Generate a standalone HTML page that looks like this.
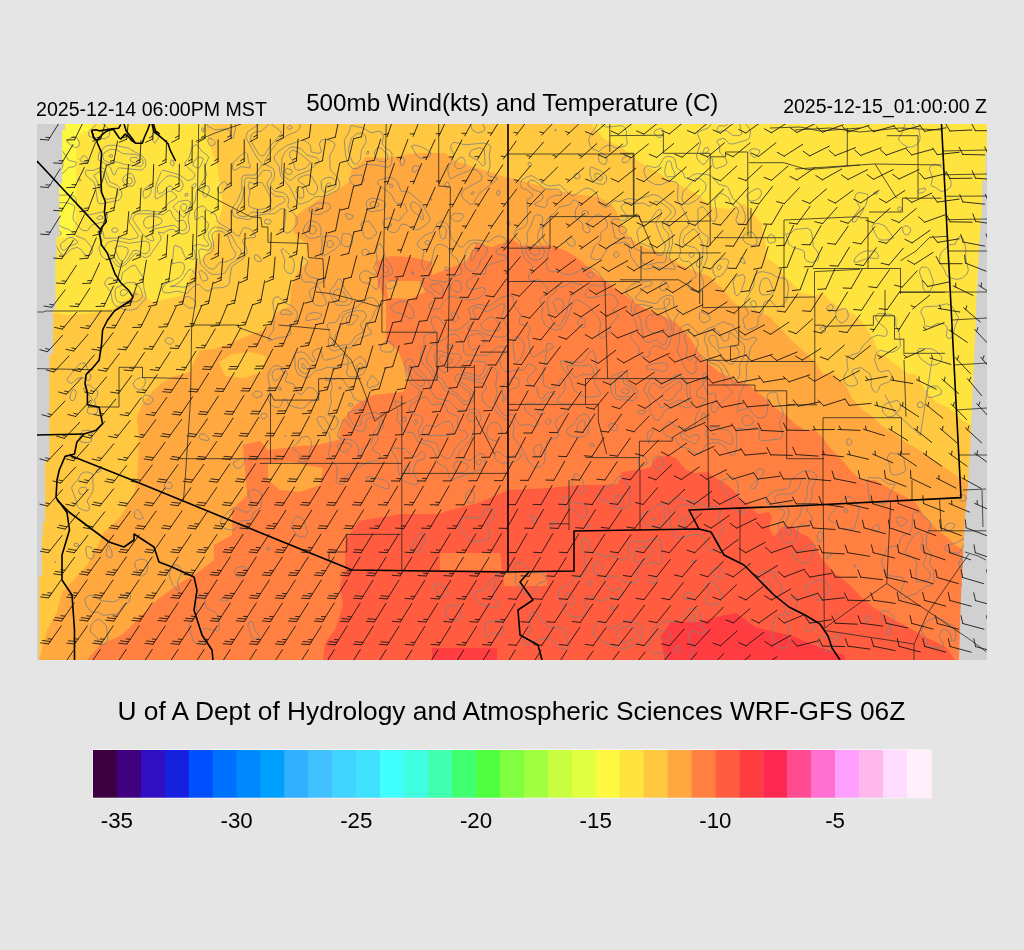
<!DOCTYPE html>
<html><head><meta charset="utf-8"><style>
html,body{margin:0;padding:0;background:#e5e5e5;width:1024px;height:950px;overflow:hidden}
svg{display:block}
text{font-family:"Liberation Sans",Arial,sans-serif;fill:#000}
</style></head><body>
<svg width="1024" height="950" viewBox="0 0 1024 950">
<defs><clipPath id="mc"><rect x="37" y="124" width="950" height="536"/></clipPath><clipPath id="dc"><polygon points="65.1,124.0 65.1,130.0 62.2,130.0 62.2,183.0 59.2,183.0 59.2,237.0 56.5,237.0 56.5,260.0 55.4,260.0 55.4,310.0 53.0,310.0 53.0,354.0 49.4,354.0 49.4,460.0 45.7,460.0 45.7,464.0 45.1,464.0 45.1,522.0 43.0,522.0 43.0,535.0 41.9,535.0 41.9,576.0 39.0,576.0 39.0,660.0 959.0,660.0 961.0,597.0 963.0,558.0 965.0,519.0 968.4,480.0 970.8,437.0 971.8,409.0 973.7,368.0 975.5,330.0 976.6,292.0 979.6,239.0 982.0,210.0 982.4,181.0 985.5,181.0 985.5,153.4 987.0,153.4 987.0,124.0"/></clipPath></defs>
<rect width="1024" height="950" fill="#e5e5e5"/>
<text x="36" y="116.3" font-size="19.6">2025-12-14 06:00PM MST</text>
<text x="512.3" y="111" font-size="24.2" text-anchor="middle">500mb Wind(kts) and Temperature (C)</text>
<text x="987" y="113.1" font-size="19.5" text-anchor="end">2025-12-15_01:00:00 Z</text>
<g clip-path="url(#mc)">
<rect x="37" y="124" width="950" height="536" fill="#ffc840"/>
<polygon points="30.0,118.0 202.0,118.0 209.0,141.0 211.0,149.0 217.0,163.0 223.0,206.0 219.0,219.0 215.0,237.0 206.0,254.0 197.0,263.0 189.0,276.0 187.0,293.0 176.0,297.0 152.0,302.0 137.0,291.0 130.0,297.0 115.0,308.0 93.0,313.0 67.0,315.0 58.0,313.0 30.0,313.0" fill="#ffe440"/>
<polygon points="591.0,118.0 591.0,124.0 604.0,139.0 624.0,149.0 639.0,162.0 657.0,172.0 669.0,179.0 684.0,187.0 697.0,194.0 712.0,207.0 729.0,209.0 744.0,204.0 754.0,214.0 762.0,224.0 765.0,240.0 767.0,258.0 777.0,265.0 783.0,275.0 793.0,284.0 802.0,293.0 814.0,296.0 823.0,293.0 830.0,301.0 841.0,308.0 854.0,314.0 865.0,325.0 873.0,339.0 879.0,353.0 889.0,359.0 898.0,366.0 908.0,374.0 916.0,374.0 920.0,382.0 928.0,394.0 936.0,402.0 947.0,407.0 955.0,413.0 963.0,421.0 971.0,425.0 995.0,425.0 995.0,118.0" fill="#ffe440"/>
<polygon points="30.0,118.0 93.0,118.0 92.0,128.0 80.0,134.0 76.0,150.0 76.0,200.0 75.0,225.0 72.0,237.0 30.0,240.0" fill="#fff840"/>
<polygon points="39.0,660.0 42.0,650.0 47.0,630.0 57.0,612.0 62.0,592.0 74.0,580.0 87.0,565.0 97.0,547.0 104.0,532.0 120.0,517.0 134.0,495.0 137.0,480.0 139.0,440.0 137.0,417.0 142.7,403.5 152.5,391.8 160.3,384.0 174.0,376.2 189.6,372.3 195.5,358.6 199.4,350.8 215.0,348.8 230.6,343.0 250.0,335.0 265.8,329.3 277.5,311.7 290.0,306.0 291.0,287.0 298.0,272.0 310.0,259.0 306.0,244.0 293.0,232.0 295.0,217.0 306.0,208.0 321.0,198.0 333.0,193.0 350.0,181.0 351.0,170.0 361.0,163.0 365.0,157.0 386.0,158.0 416.0,153.0 445.0,153.0 456.0,161.0 470.0,166.0 490.0,172.0 505.0,177.0 523.0,181.0 549.0,189.0 574.0,194.0 599.0,197.0 614.0,207.0 622.0,224.0 629.0,237.0 644.0,247.0 664.0,254.0 679.0,264.0 700.0,273.0 710.0,277.0 723.0,289.0 732.0,301.0 740.0,307.0 756.0,310.0 770.0,317.0 783.0,331.0 793.0,342.0 805.0,352.0 816.0,363.0 823.0,374.0 834.0,374.0 846.0,386.0 852.0,398.0 861.0,409.0 873.0,417.0 881.0,425.0 893.0,433.0 904.0,441.0 916.0,448.0 928.0,456.0 940.0,464.0 951.0,472.0 963.0,480.0 968.0,482.0 995.0,482.0 995.0,670.0 30.0,670.0 30.0,660.0" fill="#ffa840"/>
<polygon points="219.0,362.0 232.0,354.0 250.0,352.0 266.0,356.0 262.0,372.0 245.0,378.0 225.0,376.0" fill="#ffc840"/>
<polygon points="30.0,670.0 30.0,660.0 87.0,660.0 100.0,645.0 122.0,635.0 137.0,620.0 157.0,600.0 180.0,583.0 197.0,573.0 214.0,560.0 214.0,545.0 232.0,535.0 232.0,510.0 247.0,495.0 245.0,470.0 243.0,445.0 260.0,441.0 268.0,450.0 300.0,446.0 318.0,445.0 338.0,440.0 343.0,420.0 355.0,405.0 373.0,395.0 403.0,392.0 410.0,380.0 398.0,350.0 386.0,342.0 386.0,300.0 378.0,285.0 376.0,262.0 390.0,256.0 410.0,257.0 432.0,262.0 432.0,275.0 450.0,268.0 467.0,261.0 476.0,244.0 492.0,247.0 506.0,242.0 511.0,238.0 520.0,245.0 533.0,246.0 549.0,245.0 564.7,250.3 575.6,256.6 585.0,264.4 594.4,272.2 606.9,281.6 619.4,291.0 630.3,298.8 641.2,306.6 650.6,311.2 660.0,314.4 669.4,319.0 677.2,323.8 689.0,337.0 704.0,360.0 719.0,372.0 734.0,380.0 749.0,385.0 764.0,397.0 774.0,407.0 786.0,415.0 796.0,425.0 805.0,430.0 814.0,429.0 822.0,437.0 830.0,448.0 842.0,460.0 852.0,472.0 862.0,480.0 875.0,480.0 889.0,488.0 904.0,496.0 916.0,503.0 924.0,515.0 936.0,529.0 947.0,537.0 955.0,545.0 963.0,550.0 995.0,550.0 995.0,670.0" fill="#ff8040"/>
<polygon points="385.0,281.0 421.0,281.0 425.0,292.0 410.0,299.0 388.0,298.0" fill="#ffa840"/>
<polygon points="268.0,463.0 290.0,462.0 323.0,468.0 320.0,485.0 300.0,492.0 280.0,490.0 268.0,480.0" fill="#ffa840"/>
<polygon points="323.0,660.0 325.0,643.0 335.0,630.0 343.0,605.0 340.0,585.0 345.0,570.0 345.0,541.0 359.0,521.0 401.0,514.0 437.0,514.0 481.0,502.0 508.0,490.0 549.0,488.0 580.0,485.0 600.0,485.0 618.0,484.0 622.0,472.0 650.0,468.0 656.0,458.0 667.0,455.0 676.0,458.0 686.0,470.0 695.0,473.0 707.0,472.0 714.0,477.0 723.0,482.0 732.0,489.0 741.0,498.0 751.0,507.0 758.0,514.0 769.0,512.0 772.0,517.0 769.0,528.0 774.0,537.0 783.0,526.0 792.0,526.0 797.0,531.0 808.0,537.0 815.0,544.0 818.0,552.0 825.0,563.0 836.0,574.0 850.0,585.0 861.0,597.0 873.0,607.0 889.0,617.0 904.0,625.0 920.0,634.0 936.0,642.0 947.0,648.0 955.0,660.0 955.0,670.0 323.0,670.0" fill="#ff5c40"/>
<polygon points="440.0,553.0 500.0,553.0 502.0,570.0 440.0,570.0" fill="#ff8040"/>
<polygon points="504.0,571.0 547.0,571.0 547.0,586.0 504.0,586.0" fill="#ff8040"/>
<polygon points="330.0,500.0 354.0,500.0 352.0,515.0 330.0,520.0" fill="#ff8040"/>
<polygon points="661.0,636.0 671.0,622.0 699.0,622.0 717.0,617.0 736.0,613.0 755.0,627.0 792.0,636.0 816.0,646.0 844.0,655.0 848.0,670.0 666.0,670.0" fill="#ff3c40"/>
<polygon points="432.0,648.0 497.0,648.0 497.0,670.0 432.0,670.0" fill="#ff3c40"/>
<polygon points="30.0,118.0 65.1,118.0 65.1,130.0 62.2,130.0 62.2,183.0 59.2,183.0 59.2,237.0 56.5,237.0 56.5,260.0 55.4,260.0 55.4,310.0 53.0,310.0 53.0,354.0 49.4,354.0 49.4,460.0 45.7,460.0 45.7,464.0 45.1,464.0 45.1,522.0 43.0,522.0 43.0,535.0 41.9,535.0 41.9,576.0 39.0,576.0 39.0,660.0 30.0,670.0" fill="#d0d0d0"/>
<polygon points="995.0,153.4 985.5,153.4 985.5,181.0 982.4,181.0 982.0,210.0 979.6,239.0 976.6,292.0 975.5,330.0 973.7,368.0 971.8,409.0 970.8,437.0 968.4,480.0 965.0,519.0 963.0,558.0 961.0,597.0 959.0,660.0 995.0,670.0" fill="#d0d0d0"/>
<g fill="none" stroke="#808080" stroke-width="0.8" clip-path="url(#dc)">
<path d="M266.9 208.0L270.6 204.0L271.1 200.0L269.9 196.0L263.0 183.7L261.0 182.2L255.0 184.0L249.0 181.9L248.2 186.0L250.0 192.0L248.3 200.0L249.0 206.0L252.3 208.0L259.0 209.7L266.9 208.0M185.8 210.0L187.0 206.0L185.6 204.0L182.6 204.0L180.5 206.0L181.0 209.1L183.0 211.2L185.0 211.1L185.8 210.0M662.9 254.0L665.3 248.0L665.2 244.0L661.0 237.2L655.9 224.0L655.9 222.0L661.5 214.0L661.0 210.1L659.0 209.3L657.0 210.6L649.2 222.0L647.2 224.0L639.0 227.9L636.8 232.0L639.0 242.5L651.0 247.2L657.0 255.1L661.0 255.7L662.9 254.0M149.5 228.0L160.1 224.0L161.9 222.0L161.9 220.0L160.1 218.0L155.0 216.1L149.0 216.2L145.3 218.0L143.4 222.0L144.3 226.0L147.0 228.4L149.5 228.0M623.2 234.0L626.1 232.0L626.7 230.0L625.0 227.3L620.4 226.0L618.9 228.0L619.8 232.0L621.0 233.6L623.2 234.0M124.0 260.0L127.5 254.0L128.3 250.0L127.3 248.0L121.0 245.9L117.0 246.3L114.7 248.0L119.0 258.7L121.0 261.1L124.0 260.0M141.2 246.0L140.5 246.0L141.2 246.0M538.7 254.0L539.6 250.0L537.0 245.9L535.0 244.5L533.0 244.5L531.0 245.9L529.4 250.0L531.0 253.4L535.0 255.4L538.7 254.0M473.2 260.0L476.9 252.0L477.0 249.9L475.0 248.6L472.8 250.0L471.0 254.7L471.0 260.2L473.2 260.0M561.9 312.0L564.0 306.0L563.0 300.7L559.0 298.5L555.0 299.4L553.1 302.0L556.6 312.0L559.0 313.8L561.9 312.0M353.0 324.0L358.2 318.0L358.0 316.0L357.0 315.3L351.0 314.9L348.3 316.0L346.5 318.0L346.3 322.0L347.1 324.0L349.0 325.3L353.0 324.0M732.8 364.0L739.0 356.0L739.1 352.0L737.0 347.7L735.0 346.2L727.0 346.7L719.0 348.6L716.6 338.0L715.0 335.6L711.0 335.1L709.0 337.5L708.7 340.0L711.0 344.4L717.2 350.0L727.0 362.0L731.0 364.7L732.8 364.0M452.3 434.0L453.6 432.0L453.3 428.0L451.0 422.4L449.0 421.1L445.0 421.6L435.0 427.2L427.0 425.0L423.4 428.0L422.2 432.0L423.0 434.4L425.0 435.6L449.0 435.3L452.3 434.0M715.0 434.0L712.5 434.0L715.0 434.0M269.2 124.0L261.0 131.3L255.0 132.0L251.9 134.0L250.8 136.0L250.8 140.0L252.6 144.0L258.7 154.0L261.0 155.8L263.0 155.9L265.0 154.4L268.6 148.0L280.7 134.0L281.5 132.0L271.2 124.0M292.3 128.0L291.0 125.5L289.0 125.7L287.1 128.0L289.0 129.4L292.3 128.0M200.5 166.0L203.2 160.0L203.0 158.0L199.0 156.9L195.0 160.0L192.6 164.0L193.5 166.0L197.0 168.0L199.0 167.8L200.5 166.0M247.2 216.0L251.0 212.5L253.0 212.0L261.0 212.9L271.0 210.5L277.0 205.8L283.0 202.9L285.0 200.1L284.5 198.0L283.0 196.7L275.0 196.1L271.0 192.3L268.1 188.0L267.0 184.0L267.4 182.0L271.0 177.0L271.7 174.0L271.0 171.9L269.0 170.5L263.0 170.3L257.0 178.1L255.0 178.7L247.0 177.6L245.0 178.8L244.0 192.0L241.3 202.0L237.5 208.0L236.6 212.0L237.2 214.0L240.0 216.0L245.0 216.7L247.2 216.0M114.7 198.0L117.0 196.1L117.8 194.0L117.4 190.0L115.5 188.0L109.5 186.0L107.3 184.0L103.0 171.8L101.0 170.9L95.3 174.0L93.9 176.0L96.6 180.0L103.1 198.0L107.0 199.3L114.7 198.0M163.5 192.0L169.0 185.8L171.0 186.1L177.0 191.2L179.0 191.5L181.0 190.5L183.3 186.0L182.2 182.0L180.9 180.0L177.0 177.2L171.0 175.7L167.0 176.2L159.0 184.1L157.3 188.0L157.5 192.0L159.0 193.8L163.5 192.0M546.5 206.0L547.3 200.0L549.1 198.0L555.0 195.3L561.0 195.5L561.7 194.0L561.1 192.0L559.3 190.0L557.0 189.2L545.0 189.1L535.0 180.9L531.0 180.0L529.0 181.1L527.6 184.0L528.7 186.0L533.0 189.4L541.0 192.5L543.1 196.0L542.9 198.0L541.4 200.0L534.3 204.0L535.0 205.1L545.0 207.8L546.5 206.0M193.1 188.0L195.6 186.0L196.1 184.0L195.0 183.3L191.4 186.0L193.1 188.0M185.3 216.0L187.8 212.0L190.4 204.0L190.4 202.0L187.0 200.2L179.0 201.4L173.5 206.0L173.7 208.0L183.0 217.5L185.3 216.0M378.7 206.0L379.0 204.0L375.0 201.6L371.0 202.0L369.9 204.0L371.0 207.0L373.0 207.7L378.7 206.0M652.3 264.0L657.0 262.5L663.0 262.9L665.0 262.2L665.9 260.0L666.7 254.0L669.3 246.0L669.0 236.0L667.2 232.0L663.1 228.0L662.2 224.0L664.2 220.0L670.1 214.0L671.1 212.0L670.6 210.0L663.0 203.9L657.0 201.4L655.0 201.7L651.0 205.6L649.0 206.3L643.0 202.9L635.0 203.9L629.0 202.7L625.0 203.3L621.5 206.0L621.0 208.0L626.9 216.0L627.6 218.0L627.0 219.2L623.0 220.6L615.0 218.6L611.8 220.0L611.5 222.0L615.0 237.9L619.0 239.2L631.0 237.6L635.0 249.0L642.4 252.0L640.5 256.0L640.6 258.0L643.0 263.3L647.0 265.1L652.3 264.0M317.4 210.0L318.8 208.0L316.2 208.0L316.2 210.0L317.4 210.0M154.1 240.0L151.5 234.0L153.0 230.2L155.0 228.8L173.0 225.2L175.0 225.7L180.3 230.0L183.0 230.5L185.0 229.8L186.4 228.0L186.6 226.0L185.0 221.6L183.0 220.1L177.0 221.4L172.7 216.0L171.0 211.2L169.0 210.1L163.0 214.8L149.0 213.7L137.0 213.9L135.0 214.7L133.0 217.9L133.0 220.1L141.1 232.0L147.0 238.6L151.0 240.8L153.0 240.9L154.1 240.0M586.3 216.0L588.4 214.0L588.3 212.0L585.0 210.3L583.0 211.0L581.3 214.0L583.0 216.1L586.3 216.0M538.9 260.0L543.0 256.6L544.5 252.0L543.6 248.0L539.1 242.0L537.5 238.0L537.9 234.0L542.3 222.0L542.9 218.0L541.0 215.5L537.0 214.8L534.2 216.0L531.8 224.0L527.5 232.0L526.8 234.0L527.8 240.0L525.1 248.0L525.8 252.0L529.0 257.1L533.0 259.7L538.9 260.0M445.4 238.0L446.6 230.0L445.0 227.3L443.0 226.2L441.0 226.4L439.1 230.0L440.2 236.0L441.0 238.0L443.0 239.1L445.4 238.0M65.2 250.0L69.0 246.0L75.9 244.0L78.2 242.0L73.0 237.7L69.0 237.2L60.5 244.0L61.0 248.5L63.0 250.3L65.2 250.0M123.2 264.0L127.3 260.0L133.0 250.8L137.0 250.4L143.0 253.6L147.0 253.6L149.0 251.2L149.9 248.0L149.0 242.6L145.0 241.0L129.0 243.3L115.0 240.4L108.4 242.0L105.2 246.0L104.7 248.0L105.9 252.0L107.9 254.0L113.0 256.0L119.0 264.2L123.2 264.0M429.7 244.0L429.9 242.0L429.0 241.0L427.0 240.4L424.8 242.0L425.2 244.0L427.0 245.0L429.7 244.0M475.5 270.0L477.9 268.0L480.9 260.0L485.0 255.9L487.6 250.0L487.4 248.0L485.1 246.0L479.0 243.4L475.0 242.9L470.9 244.0L466.4 250.0L464.9 254.0L464.1 264.0L465.8 268.0L469.0 270.9L471.0 271.3L475.5 270.0M591.5 278.0L594.0 276.0L593.6 274.0L591.0 272.1L589.0 272.3L586.9 274.0L586.8 276.0L589.0 277.8L591.5 278.0M459.1 292.0L461.5 290.0L461.0 284.0L459.0 280.8L455.0 280.6L451.3 284.0L450.7 288.0L452.1 290.0L455.0 291.7L459.1 292.0M557.7 326.0L561.1 324.0L566.8 312.0L569.9 298.0L581.4 288.0L582.8 286.0L581.0 284.0L577.0 284.0L571.0 281.9L563.0 287.2L557.0 285.9L555.4 292.0L548.2 298.0L546.9 302.0L549.3 314.0L553.5 324.0L557.7 326.0M442.1 294.0L443.6 290.0L441.0 285.0L437.0 283.4L431.0 284.6L430.1 286.0L431.1 288.0L439.0 293.6L441.0 294.5L442.1 294.0M292.2 314.0L291.0 311.9L286.6 310.0L283.0 309.7L280.5 312.0L281.0 314.5L287.0 314.2L291.0 315.2L292.2 314.0M338.1 346.0L350.5 344.0L355.0 336.6L362.9 332.0L363.1 330.0L360.6 326.0L360.5 324.0L365.8 318.0L366.5 316.0L364.7 312.0L361.0 310.5L355.0 310.9L347.0 313.0L343.0 316.0L339.9 328.0L336.0 334.0L332.7 344.0L333.1 346.0L335.0 346.9L338.1 346.0M735.3 384.0L740.0 374.0L739.2 366.0L744.3 356.0L744.5 346.0L741.5 342.0L731.0 332.8L729.0 332.9L728.9 338.0L727.8 340.0L725.0 341.5L722.3 340.0L719.0 331.6L715.0 330.0L709.0 331.0L705.8 334.0L704.1 340.0L707.6 348.0L707.9 356.0L711.0 359.2L719.0 361.2L722.6 364.0L725.5 368.0L733.0 383.2L735.3 384.0M691.3 360.0L695.0 354.2L698.3 344.0L697.3 340.0L694.6 336.0L691.0 332.5L689.0 331.9L685.2 334.0L684.7 338.0L687.7 348.0L686.3 354.0L686.8 358.0L689.0 360.5L691.3 360.0M422.5 386.0L424.8 384.0L424.3 380.0L422.8 378.0L416.7 374.0L411.0 365.5L409.0 365.5L409.0 371.0L413.0 380.0L417.0 384.5L420.1 386.0L422.5 386.0M578.9 376.0L583.0 374.2L591.0 375.0L593.0 374.0L593.8 372.0L593.0 368.6L589.0 364.6L583.0 366.0L571.0 365.0L567.2 366.0L567.2 368.0L568.4 370.0L575.0 377.2L577.0 377.6L578.9 376.0M277.0 380.0L283.3 374.0L283.5 372.0L282.2 370.0L279.0 368.6L273.9 370.0L271.8 374.0L273.0 379.5L275.0 381.1L277.0 380.0M281.1 390.0L281.0 388.0L279.0 386.8L277.8 388.0L279.0 390.2L281.1 390.0M450.6 458.0L454.2 450.0L460.2 442.0L466.4 438.0L467.6 436.0L467.5 434.0L465.0 431.4L461.0 430.1L459.0 428.5L457.4 424.0L458.1 418.0L457.1 416.0L447.7 412.0L445.0 404.8L441.0 403.7L433.0 404.7L431.0 403.9L427.0 397.6L425.0 396.8L423.0 397.2L411.4 404.0L409.0 408.0L409.1 410.0L411.0 412.8L420.1 416.0L422.6 418.0L422.7 422.0L418.3 430.0L419.0 436.6L422.3 440.0L433.0 442.0L436.9 444.0L439.5 452.0L442.0 456.0L447.0 458.9L450.6 458.0M475.3 420.0L477.0 416.0L475.0 413.1L471.0 412.8L468.4 414.0L466.9 416.0L467.0 418.0L469.0 420.8L473.0 421.2L475.3 420.0M706.1 420.0L706.5 418.0L705.0 413.7L703.0 412.9L701.1 418.0L701.6 420.0L703.0 421.4L705.0 421.3L706.1 420.0M752.1 424.0L753.4 422.0L753.0 420.0L749.0 415.8L745.0 415.6L742.6 418.0L741.7 422.0L745.0 425.4L749.0 425.7L752.1 424.0M405.6 422.0L406.0 418.0L405.0 416.9L403.0 417.1L402.2 420.0L404.2 422.0L405.6 422.0M581.5 432.0L583.8 430.0L585.0 426.0L585.0 421.8L583.0 419.5L579.0 422.6L576.6 428.0L576.9 430.0L578.9 432.0L581.5 432.0M731.8 444.0L733.0 440.0L732.5 436.0L729.0 430.8L727.0 429.8L721.0 429.4L715.0 426.8L709.0 427.8L706.3 430.0L705.2 434.0L705.9 436.0L709.0 438.8L721.0 440.1L731.0 444.6L731.8 444.0M697.8 442.0L699.5 438.0L699.2 436.0L697.0 434.5L695.0 434.6L689.0 437.3L683.0 433.0L680.2 434.0L681.0 437.8L683.0 439.5L687.0 440.1L693.0 443.5L695.0 443.8L697.8 442.0M480.5 464.0L481.5 462.0L481.0 459.8L479.0 459.0L477.2 460.0L476.0 462.0L476.2 464.0L479.0 464.8L480.5 464.0M464.2 472.0L468.2 468.0L468.2 466.0L466.7 464.0L461.0 461.4L457.0 461.5L455.0 462.6L453.7 466.0L455.0 470.9L459.0 473.0L464.2 472.0M621.5 502.0L622.3 500.0L621.0 495.8L619.0 494.9L614.8 496.0L614.1 498.0L615.9 502.0L619.0 503.2L621.5 502.0M847.9 512.0L847.9 510.0L847.0 509.0L845.0 508.5L843.7 510.0L845.0 512.3L847.9 512.0M637.5 562.0L643.5 560.0L650.7 556.0L653.1 552.0L652.9 550.0L651.4 548.0L647.0 547.0L636.8 548.0L633.4 560.0L634.7 562.0L637.5 562.0M598.7 574.0L601.3 572.0L602.8 568.0L601.0 564.0L597.0 561.7L595.0 562.3L593.7 564.0L593.2 570.0L595.0 574.4L598.7 574.0M591.7 584.0L592.2 582.0L591.0 580.0L587.4 582.0L586.8 584.0L589.0 585.5L591.7 584.0M573.3 604.0L574.4 600.0L574.0 598.0L571.0 593.9L569.0 592.6L567.0 592.6L565.5 594.0L565.2 596.0L567.0 600.7L571.0 605.4L573.3 604.0M259.0 124.0L247.3 132.0L246.0 138.0L257.0 157.9L262.4 164.0L255.0 175.1L245.0 175.0L242.8 176.0L241.8 178.0L241.8 190.0L237.0 201.6L233.6 206.0L232.5 210.0L232.7 214.0L233.7 216.0L237.0 217.7L249.0 219.7L253.9 216.0L267.0 213.8L273.0 213.8L275.0 213.4L281.0 208.7L285.0 208.8L285.8 210.0L285.8 216.0L283.9 230.0L285.0 232.3L287.0 233.2L291.0 231.4L295.8 226.0L297.5 222.0L297.0 218.0L292.9 212.0L288.5 208.0L287.8 206.0L288.8 200.0L287.0 195.6L283.0 192.6L275.0 191.3L271.3 188.0L270.4 184.0L274.1 178.0L274.6 172.0L273.0 168.4L264.7 164.0L264.4 162.0L269.9 152.0L278.0 142.0L287.0 135.5L297.0 131.4L299.9 128.0L299.9 124.0M471.2 124.0L470.9 126.0L472.4 130.0L477.0 132.9L482.1 132.0L484.6 130.0L484.8 128.0L482.6 124.0M597.0 124.0L595.4 128.0L590.8 134.0L588.6 140.0L590.0 146.0L593.0 149.1L599.0 151.7L603.0 147.7L607.0 145.4L611.0 145.5L615.0 147.8L617.0 148.0L625.3 146.0L627.0 144.0L627.2 142.0L626.1 136.0L626.6 132.0L625.0 128.2L623.0 126.2L621.0 125.6L607.0 127.2L603.3 126.0L601.4 124.0M79.0 146.0L79.4 142.0L77.0 138.0L73.0 137.0L67.8 140.0L67.1 142.0L73.0 146.6L77.0 147.5L79.0 146.0M123.5 266.0L127.0 263.2L135.0 253.5L138.4 254.0L145.0 257.9L149.5 256.0L160.7 240.0L160.9 236.0L158.9 234.0L158.4 232.0L163.0 233.2L169.0 229.8L173.0 229.4L179.0 233.3L183.0 234.3L187.0 232.8L189.0 230.9L189.6 228.0L188.1 220.0L188.5 216.0L191.0 208.0L195.5 200.0L196.2 192.0L206.1 176.0L206.6 174.0L205.1 170.0L205.0 166.0L208.5 158.0L208.1 156.0L202.6 152.0L197.0 145.0L195.0 144.9L193.0 146.5L191.1 150.0L189.3 158.0L185.0 162.0L185.0 164.0L186.5 166.0L194.8 174.0L194.9 176.0L193.0 178.7L189.0 180.6L187.0 180.3L179.0 174.6L163.0 170.1L161.2 172.0L157.0 181.7L155.4 188.0L155.0 198.1L157.0 199.0L169.0 191.1L171.0 191.1L174.8 194.0L176.6 196.0L176.3 198.0L169.0 202.8L161.0 211.5L157.0 211.9L147.0 210.5L137.0 211.1L133.7 212.0L131.8 214.0L129.2 222.0L137.6 234.0L138.4 236.0L137.2 238.0L129.0 239.6L121.0 237.9L105.0 238.3L104.1 238.0L103.2 232.0L102.1 230.0L99.0 230.0L98.4 234.0L102.3 240.0L98.9 248.0L101.3 256.0L105.0 258.9L112.2 260.0L117.0 266.0L119.0 266.9L123.5 266.0M425.8 158.0L429.9 156.0L430.9 154.0L430.4 152.0L421.0 146.6L415.0 145.0L411.4 146.0L417.0 156.2L421.0 158.3L425.8 158.0M757.1 156.0L759.7 152.0L759.4 150.0L753.0 148.5L749.6 150.0L750.6 154.0L753.0 156.8L755.0 157.3L757.1 156.0M605.6 164.0L607.2 160.0L606.5 156.0L601.0 152.5L599.0 154.1L598.5 156.0L599.0 161.8L603.0 164.5L605.6 164.0M627.1 162.0L629.5 160.0L629.9 158.0L629.0 156.5L627.0 155.9L623.0 157.9L622.1 160.0L623.0 162.8L627.1 162.0M403.9 164.0L405.0 160.0L403.0 157.0L401.0 157.9L400.0 162.0L401.0 165.3L403.0 165.3L403.9 164.0M531.5 166.0L531.0 163.0L529.0 162.0L527.8 164.0L528.9 166.0L531.0 166.6L531.5 166.0M110.5 202.0L119.0 200.2L120.9 198.0L122.1 194.0L119.9 188.0L117.0 185.1L109.8 182.0L105.2 170.0L103.0 168.0L99.3 168.0L93.0 170.5L87.0 170.2L85.1 172.0L86.4 176.0L93.0 181.2L94.8 184.0L97.8 202.0L99.0 203.5L101.0 203.9L110.5 202.0M579.7 178.0L580.0 176.0L579.0 174.0L577.0 173.2L575.0 174.0L574.4 176.0L575.0 178.2L577.0 179.1L579.7 178.0M357.2 186.0L361.5 184.0L364.4 180.0L363.0 176.1L361.0 175.0L353.0 175.5L349.3 178.0L350.5 182.0L353.0 184.8L357.2 186.0M602.6 338.0L609.9 332.0L610.0 326.0L617.0 317.4L619.5 316.0L613.4 312.0L612.4 310.0L617.3 306.0L618.2 304.0L617.4 300.0L615.0 296.3L611.0 294.2L591.0 297.7L587.0 297.2L585.5 296.0L585.3 292.0L591.0 285.2L593.0 284.9L601.0 286.6L604.2 284.0L603.5 280.0L597.8 272.0L593.0 268.3L589.0 267.4L585.0 268.1L573.0 274.0L569.0 275.0L565.0 274.4L559.0 271.3L551.0 271.9L547.9 270.0L545.7 262.0L549.3 250.0L549.3 246.0L543.8 240.0L542.3 234.0L543.1 228.0L548.1 218.0L555.6 212.0L559.0 207.2L569.0 204.9L570.8 204.0L573.0 200.5L575.0 200.0L578.3 202.0L579.2 204.0L575.5 210.0L575.2 218.0L581.3 222.0L582.6 224.0L583.0 229.9L585.0 232.0L587.0 232.7L589.7 232.0L590.2 230.0L587.4 224.0L587.4 222.0L595.0 215.4L599.0 214.7L603.0 216.5L606.0 220.0L607.7 224.0L606.8 228.0L601.4 232.0L600.6 234.0L600.9 240.0L594.5 246.0L590.8 256.0L591.1 258.0L595.0 259.6L601.0 259.0L609.0 245.9L613.0 243.8L625.0 242.0L628.3 244.0L631.0 256.4L637.6 266.0L645.0 269.3L655.0 267.5L673.0 269.2L675.0 269.0L675.7 268.0L670.1 260.0L669.1 256.0L672.5 244.0L672.3 234.0L671.0 230.6L667.4 226.0L667.1 224.0L669.0 220.9L675.0 215.4L675.4 210.0L673.0 206.6L659.0 196.2L653.0 194.4L637.0 200.0L629.0 198.4L619.0 201.7L615.0 200.6L613.0 201.4L609.0 206.0L605.0 207.2L601.0 205.0L599.0 202.4L597.0 194.4L595.5 192.0L589.0 188.2L585.0 188.2L573.0 196.1L569.0 194.1L561.0 185.6L559.0 184.9L549.0 186.1L545.0 184.4L533.0 176.2L531.0 175.6L527.0 176.8L521.8 180.0L520.0 184.0L521.8 188.0L527.0 189.9L532.5 194.0L532.8 196.0L527.0 200.0L527.6 222.0L525.2 226.0L523.0 227.8L515.0 230.9L514.1 234.0L514.6 236.0L520.1 242.0L524.1 258.0L532.9 266.0L532.2 270.0L528.6 276.0L529.0 279.7L531.0 281.0L539.0 279.8L541.0 280.5L547.1 288.0L547.6 290.0L546.7 292.0L539.6 300.0L542.7 308.0L541.5 316.0L544.4 324.0L546.0 326.0L555.0 330.4L561.0 328.5L564.6 324.0L569.3 314.0L573.0 302.2L575.0 300.3L579.0 300.2L590.8 308.0L595.0 314.3L599.0 318.0L600.6 324.0L599.0 335.7L601.0 338.4L602.6 338.0M222.9 192.0L225.4 190.0L227.0 186.4L226.8 184.0L225.0 181.6L221.0 183.4L217.7 188.0L217.6 190.0L219.0 192.8L221.0 193.0L222.9 192.0M499.8 194.0L500.1 192.0L499.0 190.0L497.0 191.3L496.6 194.0L499.0 195.6L499.8 194.0M756.2 200.0L759.4 198.0L761.5 194.0L761.0 190.8L759.0 188.5L755.0 189.3L747.6 194.0L746.6 196.0L748.4 200.0L751.0 201.4L756.2 200.0M877.2 194.0L877.0 191.8L874.5 192.0L873.3 194.0L877.2 194.0M185.0 196.1L185.0 193.8L187.0 193.2L188.4 194.0L187.0 196.0L185.0 196.1M855.2 222.0L861.1 214.0L866.2 204.0L868.1 196.0L867.2 194.0L859.0 192.5L857.0 193.1L855.1 196.0L855.1 198.0L860.0 208.0L852.6 218.0L852.5 222.0L855.2 222.0M382.0 210.0L384.8 208.0L385.6 206.0L385.0 202.5L383.0 200.6L373.0 198.0L369.0 199.0L367.0 201.3L366.3 204.0L367.0 207.6L369.0 210.7L371.0 211.9L382.0 210.0M320.6 214.0L329.2 210.0L330.7 208.0L329.6 204.0L325.0 202.7L317.0 203.4L309.8 208.0L309.0 210.0L309.9 212.0L313.0 213.9L317.0 214.7L320.6 214.0M352.8 218.0L353.0 215.7L347.0 213.6L345.1 214.0L347.0 218.6L349.0 219.4L352.8 218.0M461.1 220.0L464.1 216.0L463.0 214.0L455.0 213.3L450.9 216.0L451.0 218.3L455.0 221.2L459.0 221.2L461.1 220.0M371.6 238.0L376.4 234.0L376.7 232.0L369.0 221.0L362.4 222.0L361.1 224.0L361.1 226.0L363.9 236.0L367.0 238.6L369.0 239.0L371.6 238.0M440.5 308.0L443.4 302.0L449.0 296.8L451.0 296.2L457.0 298.1L463.0 298.2L469.0 300.3L477.0 298.7L482.1 296.0L484.9 292.0L484.4 288.0L483.0 287.3L475.0 289.1L469.0 289.0L466.6 286.0L466.7 282.0L468.3 280.0L477.0 274.7L485.0 274.1L486.1 268.0L487.0 266.0L489.0 264.8L504.4 260.0L506.6 258.0L505.0 255.4L499.0 254.7L495.5 252.0L497.0 249.3L503.0 246.9L506.0 244.0L506.2 240.0L504.5 238.0L499.0 235.6L495.0 236.9L489.0 241.5L477.0 240.0L471.0 240.2L467.5 242.0L463.0 246.7L461.0 247.3L459.0 246.2L451.6 238.0L448.5 226.0L445.0 222.4L441.0 221.2L437.0 223.6L433.0 231.9L425.0 235.2L419.4 240.0L417.0 244.0L417.7 246.0L423.0 250.0L424.0 252.0L421.4 264.0L423.0 268.2L425.0 269.9L427.0 268.8L431.4 262.0L434.5 248.0L437.0 244.8L441.0 244.0L447.0 246.7L453.0 256.0L457.0 258.8L461.6 270.0L461.6 274.0L453.0 276.5L447.0 281.5L445.0 281.9L431.0 280.1L425.0 275.0L421.5 280.0L420.6 284.0L427.0 290.7L433.0 294.0L435.6 298.0L434.9 300.0L429.8 304.0L428.6 306.0L429.2 308.0L435.0 309.7L440.5 308.0M510.5 224.0L509.0 220.4L507.0 221.9L507.3 224.0L509.0 225.7L510.5 224.0M91.4 254.0L92.4 252.0L92.2 248.0L85.0 239.4L77.0 236.1L69.0 229.5L63.0 227.6L57.0 224.0L55.0 224.3L51.0 228.0L50.4 234.0L46.6 240.0L47.0 241.2L49.0 242.6L53.0 243.0L55.0 244.3L61.0 254.1L63.0 255.3L65.0 255.2L71.0 249.1L77.0 247.4L81.0 249.4L84.3 254.0L87.0 255.6L89.0 255.6L91.4 254.0M814.2 262.0L817.9 260.0L819.1 256.0L817.6 252.0L813.3 246.0L811.9 234.0L810.4 230.0L807.0 228.2L795.0 229.4L791.0 233.0L785.8 234.0L788.7 244.0L793.0 247.3L803.0 250.3L804.3 252.0L804.6 258.0L807.0 261.1L811.0 262.5L814.2 262.0M59.0 236.2L56.0 234.0L56.0 232.0L59.0 230.8L60.6 232.0L61.3 234.0L59.0 236.2M757.0 244.0L756.9 238.0L753.0 232.6L751.0 231.9L747.0 232.8L743.0 236.0L743.0 240.1L747.0 243.9L753.0 245.7L757.0 244.0M37.0 236.5L39.1 236.0L39.4 234.0L37.0 232.1M774.9 242.0L775.5 240.0L774.1 236.0L771.0 234.5L769.0 235.3L767.3 238.0L768.1 242.0L771.0 243.3L774.9 242.0M962.5 278.0L967.0 274.0L968.4 270.0L965.7 258.0L965.7 248.0L963.0 238.0L961.0 236.4L959.0 236.6L957.7 238.0L955.4 244.0L949.0 245.1L941.8 252.0L940.5 254.0L939.3 260.0L939.4 262.0L943.4 268.0L947.0 276.0L951.0 278.1L957.0 279.4L962.5 278.0M261.5 260.0L259.0 256.1L257.0 254.9L255.0 255.0L254.2 256.0L255.0 259.7L257.0 261.2L261.0 261.6L261.5 260.0M317.4 284.0L325.0 280.6L325.4 278.0L321.0 279.0L317.0 278.7L311.0 277.2L307.0 274.4L304.8 270.0L307.8 262.0L307.0 259.8L303.0 257.7L301.0 262.0L300.8 274.0L302.2 280.0L305.0 282.3L311.0 281.7L316.7 284.0L317.0 285.1L317.4 284.0M745.4 264.0L743.4 258.0L741.0 257.4L740.1 260.0L741.0 261.9L745.4 264.0M448.0 270.0L448.4 268.0L447.0 266.5L445.0 267.5L445.1 270.0L447.0 270.9L448.0 270.0M927.4 292.0L929.0 291.5L932.1 288.0L933.2 284.0L933.1 280.0L929.0 269.5L927.0 267.4L923.0 266.9L920.6 268.0L919.4 272.0L922.2 280.0L923.1 288.0L925.0 291.3L927.4 292.0M737.1 296.0L740.8 292.0L745.0 280.0L744.6 276.0L743.0 274.6L736.9 276.0L734.7 278.0L733.2 282.0L735.0 294.2L737.1 296.0M392.2 288.0L395.6 286.0L397.0 284.0L396.5 282.0L393.0 280.4L387.3 282.0L385.8 284.0L386.2 288.0L389.0 289.2L392.2 288.0M666.5 290.0L668.4 288.0L668.4 286.0L666.0 282.0L663.0 281.0L661.0 283.2L659.8 288.0L661.0 290.3L663.0 290.8L666.5 290.0M322.3 306.0L326.3 304.0L325.9 300.0L319.0 288.1L317.0 286.1L315.0 286.5L310.1 290.0L309.3 292.0L310.0 296.0L314.2 304.0L317.0 305.5L322.3 306.0M272.0 340.0L277.0 338.0L287.0 336.5L290.9 334.0L289.8 326.0L295.0 322.4L297.6 316.0L296.9 312.0L293.0 306.6L285.0 302.8L279.0 297.2L277.0 296.7L274.0 298.0L272.6 302.0L274.2 312.0L273.7 330.0L267.7 338.0L269.0 340.6L272.0 340.0M338.2 350.0L343.0 348.0L351.0 347.9L359.0 338.4L371.4 334.0L371.4 332.0L367.4 326.0L367.7 324.0L372.4 318.0L375.0 310.7L379.2 306.0L377.4 302.0L373.5 298.0L369.0 297.4L355.4 308.0L343.0 311.7L340.5 314.0L337.0 321.2L335.0 322.5L329.0 323.0L327.6 324.0L327.1 326.0L330.1 334.0L328.1 342.0L329.0 347.1L331.0 350.0L333.0 351.1L338.2 350.0M412.6 318.0L414.3 314.0L413.2 310.0L409.0 303.9L405.0 301.0L399.0 301.9L390.9 306.0L390.2 308.0L395.0 312.2L403.0 313.9L409.0 318.6L412.6 318.0M457.6 320.0L459.0 318.0L458.3 316.0L455.0 312.4L453.0 311.6L451.6 314.0L452.1 320.0L453.0 321.4L455.0 321.7L457.6 320.0M876.4 392.0L878.6 390.0L879.8 386.0L881.0 384.8L889.0 381.8L891.0 379.4L891.7 376.0L891.0 373.4L889.0 370.9L887.0 370.4L881.0 372.0L877.9 370.0L874.6 360.0L875.8 354.0L879.0 350.5L881.0 350.2L887.0 352.2L893.0 352.1L897.1 350.0L900.5 346.0L899.2 332.0L895.9 326.0L895.8 318.0L893.0 315.3L889.0 314.2L879.0 313.4L877.0 314.2L875.8 316.0L875.7 318.0L877.9 322.0L885.6 328.0L887.0 330.9L887.0 334.7L885.0 336.4L877.0 335.2L871.0 337.8L862.8 346.0L859.0 352.6L848.6 356.0L847.0 358.0L846.8 360.0L848.1 370.0L845.0 374.1L843.6 378.0L844.4 382.0L847.0 385.1L851.0 386.2L855.0 385.5L857.2 384.0L857.8 382.0L851.9 372.0L852.7 370.0L855.0 368.7L861.0 367.6L870.0 374.0L871.3 378.0L871.0 385.6L873.0 390.6L874.5 392.0L876.4 392.0M585.1 326.0L585.0 320.4L583.3 318.0L581.0 317.9L579.0 319.3L577.4 322.0L578.6 326.0L583.0 327.8L585.1 326.0M735.1 454.0L736.8 446.0L736.2 432.0L737.0 429.0L739.0 428.2L747.0 429.8L755.0 427.8L758.5 428.0L760.0 430.0L758.6 438.0L760.3 440.0L763.0 440.7L779.0 439.2L782.5 436.0L782.4 432.0L779.3 424.0L780.2 420.0L783.0 415.0L783.3 412.0L778.5 402.0L777.1 394.0L775.3 392.0L771.0 392.3L767.9 394.0L766.7 396.0L768.1 400.0L767.3 412.0L765.5 416.0L763.0 417.7L759.0 418.2L757.0 417.4L753.2 414.0L749.0 407.6L739.0 411.1L737.5 410.0L739.4 396.0L746.8 378.0L746.1 366.0L749.1 356.0L749.9 350.0L751.7 346.0L756.7 340.0L756.1 338.0L753.0 337.3L747.0 339.9L743.0 339.0L737.9 334.0L733.0 325.4L723.0 321.6L714.9 326.0L707.0 328.7L701.0 333.8L699.0 334.0L689.0 324.3L685.0 324.7L681.0 327.6L680.1 330.0L679.1 336.0L679.5 342.0L677.0 350.0L685.0 368.6L687.9 372.0L691.0 374.0L695.0 372.8L696.2 370.0L695.9 362.0L699.0 356.0L701.0 354.7L709.0 362.2L717.0 365.1L720.5 368.0L724.3 378.0L724.0 384.0L732.3 392.0L731.7 394.0L720.3 404.0L717.0 410.2L715.0 412.1L713.0 412.5L711.3 410.0L711.4 406.0L712.1 404.0L715.0 402.0L716.1 400.0L715.3 394.0L715.0 393.1L713.0 393.3L709.0 394.4L707.0 393.0L703.1 384.0L705.0 382.2L707.4 376.0L706.5 374.0L705.0 373.2L703.0 373.7L702.4 376.0L703.0 384.0L697.0 390.9L696.2 394.0L697.0 396.1L699.0 397.6L705.0 398.6L705.8 400.0L701.0 405.3L695.5 418.0L695.0 426.5L691.0 429.1L679.0 427.6L674.8 426.0L671.0 421.4L669.0 421.3L662.9 428.0L662.8 432.0L667.0 436.5L673.0 437.8L675.0 439.2L681.0 446.9L689.0 448.7L697.0 453.7L699.0 454.2L701.0 453.4L706.2 444.0L715.0 442.7L719.0 443.1L724.5 446.0L728.0 452.0L731.0 454.7L733.0 455.2L735.1 454.0M599.1 396.0L600.3 394.0L600.2 392.0L593.7 382.0L598.0 372.0L595.6 364.0L595.7 356.0L593.0 351.3L591.0 351.2L589.0 352.7L585.1 360.0L581.0 362.5L561.0 360.7L560.4 362.0L561.3 366.0L570.2 378.0L573.8 390.0L585.0 397.4L599.1 396.0M456.3 478.0L481.0 469.4L485.0 465.1L485.2 458.0L483.0 453.8L479.0 453.7L471.0 460.1L469.0 460.5L461.0 457.9L458.6 456.0L458.3 454.0L459.1 452.0L465.0 446.2L471.5 438.0L474.3 428.0L479.0 423.1L480.6 420.0L480.2 414.0L477.6 410.0L475.0 408.7L463.0 411.1L459.0 410.3L455.2 408.0L449.0 401.1L435.8 398.0L430.5 390.0L429.6 384.0L425.5 376.0L417.0 367.8L411.7 360.0L409.0 358.8L407.0 359.5L404.2 364.0L407.1 378.0L411.0 383.7L419.5 390.0L420.4 392.0L417.0 396.7L405.0 403.8L401.0 403.5L397.0 400.9L395.0 400.8L395.1 404.0L397.9 410.0L396.7 420.0L405.0 431.4L407.0 432.3L413.0 432.4L418.0 442.0L427.0 444.5L432.2 448.0L435.4 454.0L437.5 462.0L438.7 464.0L445.0 466.8L447.0 468.8L449.0 477.1L451.0 479.8L453.0 479.9L456.3 478.0M666.9 370.0L668.0 366.0L666.9 364.0L663.0 362.5L651.0 364.4L647.0 366.0L646.4 368.0L649.0 369.3L655.0 369.5L663.0 371.6L666.9 370.0M303.3 408.0L305.0 407.2L309.9 402.0L317.0 399.1L317.8 396.0L316.9 392.0L313.0 388.3L309.0 387.3L306.8 388.0L303.0 393.4L301.0 394.3L299.0 393.9L297.1 392.0L295.0 386.2L293.1 384.0L286.1 382.0L285.3 380.0L287.4 374.0L285.0 368.8L279.0 365.8L275.0 365.6L273.0 366.5L269.8 370.0L267.8 376.0L270.2 390.0L267.7 398.0L270.2 404.0L275.0 407.6L279.0 407.3L281.8 404.0L283.0 399.4L285.0 398.8L287.0 400.3L288.4 404.0L291.0 406.0L299.0 408.2L303.3 408.0M375.3 386.0L378.9 384.0L378.4 382.0L373.0 375.8L371.0 376.2L367.4 382.0L367.3 386.0L369.0 387.9L375.3 386.0M587.0 382.1L587.0 382.1M257.1 398.0L261.8 396.0L262.2 394.0L260.9 392.0L259.0 391.1L255.0 391.5L252.6 394.0L253.2 396.0L257.1 398.0M893.2 416.0L897.9 412.0L900.2 408.0L900.4 404.0L899.0 401.5L897.0 400.4L887.0 403.1L883.3 406.0L882.3 408.0L882.9 412.0L887.0 416.3L889.0 417.1L893.2 416.0M737.0 412.2L737.0 411.5L737.0 412.2M584.5 436.0L587.0 434.3L588.1 432.0L589.6 418.0L587.0 414.7L583.0 413.7L579.0 416.2L573.0 424.8L568.1 428.0L567.0 429.4L566.9 432.0L569.0 435.6L579.0 437.4L584.5 436.0M415.0 424.7L413.7 422.0L415.0 419.9L417.0 420.7L417.6 422.0L417.0 423.8L415.0 424.7M498.1 440.0L501.2 436.0L502.0 432.0L501.5 428.0L497.0 422.6L493.0 421.9L489.0 425.2L487.2 428.0L487.0 434.9L488.6 438.0L491.0 439.7L495.0 440.6L498.1 440.0M649.2 442.0L650.0 438.0L653.1 432.0L652.1 430.0L651.0 429.7L648.1 432.0L647.0 435.7L649.0 443.3L649.2 442.0M302.5 462.0L307.0 460.4L309.0 458.3L309.5 452.0L311.6 446.0L311.0 440.6L309.0 437.5L307.0 436.3L301.0 437.3L298.5 442.0L292.6 448.0L299.9 454.0L299.0 462.0L302.5 462.0M851.3 444.0L852.0 442.0L851.0 439.8L849.0 438.5L847.0 439.6L847.0 444.3L849.0 445.2L851.3 444.0M594.5 446.0L593.0 443.6L591.0 443.1L589.9 444.0L591.0 446.4L594.5 446.0M646.5 464.0L647.0 460.0L645.0 456.8L641.0 456.0L639.0 457.8L638.1 462.0L639.0 464.3L643.0 465.9L646.5 464.0M660.5 468.0L663.0 465.0L663.0 460.0L661.0 457.1L659.0 456.1L655.0 456.5L652.6 460.0L653.5 466.0L657.0 468.8L660.5 468.0M240.0 468.0L245.2 462.0L245.0 458.0L241.0 458.4L233.9 462.0L233.1 464.0L235.0 467.2L237.0 468.4L240.0 468.0M755.2 488.0L757.7 484.0L757.4 480.0L761.0 477.4L763.6 474.0L763.8 470.0L763.0 469.3L759.0 468.8L756.8 470.0L756.0 472.0L756.9 480.0L750.9 486.0L751.0 488.2L753.0 488.8L755.2 488.0M623.9 508.0L628.9 506.0L630.2 504.0L629.0 496.0L630.0 490.0L629.7 488.0L623.0 478.1L621.0 476.0L619.0 475.7L613.1 484.0L601.4 490.0L599.6 494.0L599.5 498.0L601.0 499.8L608.7 502.0L615.0 507.7L619.0 508.5L623.9 508.0M389.6 488.0L388.8 484.0L384.9 480.0L369.0 476.5L367.0 476.8L365.9 478.0L374.4 484.0L385.0 488.7L387.0 489.2L389.6 488.0M745.3 512.0L744.5 508.0L739.1 500.0L737.8 494.0L738.1 484.0L736.1 480.0L733.0 477.1L731.0 476.8L723.0 480.0L720.7 482.0L719.9 486.0L729.2 496.0L732.7 508.0L734.7 510.0L741.0 512.4L743.0 512.9L745.3 512.0M233.8 530.0L236.3 528.0L239.0 522.8L241.0 521.0L251.0 520.1L254.0 512.0L261.0 507.5L261.6 494.0L260.5 492.0L253.0 489.3L248.3 492.0L247.8 494.0L251.0 499.4L252.0 504.0L251.7 508.0L249.0 511.5L245.0 512.4L237.0 507.9L233.3 508.0L230.0 510.0L221.9 518.0L220.4 522.0L221.0 524.8L223.0 527.7L227.0 529.4L233.8 530.0M473.5 502.0L474.7 494.0L473.0 491.0L469.0 489.7L466.4 492.0L465.4 498.0L467.0 501.2L469.0 502.6L471.0 503.1L473.5 502.0M966.1 500.0L966.4 498.0L965.3 496.0L963.0 494.7L961.0 494.4L958.4 496.0L958.5 498.0L961.0 500.7L963.0 501.5L966.1 500.0M854.5 528.0L859.4 510.0L854.7 500.0L851.0 497.1L847.0 496.8L841.0 501.3L835.0 509.9L828.8 516.0L828.2 518.0L829.3 520.0L836.0 524.0L841.0 528.8L851.0 529.4L854.5 528.0M485.9 540.0L489.0 538.2L489.3 536.0L487.1 524.0L493.0 519.4L494.3 516.0L493.4 510.0L491.0 507.7L484.0 510.0L481.0 517.0L473.0 518.1L463.0 517.4L460.3 520.0L459.2 524.0L460.5 530.0L471.0 540.9L475.0 541.9L485.9 540.0M143.6 518.0L139.0 510.4L137.0 509.5L134.8 512.0L134.3 516.0L135.0 517.8L139.0 519.5L143.6 518.0M536.6 522.0L536.8 520.0L535.0 516.9L533.0 515.6L531.0 515.2L530.1 516.0L533.0 521.9L535.0 522.8L536.6 522.0M552.0 526.0L555.0 522.4L555.0 521.0L553.0 521.4L549.8 526.0L551.0 527.6L552.0 526.0M951.2 530.0L954.7 526.0L954.6 524.0L951.0 522.9L947.0 523.9L945.0 526.6L945.0 530.3L947.0 531.6L951.2 530.0M819.7 542.0L821.0 541.1L823.1 536.0L822.9 534.0L821.0 531.3L819.0 531.8L817.1 536.0L818.0 542.0L819.7 542.0M419.4 552.0L425.6 538.0L425.0 534.6L423.0 533.1L418.7 534.0L417.0 536.2L414.8 542.0L410.0 548.0L410.3 550.0L412.8 552.0L419.4 552.0M582.1 616.0L586.8 610.0L584.7 602.0L585.0 600.0L588.7 596.0L593.0 596.2L598.1 600.0L601.0 600.9L605.0 599.9L609.0 596.4L611.0 596.2L615.0 598.7L619.0 596.8L622.0 594.0L622.8 592.0L621.0 588.7L619.0 588.3L611.0 590.8L604.1 582.0L603.8 580.0L605.0 577.8L609.0 576.1L616.2 576.0L623.0 581.0L631.0 582.9L635.0 582.7L637.0 582.0L638.3 580.0L636.6 572.0L638.3 568.0L643.0 565.0L651.0 562.2L659.0 563.6L661.0 562.2L662.1 554.0L660.9 542.0L659.0 538.7L643.0 541.9L633.0 541.1L629.4 542.0L628.3 544.0L629.0 554.0L626.8 558.0L623.0 560.5L611.0 555.6L605.0 556.4L591.4 552.0L589.2 550.0L589.6 542.0L588.4 540.0L585.0 538.5L583.0 538.5L581.3 540.0L582.1 548.0L585.1 556.0L585.0 564.0L586.2 570.0L585.5 574.0L581.0 577.3L575.0 577.9L569.0 584.8L561.1 588.0L559.4 590.0L558.3 594.0L559.7 600.0L567.7 614.0L571.0 616.3L575.0 617.5L579.0 617.5L582.1 616.0M959.8 552.0L965.3 542.0L965.0 539.2L963.0 538.8L955.0 543.5L947.0 544.8L945.0 546.5L945.0 549.8L947.0 551.2L959.0 553.7L959.8 552.0M808.2 562.0L813.0 555.2L815.0 550.0L815.3 546.0L813.0 544.1L809.0 544.4L803.2 550.0L795.0 551.6L792.2 554.0L792.3 556.0L794.5 558.0L803.0 562.8L805.0 563.7L807.0 563.4L808.2 562.0M142.1 576.0L145.0 574.4L146.8 572.0L147.7 566.0L147.1 562.0L145.6 560.0L141.0 558.9L137.0 560.3L135.1 562.0L134.6 564.0L138.1 574.0L140.5 576.0L142.1 576.0M693.9 562.0L693.6 560.0L692.3 560.0L691.7 562.0L693.9 562.0M961.7 568.0L963.0 566.2L963.1 564.0L961.0 558.2L959.0 561.8L958.9 564.0L960.7 568.0L961.7 568.0M55.8 562.0L55.0 561.3L54.7 562.0L55.0 562.7L55.8 562.0M531.9 594.0L537.0 585.0L539.0 583.2L545.0 581.2L546.5 580.0L546.4 578.0L541.0 572.2L537.9 572.0L535.0 573.5L533.0 572.8L523.0 563.0L521.0 562.0L517.0 562.4L514.5 566.0L516.0 576.0L515.0 582.7L521.0 587.6L525.0 593.7L527.0 595.2L529.0 595.4L531.9 594.0M722.6 578.0L724.1 576.0L724.2 574.0L723.6 572.0L721.0 569.3L718.6 568.0L715.0 567.7L711.8 570.0L711.9 572.0L715.0 576.7L719.0 578.4L722.6 578.0M779.5 596.0L781.6 594.0L782.2 590.0L779.0 581.2L775.1 578.0L774.3 572.0L763.0 571.5L759.0 573.3L757.4 576.0L759.0 579.9L769.0 582.6L770.3 584.0L771.4 592.0L773.0 595.5L777.0 596.9L779.5 596.0M497.9 606.0L498.8 604.0L498.2 602.0L492.2 598.0L494.6 584.0L496.4 580.0L500.1 576.0L499.0 573.5L497.0 573.3L494.0 578.0L488.2 582.0L485.9 588.0L484.0 590.0L475.0 592.0L473.4 594.0L475.1 598.0L481.0 604.1L493.0 607.8L495.0 607.7L497.9 606.0M656.5 582.0L656.8 580.0L655.0 578.0L653.0 577.7L649.5 580.0L648.6 582.0L653.0 583.6L656.5 582.0M718.0 604.0L721.1 600.0L721.3 594.0L713.0 581.4L709.0 581.8L707.0 583.8L706.7 586.0L709.2 592.0L709.0 594.0L704.7 600.0L704.6 602.0L706.6 604.0L709.0 604.7L718.0 604.0M972.7 594.0L971.7 590.0L969.0 587.2L963.0 583.5L961.0 583.9L964.6 592.0L967.0 594.8L971.0 595.7L972.7 594.0M117.2 614.0L123.0 606.0L129.1 602.0L130.8 596.0L129.0 593.0L127.0 593.3L117.0 600.7L113.2 602.0L101.0 600.6L93.0 595.1L89.0 595.4L85.6 598.0L84.8 600.0L85.6 604.0L91.0 611.8L93.0 612.6L97.8 612.0L103.0 615.3L117.2 614.0M613.4 610.0L613.0 606.0L611.0 606.7L610.8 610.0L613.4 610.0M567.8 648.0L568.4 646.0L564.7 630.0L561.0 627.9L549.0 627.1L541.0 619.9L535.0 611.5L533.0 611.5L531.0 613.2L529.0 616.1L528.0 620.0L530.6 626.0L531.2 630.0L529.4 634.0L523.5 640.0L523.5 642.0L525.0 644.3L529.0 644.3L535.0 641.0L549.0 637.5L561.0 648.1L565.0 649.4L567.8 648.0M890.8 634.0L891.6 630.0L891.1 626.0L894.5 618.0L889.0 612.0L883.0 610.2L880.3 612.0L881.0 617.7L890.0 626.0L887.0 630.0L885.9 634.0L887.0 635.6L889.0 635.8L890.8 634.0M105.4 644.0L107.7 640.0L106.6 626.0L101.0 620.1L97.0 619.5L93.0 622.7L91.0 626.0L90.3 630.0L90.8 632.0L97.0 637.8L99.3 644.0L103.0 644.9L105.4 644.0M259.2 638.0L259.6 636.0L254.8 630.0L253.0 622.2L251.0 621.5L249.0 622.2L247.8 626.0L252.4 638.0L255.0 639.6L259.2 638.0M809.4 632.0L813.0 629.8L815.3 626.0L815.0 624.0L813.0 622.6L809.0 623.2L805.1 628.0L805.2 630.0L807.0 631.9L809.4 632.0M831.4 650.0L835.0 642.9L839.7 638.0L840.1 636.0L839.0 634.0L833.0 638.6L823.0 636.7L821.0 636.7L818.7 638.0L818.1 640.0L818.6 644.0L822.5 650.0L827.0 651.9L831.4 650.0M103.1 124.0L107.6 128.0L109.8 132.0L109.0 136.2L105.0 138.9L91.0 137.2L88.9 136.0L88.5 132.0L96.6 124.0M235.6 124.0L235.6 128.0L233.3 138.0L231.0 138.6L230.1 136.0L230.4 132.0L228.4 130.0L225.0 129.0L215.0 129.8L207.6 126.0L207.2 124.0M357.0 168.5L353.0 168.6L349.6 166.0L346.8 160.0L345.5 154.0L344.2 140.0L349.1 132.0L351.0 125.3L363.0 127.9L371.0 132.9L379.0 131.2L381.8 132.0L383.4 136.0L382.2 144.0L385.0 147.3L391.0 151.6L392.1 154.0L391.7 162.0L390.2 166.0L387.0 167.3L377.0 165.2L365.0 164.3L357.0 168.5M745.7 124.0L749.2 128.0L750.6 132.0L749.4 138.0L747.0 139.9L733.0 144.0L729.0 143.7L725.0 139.0L723.0 138.3L718.0 140.0L717.0 141.3L717.0 142.6L719.8 146.0L719.5 152.0L725.0 157.8L727.1 162.0L726.5 164.0L724.0 166.0L717.0 168.4L714.7 168.0L713.1 166.0L712.3 158.0L709.0 158.1L705.0 163.6L703.0 164.6L697.9 160.0L696.4 156.0L700.8 142.0L697.5 134.0L697.7 132.0L708.2 128.0L711.5 124.0M911.9 124.0L919.0 129.8L920.2 138.0L919.1 142.0L917.2 144.0L913.0 146.6L909.0 147.4L903.0 144.4L898.7 140.0L898.7 138.0L901.5 134.0L905.2 124.0M203.0 132.2L201.5 130.0L202.0 128.0L203.0 127.6L203.9 130.0L203.0 132.2M555.0 131.1L555.0 129.5L556.6 130.0L555.0 131.1M661.0 137.2L659.0 137.5L657.0 136.5L654.6 134.0L654.2 132.0L656.0 130.0L661.0 128.3L663.2 130.0L662.8 134.0L661.0 137.2M155.0 143.2L153.0 141.4L151.8 136.0L153.0 132.9L155.0 131.5L157.0 131.4L159.7 134.0L159.5 136.0L155.0 143.2M211.0 146.0L209.0 144.6L208.0 142.0L207.7 140.0L209.0 137.9L213.0 139.6L215.2 142.0L215.0 144.3L211.0 146.0M301.0 204.1L299.0 204.0L297.0 202.5L290.4 188.0L280.6 176.0L279.0 166.0L274.5 160.0L274.3 156.0L279.0 150.9L287.0 145.4L301.0 140.5L305.0 140.8L309.4 144.0L310.5 146.0L311.1 152.0L319.0 153.4L321.5 152.0L319.4 144.0L321.0 140.3L325.0 139.2L333.0 141.7L334.9 144.0L334.8 146.0L329.7 156.0L330.2 168.0L331.0 170.7L336.6 176.0L338.7 180.0L339.9 184.0L339.1 188.0L337.0 190.4L329.0 194.7L323.0 196.4L315.0 196.8L309.0 201.2L301.0 204.1M37.0 144.6L43.0 140.6L45.0 140.2L49.0 141.4L63.3 152.0L69.0 160.5L75.7 162.0L76.3 164.0L75.0 166.1L73.0 167.0L69.0 167.1L63.0 173.1L59.0 173.8L45.1 166.0L37.0 160.0M473.0 204.2L471.0 204.5L469.0 203.4L463.0 198.4L461.7 196.0L461.8 192.0L463.5 190.0L481.1 180.0L482.1 176.0L477.0 170.2L473.0 169.0L457.0 175.5L451.0 178.9L449.5 178.0L447.6 170.0L453.6 156.0L453.7 154.0L450.5 148.0L451.0 145.1L453.0 142.7L455.0 142.4L465.0 144.8L483.0 143.1L488.0 144.0L490.7 146.0L489.2 156.0L490.2 166.0L487.6 174.0L489.0 176.2L497.3 178.0L496.5 180.0L479.0 193.5L473.0 204.2M53.4 154.0L54.0 152.0L53.0 148.8L49.0 145.2L46.5 148.0L47.0 153.1L49.0 155.1L51.0 155.4L53.4 154.0M115.0 174.7L113.0 174.4L110.7 168.0L108.8 166.0L98.4 160.0L98.3 156.0L99.4 152.0L105.0 146.6L109.0 145.3L115.0 145.2L129.0 148.3L134.7 152.0L141.0 154.6L145.6 160.0L145.8 166.0L143.0 169.5L141.0 170.1L119.0 167.8L116.5 170.0L115.0 174.7M235.0 170.2L233.0 169.7L232.3 168.0L233.0 162.7L245.0 151.6L247.5 154.0L248.5 162.0L250.3 166.0L249.8 168.0L241.0 166.6L235.0 170.2M368.3 154.0L369.0 151.6L367.0 151.5L366.7 154.0L368.3 154.0M87.0 162.2L82.3 162.0L79.7 160.0L82.8 156.0L85.0 155.7L87.0 157.8L88.9 162.0L87.0 162.2M699.0 292.4L691.2 290.0L688.2 286.0L689.0 281.6L696.5 276.0L691.0 263.5L689.0 261.3L685.0 261.5L681.1 260.0L679.0 256.0L680.7 252.0L679.2 242.0L680.6 234.0L683.0 229.7L688.1 226.0L689.2 222.0L685.7 214.0L677.5 200.0L678.1 184.0L676.0 182.0L671.0 181.3L667.0 181.9L661.0 184.8L655.0 184.5L647.3 180.0L643.8 172.0L644.4 168.0L647.0 165.6L655.0 167.7L659.0 166.1L663.8 158.0L667.0 156.4L671.0 156.6L673.9 158.0L675.2 160.0L676.8 168.0L682.7 172.0L685.1 178.0L689.0 177.9L693.0 174.8L697.0 173.6L709.0 174.9L713.0 177.2L719.0 184.5L727.0 186.4L728.4 188.0L732.5 198.0L741.5 206.0L745.1 214.0L745.4 220.0L743.0 224.0L739.0 224.4L737.0 223.2L735.8 220.0L738.7 212.0L738.4 210.0L737.0 207.9L731.1 204.0L728.6 198.0L727.0 196.3L721.0 193.2L719.0 193.5L714.7 200.0L717.0 216.0L715.0 221.1L713.0 221.4L711.0 219.6L707.0 211.3L703.0 206.7L699.3 208.0L697.7 210.0L698.2 218.0L697.5 224.0L698.5 228.0L701.0 232.1L707.0 236.0L708.3 238.0L706.7 248.0L707.4 258.0L700.5 274.0L703.1 280.0L703.4 288.0L701.0 291.9L699.0 292.4M173.0 166.2L170.4 164.0L171.0 160.2L173.0 160.2L173.8 162.0L174.2 164.0L173.0 166.2M413.0 172.3L412.1 170.0L413.0 167.0L415.0 165.7L419.0 166.1L420.2 168.0L415.0 171.8L413.0 172.3M945.0 190.8L941.0 191.4L935.0 187.1L931.7 186.0L931.0 184.8L932.6 178.0L929.6 170.0L929.5 168.0L931.0 165.5L935.0 164.3L939.8 166.0L942.3 168.0L949.4 178.0L951.2 182.0L951.0 186.0L949.0 188.6L945.0 190.8M603.0 184.4L597.0 183.7L592.0 180.0L589.9 174.0L590.0 168.0L591.0 166.8L601.0 171.0L606.3 176.0L606.7 180.0L605.0 183.1L603.0 184.4M133.0 186.0L127.0 186.3L123.0 182.0L122.8 178.0L127.0 174.1L131.0 173.5L133.7 176.0L135.3 182.0L133.0 186.0M315.2 194.0L317.6 190.0L317.3 186.0L311.5 176.0L309.0 175.0L305.0 175.2L299.0 178.0L298.0 180.0L299.0 181.6L305.0 185.5L309.0 193.3L313.0 194.8L315.2 194.0M81.0 180.4L79.0 180.8L78.2 180.0L78.7 178.0L81.0 180.4M395.0 232.6L391.0 232.2L387.0 229.7L383.8 226.0L382.8 224.0L383.0 221.4L385.0 219.1L389.0 217.8L399.0 221.0L402.4 216.0L406.8 212.0L407.0 210.0L405.0 204.9L403.0 203.3L397.0 203.4L395.2 202.0L391.1 194.0L377.5 184.0L377.4 182.0L379.4 180.0L387.0 177.8L391.0 177.6L395.0 179.2L397.4 182.0L401.0 191.0L409.0 192.2L421.0 202.5L430.2 218.0L429.0 221.7L427.0 224.0L419.0 229.6L413.0 229.7L407.0 225.0L403.0 224.1L401.0 224.6L398.3 230.0L395.0 232.6M447.0 188.2L444.5 186.0L444.6 184.0L447.0 182.0L449.0 182.9L449.4 186.0L449.0 187.4L447.0 188.2M87.0 230.8L83.0 230.5L81.0 229.3L73.4 220.0L73.0 216.0L74.7 208.0L74.4 206.0L73.0 205.0L69.0 203.2L63.0 202.4L59.0 202.8L51.0 207.4L49.0 207.5L47.4 206.0L41.6 192.0L43.0 186.9L45.0 185.5L47.0 186.4L53.0 193.1L57.0 195.5L67.0 194.9L74.0 196.0L75.6 198.0L77.0 204.7L82.3 208.0L87.0 214.0L89.0 214.9L103.0 211.8L107.0 212.7L107.5 218.0L105.0 221.7L93.0 224.3L90.6 226.0L88.4 230.0L87.0 230.8M145.0 198.4L143.0 196.6L143.2 192.0L145.2 188.0L149.0 185.7L151.0 187.9L151.0 192.3L149.0 195.9L145.0 198.4M207.0 196.2L205.0 197.2L203.6 196.0L202.5 192.0L204.1 188.0L207.0 185.6L209.0 186.5L209.5 190.0L207.0 196.2M923.0 192.5L919.0 193.3L917.6 192.0L919.0 189.5L925.0 188.0L925.6 190.0L923.0 192.5M431.0 200.2L431.0 198.2L431.9 200.0L431.0 200.2M187.0 293.5L177.0 291.0L169.0 292.9L165.0 292.9L163.3 292.0L162.2 290.0L162.5 288.0L165.4 284.0L179.0 277.7L182.4 274.0L184.1 270.0L184.5 266.0L183.0 262.9L179.0 262.1L172.3 264.0L173.7 248.0L175.0 245.1L181.4 248.0L185.0 257.1L193.0 259.4L195.0 258.3L195.6 256.0L192.6 246.0L199.0 244.2L205.0 246.2L208.1 246.0L208.7 244.0L204.1 238.0L203.7 236.0L208.0 228.0L208.5 224.0L203.0 216.6L201.0 216.4L197.0 219.9L195.0 219.1L194.5 212.0L197.0 208.1L203.0 205.6L207.0 209.9L214.9 214.0L216.3 216.0L217.5 222.0L229.0 228.8L237.0 235.8L239.3 236.0L243.0 228.3L245.0 227.6L249.0 228.6L253.5 232.0L255.7 236.0L255.0 237.4L245.0 238.5L242.6 240.0L243.6 244.0L246.7 248.0L247.0 252.0L245.0 256.2L241.7 260.0L233.0 265.6L231.3 268.0L229.5 282.0L229.0 284.0L227.0 285.9L223.0 287.6L213.7 288.0L209.0 290.9L207.0 290.9L204.7 290.0L199.0 284.5L197.0 284.7L193.0 287.0L187.0 293.5M901.0 210.6L899.0 211.0L897.9 210.0L897.7 208.0L899.0 206.7L901.5 208.0L901.0 210.6M269.0 224.3L265.0 223.4L264.3 222.0L265.1 220.0L267.0 219.2L270.3 220.0L271.4 222.0L269.0 224.3M315.0 238.0L309.0 238.2L306.3 236.0L303.6 232.0L303.4 230.0L304.7 226.0L309.0 221.0L313.0 221.0L317.0 222.5L319.0 224.3L320.9 228.0L320.9 236.0L315.0 238.0M887.0 240.0L881.0 240.0L877.6 238.0L872.3 228.0L871.9 226.0L873.0 224.7L875.0 223.7L879.0 223.6L885.0 226.0L893.6 238.0L887.0 240.0M909.0 234.0L907.0 235.0L905.0 234.5L903.1 232.0L902.5 228.0L904.3 226.0L907.0 225.8L910.2 228.0L910.8 230.0L909.0 234.0M115.0 232.3L112.7 232.0L111.6 230.0L113.0 228.0L116.4 228.0L118.3 230.0L117.0 231.9L115.0 232.3M349.0 246.6L345.0 246.6L341.4 244.0L342.0 236.0L343.0 233.6L349.7 234.0L351.7 236.0L352.9 242.0L351.0 245.6L349.0 246.6M323.0 256.3L320.5 254.0L322.2 246.0L321.6 238.0L323.0 236.7L329.0 235.8L337.0 237.0L340.0 242.0L340.2 244.0L335.0 249.3L323.0 256.3M573.0 246.6L569.0 245.2L566.7 242.0L566.6 240.0L568.4 238.0L571.0 237.5L574.5 240.0L575.5 244.0L573.0 246.6M377.0 289.5L373.9 288.0L369.0 283.0L365.0 283.1L362.0 282.0L360.2 280.0L359.4 276.0L361.0 272.7L365.0 270.6L369.0 271.6L373.0 274.4L376.7 274.0L376.6 272.0L373.6 268.0L377.3 260.0L376.1 252.0L377.4 246.0L379.0 243.8L381.0 244.3L383.0 247.8L385.4 258.0L391.2 266.0L393.0 272.0L392.1 274.0L389.0 275.6L381.0 277.0L380.0 278.0L378.0 288.0L377.0 289.5M291.0 273.8L287.0 272.5L284.1 268.0L284.8 260.0L280.9 250.0L283.0 248.6L291.0 256.0L293.5 260.0L294.4 264.0L294.0 268.0L293.0 272.0L291.0 273.8M365.0 256.1L363.0 255.4L361.7 252.0L363.0 249.6L365.0 249.0L367.7 250.0L369.0 252.0L368.7 254.0L365.0 256.1M617.0 257.3L615.0 257.2L613.7 256.0L613.7 254.0L615.0 252.0L617.0 251.7L619.0 254.0L618.7 256.0L617.0 257.3M857.0 262.2L853.8 262.0L855.2 258.0L859.1 254.0L865.0 251.0L875.0 251.0L877.0 252.7L878.5 256.0L878.1 258.0L877.0 258.6L869.0 257.9L857.0 262.2M693.7 256.0L694.0 254.0L693.0 252.7L691.0 252.4L689.0 254.0L689.3 256.0L691.0 257.8L693.7 256.0M719.0 276.9L715.3 276.0L713.7 274.0L712.8 270.0L713.6 264.0L717.0 260.5L723.0 258.8L727.0 259.0L728.9 262.0L726.9 268.0L723.2 274.0L719.0 276.9M131.0 310.2L125.0 309.8L115.0 305.4L112.5 302.0L110.8 292.0L104.4 284.0L106.1 280.0L109.0 277.7L111.8 278.0L117.0 281.8L119.0 281.7L121.4 280.0L122.2 274.0L123.4 272.0L131.0 266.2L135.0 265.1L143.0 277.4L143.9 288.0L146.2 298.0L137.0 308.4L131.0 310.2M207.5 280.0L208.0 278.0L206.0 274.0L201.0 270.2L199.0 272.0L201.0 279.0L203.0 281.2L207.5 280.0M413.0 274.6L411.7 274.0L411.6 272.0L413.0 271.5L413.9 274.0L413.0 274.6M753.0 328.2L747.0 329.9L745.0 328.0L742.9 320.0L743.6 318.0L748.9 314.0L744.9 306.0L744.6 302.0L753.7 286.0L755.0 275.1L759.0 272.0L763.0 271.7L771.0 273.5L777.0 277.3L785.0 278.6L787.4 282.0L788.5 288.0L787.2 298.0L785.6 302.0L781.0 306.3L777.0 307.1L775.0 306.0L771.0 300.7L769.0 300.2L765.0 301.6L763.7 304.0L762.6 312.0L758.3 318.0L757.6 326.0L753.0 328.2M349.0 304.9L345.0 305.6L337.0 305.1L335.0 303.6L329.7 294.0L330.5 290.0L335.5 284.0L337.0 280.0L339.0 278.7L341.4 280.0L344.1 288.0L351.9 298.0L352.0 302.0L349.0 304.9M649.0 356.0L645.0 357.5L640.7 356.0L638.6 354.0L639.3 348.0L630.8 338.0L630.3 336.0L631.0 334.2L636.5 330.0L637.1 326.0L631.1 310.0L631.6 304.0L633.6 300.0L627.0 294.2L626.1 290.0L629.6 286.0L635.0 283.0L649.0 280.8L651.9 282.0L652.3 284.0L650.0 286.0L645.0 286.9L643.0 288.4L635.1 298.0L637.1 300.0L655.0 303.5L657.0 303.1L661.0 298.0L663.0 296.9L667.0 295.4L671.0 295.5L673.4 298.0L673.9 306.0L679.1 312.0L674.4 320.0L673.3 332.0L668.6 346.0L667.0 348.2L665.0 349.1L663.0 348.9L657.0 345.5L653.0 346.3L649.8 350.0L649.0 356.0M541.0 466.6L535.0 467.5L531.0 464.4L527.8 460.0L520.9 446.0L515.0 439.8L513.0 436.0L514.1 426.0L512.4 422.0L503.0 418.6L493.0 408.4L487.0 405.8L483.5 402.0L481.4 396.0L486.1 388.0L486.0 386.0L484.5 384.0L463.8 378.0L461.0 378.3L460.2 380.0L461.1 382.0L471.4 390.0L474.3 394.0L474.5 396.0L473.2 400.0L471.0 402.7L467.0 404.6L463.0 404.2L455.0 395.5L445.0 390.8L439.5 382.0L433.0 376.9L428.6 370.0L423.1 364.0L420.9 360.0L420.4 354.0L424.2 346.0L423.7 340.0L424.4 336.0L427.0 333.8L435.0 333.4L434.6 330.0L430.9 322.0L431.7 318.0L433.0 316.9L435.0 316.5L439.0 318.0L447.0 328.7L451.0 330.3L457.0 330.2L461.0 328.1L470.3 320.0L470.8 316.0L468.0 310.0L468.9 308.0L471.0 306.6L479.0 304.3L487.0 306.1L489.0 305.7L501.0 297.6L509.0 295.4L513.0 296.7L513.9 306.0L520.8 314.0L519.0 322.0L519.6 324.0L528.8 326.0L530.2 328.0L529.7 332.0L527.8 336.0L531.0 355.5L533.0 356.8L535.0 356.5L538.0 354.0L545.0 350.5L546.5 352.0L543.3 372.0L543.3 382.0L544.6 386.0L549.0 388.4L553.8 388.0L557.0 386.0L561.0 378.1L563.0 379.0L565.0 382.1L565.0 388.3L563.0 392.7L557.0 400.0L557.7 402.0L570.4 406.0L569.0 410.1L559.0 417.1L556.1 420.0L555.0 424.0L558.7 432.0L558.7 436.0L557.0 437.9L549.0 439.6L547.1 442.0L544.8 454.0L544.6 462.0L541.0 466.6M193.0 308.2L189.0 308.0L183.3 304.0L183.0 300.4L185.0 297.4L187.0 296.4L189.0 296.8L194.3 300.0L195.8 304.0L195.0 306.9L193.0 308.2M951.0 338.1L949.0 338.6L947.0 337.4L946.3 336.0L947.4 328.0L946.3 326.0L943.0 323.7L937.0 323.6L931.0 326.8L924.9 326.0L924.2 320.0L920.7 312.0L922.3 308.0L925.0 306.7L937.0 306.1L947.0 303.8L951.8 306.0L958.6 318.0L955.1 326.0L953.0 335.2L951.0 338.1M831.0 311.1L829.0 311.3L827.0 310.2L826.6 308.0L829.0 305.3L831.0 304.5L833.0 305.8L833.2 308.0L831.0 311.1M843.0 322.5L841.0 322.9L839.0 321.7L836.4 318.0L835.6 314.0L836.3 312.0L838.7 310.0L845.0 308.4L847.0 310.0L848.5 316.0L846.6 320.0L843.0 322.5M707.0 322.1L703.0 322.6L699.9 320.0L699.3 314.0L701.0 311.4L709.5 316.0L710.3 318.0L709.8 320.0L707.0 322.1M311.0 320.0L307.0 320.7L305.9 320.0L306.5 316.0L309.0 313.6L315.0 312.2L321.7 314.0L321.8 316.0L319.0 318.6L311.0 320.0M825.0 332.0L822.7 332.0L819.8 328.0L823.0 326.5L825.0 327.5L825.7 330.0L825.0 332.0M477.9 348.0L483.0 344.5L484.9 342.0L484.5 338.0L481.0 334.7L477.0 333.3L469.1 336.0L467.5 338.0L469.9 348.0L471.0 349.4L473.0 349.9L477.9 348.0M171.0 344.3L168.6 344.0L165.4 342.0L165.0 339.3L166.4 338.0L169.0 337.6L173.0 339.3L173.6 342.0L171.0 344.3M391.0 352.0L383.9 352.0L380.2 350.0L381.2 346.0L385.0 341.6L389.0 341.3L393.1 344.0L393.9 346.0L393.4 350.0L391.0 352.0M549.0 350.0L547.0 351.2L545.8 350.0L547.0 343.5L551.0 343.6L553.8 346.0L552.7 348.0L549.0 350.0M309.0 377.1L307.0 377.6L303.0 377.0L299.0 374.8L296.8 372.0L295.3 368.0L294.7 356.0L295.2 354.0L297.0 352.6L301.0 351.9L305.0 352.8L313.0 362.0L315.2 360.0L312.2 354.0L312.5 352.0L317.0 348.7L319.0 348.5L321.0 349.9L322.5 358.0L325.0 360.3L335.0 358.0L343.0 354.1L345.0 354.9L347.2 358.0L348.3 362.0L347.0 363.9L341.0 365.1L335.0 367.7L327.0 367.2L321.0 369.8L317.0 370.1L315.0 371.0L309.0 377.1M937.0 364.3L933.0 365.3L929.0 364.7L921.0 359.0L917.7 354.0L917.9 350.0L919.0 348.5L931.0 348.6L935.0 350.3L941.1 356.0L941.9 358.0L940.7 362.0L937.0 364.3M448.9 364.0L452.2 362.0L453.0 359.4L443.0 355.4L440.0 356.0L439.3 360.0L441.4 364.0L445.0 365.3L448.9 364.0M359.0 376.1L353.0 377.1L349.0 376.5L347.0 374.7L346.7 372.0L348.1 364.0L353.0 362.0L359.0 356.8L361.0 356.8L365.0 360.4L366.6 366.0L364.5 372.0L362.9 374.0L359.0 376.1M73.0 382.5L71.0 383.4L68.4 382.0L67.0 380.0L67.8 378.0L79.0 364.2L83.0 362.8L85.0 363.6L90.9 376.0L90.8 378.0L89.0 380.9L84.2 378.0L81.0 377.4L77.0 378.8L73.0 382.5M633.0 400.9L627.0 399.8L619.0 400.0L615.0 398.3L613.0 396.1L611.3 392.0L609.9 382.0L611.8 376.0L621.0 372.1L625.0 371.4L627.8 372.0L626.7 380.0L627.3 382.0L637.8 390.0L636.6 396.0L635.0 399.3L633.0 400.9M659.0 420.0L657.0 420.5L655.0 419.7L649.1 410.0L650.4 404.0L648.4 398.0L643.5 390.0L644.1 388.0L651.0 377.7L655.0 377.4L661.0 382.3L663.0 382.9L669.0 380.1L675.0 374.8L679.0 374.5L684.3 378.0L690.3 386.0L689.9 394.0L692.6 402.0L692.0 406.0L689.0 408.0L685.0 407.5L679.0 405.2L671.0 407.0L665.0 410.8L659.0 420.0M141.0 389.5L139.0 389.8L135.1 388.0L133.0 384.0L135.4 380.0L139.0 378.1L143.0 377.6L145.0 378.9L145.5 382.0L144.1 386.0L141.0 389.5M329.0 380.8L325.6 380.0L325.0 377.6L327.0 377.7L330.6 380.0L329.0 380.8M343.0 484.2L339.0 484.4L335.9 482.0L337.2 472.0L336.6 466.0L330.1 458.0L328.3 454.0L330.6 446.0L329.6 434.0L323.0 429.8L316.8 420.0L317.2 418.0L319.0 416.4L323.0 416.9L325.0 418.3L331.0 429.4L333.0 430.0L337.0 426.2L338.1 422.0L337.0 418.0L335.0 416.6L329.0 415.6L327.9 414.0L331.5 402.0L330.5 394.0L332.3 386.0L331.1 382.0L331.7 380.0L339.0 377.9L343.0 379.5L351.4 392.0L353.5 398.0L357.0 400.5L362.4 402.0L363.7 404.0L361.1 408.0L359.0 409.4L348.9 412.0L348.0 414.0L348.4 416.0L352.9 424.0L357.0 426.3L359.0 426.3L360.9 424.0L361.7 418.0L363.0 415.6L366.3 414.0L375.0 412.3L379.0 413.7L381.0 415.6L384.1 424.0L382.8 428.0L378.2 434.0L377.7 440.0L372.5 448.0L372.2 450.0L379.5 454.0L380.9 456.0L380.4 458.0L377.1 460.0L367.0 462.6L357.0 467.9L351.0 473.4L345.8 476.0L344.6 478.0L344.9 482.0L343.0 484.2M95.0 414.2L89.0 413.8L86.9 412.0L88.7 406.0L92.6 400.0L88.5 394.0L83.6 390.0L83.8 388.0L87.0 384.9L89.0 384.8L96.4 390.0L97.8 392.0L97.4 396.0L94.3 400.0L97.6 410.0L97.0 413.0L95.0 414.2M935.0 396.4L931.0 397.6L929.0 397.4L927.0 395.7L926.9 390.0L931.0 386.1L937.0 386.0L941.3 390.0L941.4 394.0L935.0 396.4M73.0 400.8L71.0 400.4L69.7 398.0L71.0 392.6L73.0 389.5L75.4 390.0L76.3 392.0L75.0 398.4L73.0 400.8M149.0 404.5L145.0 403.7L143.0 401.1L143.0 396.8L145.0 395.0L149.0 395.4L152.5 398.0L153.1 400.0L152.4 402.0L149.0 404.5M543.8 414.0L544.6 412.0L543.0 410.9L539.0 410.3L536.7 412.0L541.0 415.1L543.8 414.0M643.0 414.2L639.0 414.3L637.4 412.0L639.0 410.3L645.0 410.7L645.9 412.0L643.0 414.2M265.0 418.4L263.0 418.9L261.5 418.0L260.6 416.0L261.4 414.0L265.0 413.2L266.4 414.0L267.1 416.0L265.0 418.4M617.0 430.0L615.0 430.9L611.0 429.5L608.5 426.0L609.4 424.0L613.0 423.3L617.0 425.0L618.0 428.0L617.0 430.0M89.0 442.7L83.0 442.4L81.0 441.8L79.9 440.0L80.3 434.0L83.0 430.4L89.0 430.1L92.1 432.0L91.7 440.0L91.0 441.7L89.0 442.7M207.0 440.6L201.0 439.3L199.3 438.0L199.0 435.3L201.0 433.7L205.0 434.3L208.8 438.0L208.8 440.0L207.0 440.6M285.0 436.7L285.0 435.7L286.2 436.0L285.0 436.7M345.5 452.0L350.6 448.0L351.3 446.0L350.2 444.0L345.0 442.4L338.9 444.0L337.3 446.0L337.9 448.0L343.0 451.9L345.5 452.0M417.0 484.1L413.0 484.3L409.0 483.2L405.0 481.3L401.0 477.9L398.4 472.0L397.8 462.0L395.2 456.0L391.1 450.0L392.3 448.0L405.0 448.5L411.0 455.2L415.0 457.1L417.0 456.7L421.0 451.8L423.0 451.8L425.0 454.0L425.0 458.0L423.0 459.4L417.0 460.7L413.8 468.0L413.9 474.0L418.1 480.0L418.5 482.0L417.0 484.1M513.0 462.4L503.0 463.3L499.0 462.3L494.9 458.0L495.0 452.6L497.0 451.5L499.0 451.9L505.0 456.7L509.0 457.5L511.0 457.3L517.0 453.0L519.0 452.8L520.8 454.0L521.3 456.0L520.1 458.0L513.0 462.4M899.0 474.3L893.0 475.2L890.3 472.0L889.6 464.0L887.1 458.0L888.9 454.0L891.0 452.8L899.0 454.6L903.8 458.0L905.6 470.0L904.7 472.0L899.0 474.3M99.0 472.3L95.9 472.0L96.8 470.0L99.0 468.6L101.3 470.0L99.0 472.3M89.0 510.0L87.0 511.1L85.0 510.7L78.8 508.0L77.1 506.0L76.0 500.0L71.5 488.0L73.0 484.6L77.8 480.0L80.9 474.0L85.0 471.9L89.0 472.3L92.7 474.0L93.1 490.0L91.7 494.0L87.5 500.0L87.3 502.0L89.4 506.0L89.0 510.0M793.0 542.5L787.0 542.9L783.0 540.5L781.2 538.0L778.4 524.0L780.3 520.0L783.7 516.0L784.7 512.0L783.0 509.8L767.9 504.0L766.7 502.0L766.5 498.0L769.8 494.0L775.0 490.6L787.0 489.0L789.9 486.0L791.0 479.9L803.0 471.0L809.0 470.4L815.0 473.2L816.5 476.0L816.1 480.0L812.2 488.0L811.8 498.0L806.9 508.0L807.6 512.0L811.0 515.4L812.2 518.0L812.1 522.0L811.0 524.5L809.0 526.2L807.0 526.3L801.0 523.9L799.0 525.6L795.4 540.0L793.0 542.5M583.0 493.1L581.0 493.4L579.0 492.4L572.4 486.0L572.0 482.0L575.0 473.5L577.0 473.7L579.0 475.2L583.0 480.6L584.5 490.0L583.0 493.1M885.0 504.3L871.0 501.2L869.2 500.0L867.2 480.0L869.0 477.5L880.1 478.0L889.0 484.3L894.8 484.0L894.6 486.0L891.0 491.4L887.5 502.0L885.0 504.3M171.0 488.2L167.0 488.9L165.1 488.0L164.2 486.0L165.0 483.1L167.0 481.9L171.0 482.8L172.3 486.0L171.0 488.2M583.0 518.2L578.6 516.0L573.0 509.3L564.2 506.0L562.2 502.0L563.2 498.0L565.0 496.9L567.0 497.2L573.0 502.8L581.0 503.3L585.0 506.1L587.1 510.0L587.1 514.0L585.0 517.9L583.0 518.2M715.0 551.5L713.0 551.9L709.0 549.7L706.6 546.0L704.5 538.0L699.0 534.6L695.0 534.2L679.0 538.3L676.8 538.0L675.0 536.2L671.2 528.0L670.0 522.0L670.5 514.0L669.0 509.2L667.0 507.1L665.0 506.8L663.4 510.0L665.5 520.0L664.8 522.0L662.6 524.0L659.0 525.4L651.0 526.4L647.0 525.3L642.6 520.0L641.8 516.0L642.7 514.0L651.0 510.9L657.0 505.3L665.0 503.7L677.0 496.8L684.3 500.0L701.0 503.1L709.0 507.8L717.0 506.0L719.0 506.9L720.3 512.0L719.3 520.0L723.0 526.0L723.1 528.0L718.0 538.0L718.9 546.0L718.2 548.0L715.0 551.5M437.0 506.4L437.0 505.3L437.0 506.4M905.0 598.1L903.0 598.3L901.1 596.0L900.6 592.0L901.6 588.0L904.0 584.0L904.4 580.0L903.0 578.0L901.0 577.2L891.0 575.8L886.3 574.0L881.1 562.0L887.0 548.8L889.0 547.3L897.2 546.0L899.1 544.0L901.0 537.8L903.0 535.7L907.0 534.4L910.1 532.0L912.0 528.0L912.7 514.0L915.0 512.0L918.8 512.0L922.6 516.0L929.0 520.4L931.0 524.0L930.2 528.0L926.8 534.0L926.3 546.0L926.6 548.0L931.6 554.0L929.6 564.0L933.7 570.0L934.4 582.0L933.0 584.6L925.0 586.9L917.0 593.2L909.0 595.8L905.0 598.1M305.0 536.4L301.0 537.1L297.8 536.0L291.6 528.0L291.4 526.0L295.0 517.1L297.0 516.6L301.0 517.4L303.9 520.0L307.7 532.0L307.0 534.7L305.0 536.4M901.0 526.1L899.0 525.4L897.0 521.1L897.0 517.6L899.0 516.4L906.8 520.0L907.7 522.0L905.7 524.0L901.0 526.1M117.0 526.2L116.4 526.0L117.0 526.2M589.0 527.0L587.0 526.9L587.0 524.5L589.0 525.0L589.8 526.0L589.0 527.0M877.0 531.0L875.0 531.4L872.0 530.0L872.2 528.0L877.0 524.4L879.0 525.7L879.4 528.0L878.8 530.0L877.0 531.0M77.0 546.4L74.4 546.0L74.2 544.0L75.0 543.1L78.7 544.0L78.4 546.0L77.0 546.4M111.0 557.7L109.0 557.7L107.0 556.2L106.2 554.0L107.0 548.0L109.0 545.2L111.9 552.0L112.1 556.0L111.0 557.7M91.0 558.9L89.0 558.6L86.8 556.0L85.5 548.0L87.0 546.6L91.0 547.0L93.0 549.8L94.0 556.0L93.0 558.0L91.0 558.9M269.0 550.6L267.0 550.1L266.8 548.0L269.0 547.1L270.1 548.0L269.0 550.6M829.0 558.4L826.6 558.0L827.8 556.0L831.0 554.0L831.3 556.0L829.0 558.4M179.0 590.7L177.0 590.1L173.0 585.5L169.3 576.0L169.7 572.0L173.0 566.3L175.0 564.7L179.1 566.0L181.8 570.0L181.2 574.0L177.4 582.0L179.0 590.7M855.0 567.2L853.2 566.0L855.0 564.2L856.3 566.0L855.0 567.2M243.0 576.7L239.0 577.5L236.6 576.0L234.9 572.0L234.8 570.0L236.2 568.0L243.0 566.1L246.9 568.0L247.0 572.0L243.0 576.7M821.0 600.7L817.8 600.0L807.0 591.3L805.2 588.0L806.0 586.0L818.3 580.0L823.0 580.3L825.8 582.0L828.9 586.0L830.5 590.0L829.5 592.0L824.2 596.0L821.0 600.7M445.0 596.1L441.0 597.7L439.0 596.9L433.6 586.0L434.5 584.0L439.0 583.8L447.7 590.0L448.5 592.0L447.8 594.0L445.0 596.1M879.0 592.2L879.0 592.2M691.0 598.1L687.0 599.6L685.0 599.3L683.1 598.0L683.1 596.0L685.0 593.9L691.0 592.3L693.4 594.0L693.0 596.0L691.0 598.1M201.0 642.7L197.0 643.9L193.8 642.0L188.8 628.0L190.3 622.0L195.0 616.0L196.8 612.0L195.6 600.0L197.0 597.0L199.0 595.8L201.6 596.0L203.8 598.0L206.7 608.0L214.6 612.0L217.0 614.2L218.7 618.0L219.5 626.0L219.0 629.9L217.0 631.2L207.0 628.7L203.0 628.9L201.4 630.0L203.5 638.0L203.4 640.0L201.0 642.7M793.0 612.4L789.0 613.3L785.0 612.9L783.7 606.0L787.0 600.7L795.0 595.8L796.1 596.0L797.2 598.0L796.1 608.0L795.0 610.7L793.0 612.4M227.0 600.9L223.0 601.0L220.6 600.0L221.4 598.0L225.0 597.2L227.5 598.0L228.1 600.0L227.0 600.9M457.0 620.5L451.0 619.6L446.7 616.0L445.2 610.0L447.0 606.3L455.0 604.8L459.0 606.8L461.4 612.0L461.3 616.0L459.0 619.5L457.0 620.5M668.9 660.0L663.0 652.6L661.0 652.1L655.0 653.6L653.0 653.2L647.7 648.0L647.5 646.0L652.7 636.0L653.0 628.4L665.0 621.3L669.0 620.8L675.0 622.4L677.0 621.7L689.0 609.8L693.0 607.9L697.0 609.1L699.7 612.0L701.4 618.0L700.3 626.0L705.7 630.0L704.5 632.0L701.0 634.1L693.0 630.9L691.0 631.2L689.0 632.9L688.2 638.0L689.0 642.0L695.1 646.0L695.6 648.0L691.9 652.0L690.9 660.0M837.0 614.8L835.1 614.0L837.0 613.3L837.0 614.8M785.0 648.3L780.1 648.0L775.0 641.7L773.4 638.0L771.9 628.0L774.7 618.0L776.7 616.0L781.0 614.3L783.0 614.2L788.8 626.0L788.1 634.0L790.3 642.0L788.6 646.0L785.0 648.3M869.0 620.6L865.0 621.6L864.1 620.0L864.6 618.0L867.0 615.8L869.9 616.0L871.0 618.0L869.0 620.6M941.0 648.3L931.0 647.2L928.3 646.0L925.0 636.2L921.6 632.0L922.4 628.0L925.0 623.3L929.0 620.0L933.0 618.5L937.0 617.8L941.0 618.8L953.0 626.0L955.4 630.0L955.6 640.0L953.0 641.4L950.8 640.0L951.3 636.0L949.0 631.8L945.0 629.3L943.0 629.6L941.0 631.2L939.0 636.0L943.5 644.0L943.0 646.7L941.0 648.3M627.0 648.1L623.0 648.6L619.0 647.8L605.0 642.6L595.0 636.7L593.3 634.0L593.4 632.0L597.0 622.5L599.0 621.6L603.0 622.5L609.0 628.9L619.0 625.1L627.0 620.3L629.0 620.0L639.0 623.9L641.0 626.0L642.7 630.0L641.0 640.6L639.0 642.9L627.0 648.1M489.0 637.0L485.4 636.0L484.4 634.0L485.0 623.9L488.3 622.0L497.0 620.4L501.0 620.6L503.0 621.8L503.5 630.0L502.2 634.0L501.0 635.1L499.0 635.2L493.0 631.9L489.0 637.0M747.0 624.2L747.0 622.6L747.0 624.2M669.1 640.0L670.6 636.0L670.2 634.0L665.0 630.7L661.0 630.4L659.0 634.0L659.8 636.0L665.0 640.4L667.0 641.1L669.1 640.0M963.0 648.0L961.4 646.0L961.8 644.0L963.0 643.6L965.2 646.0L965.0 647.2L963.0 648.0M739.7 124.0L742.0 134.0L739.0 135.6L733.0 135.6L727.0 130.8L725.0 130.3L719.0 131.6L717.0 130.5L717.3 128.0L719.0 125.8L725.0 126.0L727.9 124.0M355.0 164.3L353.0 163.0L349.8 156.0L348.6 152.0L348.8 148.0L351.5 138.0L357.0 133.5L361.0 132.8L363.9 134.0L365.6 136.0L366.1 142.0L361.5 150.0L360.3 160.0L357.0 163.8L355.0 164.3M291.0 180.2L289.0 180.1L283.7 176.0L282.2 174.0L281.4 170.0L281.9 158.0L285.2 152.0L289.0 148.1L293.0 146.8L301.0 148.6L307.0 155.0L317.0 158.0L318.8 160.0L318.9 162.0L310.2 170.0L297.0 175.3L291.0 180.2M385.0 161.6L379.0 161.3L375.1 158.0L374.5 152.0L377.0 147.8L379.0 147.4L381.0 148.4L387.0 154.0L387.6 158.0L387.0 160.0L385.0 161.6M483.0 166.2L477.0 160.1L469.4 156.0L470.1 152.0L472.1 150.0L479.0 147.8L483.0 148.6L484.4 150.0L485.1 164.0L483.0 166.2M707.0 152.3L705.0 153.4L703.0 153.3L702.7 152.0L705.0 147.8L707.0 147.3L708.3 148.0L709.0 150.0L707.0 152.3M141.0 166.4L125.0 164.5L117.0 161.8L109.0 162.8L103.7 160.0L102.5 156.0L105.0 152.0L111.0 149.1L116.9 150.0L123.0 153.7L135.0 154.3L139.5 156.0L142.8 160.0L143.1 164.0L141.0 166.4M461.0 168.6L457.0 168.7L454.4 166.0L455.0 163.1L457.0 160.0L461.0 157.1L463.0 157.6L464.7 160.0L465.5 164.0L464.7 166.0L461.0 168.6M59.0 170.5L54.3 168.0L52.1 164.0L52.7 162.0L59.0 158.6L61.7 160.0L63.1 164.0L62.4 168.0L61.0 170.0L59.0 170.5M673.0 176.7L667.0 176.9L665.0 174.0L664.8 170.0L666.8 162.0L669.0 160.5L671.1 162.0L672.2 168.0L675.2 174.0L674.4 176.0L673.0 176.7M601.0 180.3L598.1 180.0L595.4 178.0L594.6 176.0L595.0 173.8L597.0 173.1L601.0 175.1L602.6 178.0L601.0 180.3M129.0 184.1L126.4 182.0L126.1 180.0L127.0 178.3L129.0 177.3L131.3 178.0L132.4 182.0L131.0 183.8L129.0 184.1M327.0 192.0L323.6 192.0L321.9 190.0L321.0 182.0L322.1 180.0L325.0 178.1L331.0 177.1L335.3 180.0L336.5 184.0L336.0 186.0L333.0 189.1L327.0 192.0M689.0 204.1L685.0 203.8L683.0 201.9L681.8 198.0L683.0 191.9L695.0 178.9L697.0 178.3L701.0 179.2L706.2 184.0L705.6 190.0L696.7 200.0L689.0 204.1M393.0 186.7L391.0 187.6L389.1 186.0L389.9 184.0L391.5 184.0L393.0 186.7M301.0 198.4L299.0 197.5L296.1 192.0L296.9 188.0L299.0 186.5L301.0 186.5L302.9 188.0L303.6 190.0L303.9 196.0L303.0 198.0L301.0 198.4M475.0 190.4L475.0 190.4M473.0 194.3L470.9 194.0L473.0 191.3L474.1 192.0L473.0 194.3M423.0 219.7L421.0 218.8L419.9 216.0L415.0 213.1L411.9 210.0L410.4 206.0L411.0 203.1L413.0 202.0L415.0 202.4L420.1 206.0L423.9 218.0L423.0 219.7M103.0 218.4L99.0 219.8L96.5 218.0L98.9 216.0L101.0 215.7L103.0 216.7L103.0 218.4M391.0 226.5L389.0 225.3L389.0 223.4L391.4 224.0L391.0 226.5M313.0 234.0L309.0 232.9L307.5 230.0L309.0 226.4L311.0 225.4L314.4 226.0L316.2 228.0L315.8 232.0L313.0 234.0M215.0 274.4L213.0 274.6L209.0 272.5L200.3 264.0L198.9 252.0L199.0 250.0L201.0 248.9L207.0 250.2L209.0 249.8L210.8 248.0L211.5 244.0L208.1 236.0L208.4 234.0L211.0 229.5L215.0 226.8L223.0 228.6L228.3 232.0L231.7 236.0L237.0 245.8L241.1 250.0L241.3 252.0L238.6 258.0L236.9 260.0L230.3 264.0L225.0 272.8L223.0 273.8L215.0 274.4M699.0 267.1L697.0 266.6L696.2 264.0L699.8 256.0L699.2 252.0L695.0 247.7L685.0 245.0L683.2 242.0L683.1 240.0L685.0 235.7L693.0 229.2L695.0 229.6L697.0 231.7L703.0 244.3L702.7 258.0L701.0 264.9L699.0 267.1M331.0 247.2L329.0 247.6L326.8 246.0L327.0 242.4L329.0 240.6L331.0 240.4L333.2 242.0L333.0 245.6L331.0 247.2M387.0 272.5L385.0 272.4L383.0 270.5L382.3 268.0L383.0 265.7L385.0 265.0L388.3 268.0L388.9 270.0L387.0 272.5M719.0 270.1L716.9 268.0L719.0 265.0L721.3 266.0L721.2 268.0L719.0 270.1M187.0 286.8L183.0 287.2L175.0 286.2L171.0 287.0L170.4 286.0L175.0 285.3L179.0 282.4L183.0 278.6L189.0 269.6L191.0 269.4L195.0 273.8L196.2 278.0L194.0 282.0L187.0 286.8M771.0 294.3L763.0 295.0L760.5 294.0L759.4 290.0L759.7 286.0L761.0 281.2L763.0 278.6L767.0 278.0L769.4 280.0L774.2 292.0L771.0 294.3M135.0 302.0L129.0 301.2L121.0 303.0L118.3 302.0L116.4 300.0L115.3 296.0L115.1 290.0L115.8 288.0L127.0 282.7L135.0 282.6L139.0 286.4L141.0 289.7L142.8 296.0L139.9 300.0L135.0 302.0M345.0 302.2L339.0 301.3L335.0 298.1L333.1 294.0L335.0 290.2L339.0 288.9L345.0 293.8L347.3 300.0L345.0 302.2M665.0 344.7L661.7 344.0L657.0 339.5L649.0 342.5L646.0 342.0L643.4 340.0L640.7 320.0L639.0 316.0L635.0 311.8L634.3 308.0L635.3 306.0L639.0 304.6L643.0 304.7L649.0 305.9L655.0 309.2L661.0 309.0L664.5 308.0L663.9 302.0L664.5 300.0L667.0 298.4L669.0 298.7L669.9 300.0L669.1 304.0L665.2 308.0L666.1 312.0L670.3 320.0L671.5 328.0L670.7 332.0L667.3 338.0L665.0 344.7M755.0 307.9L753.0 307.1L750.6 304.0L750.8 302.0L753.0 300.5L755.0 301.0L756.3 304.0L756.4 306.0L755.0 307.9M505.0 336.3L499.0 337.6L487.0 334.9L477.0 330.3L471.0 330.8L468.1 330.0L467.5 328.0L468.8 326.0L474.4 322.0L476.3 318.0L473.1 312.0L473.0 309.7L475.0 307.9L479.0 307.4L485.0 311.1L487.0 311.4L491.1 310.0L501.0 303.9L504.3 304.0L504.3 308.0L501.9 316.0L503.0 319.6L508.3 328.0L509.1 332.0L508.4 334.0L505.0 336.3M537.0 426.4L535.0 427.0L529.0 424.4L521.0 425.3L519.0 424.4L513.0 414.9L511.0 414.2L507.0 415.8L505.0 415.4L501.0 412.1L494.3 402.0L497.0 394.0L495.7 384.0L497.6 374.0L496.6 370.0L493.0 367.2L489.0 368.4L483.8 378.0L481.0 379.6L475.0 378.8L461.0 374.2L457.0 374.6L455.3 376.0L455.1 380.0L457.0 383.0L468.9 392.0L470.2 394.0L470.4 398.0L469.0 400.4L467.0 401.5L463.0 400.4L457.0 393.6L447.3 388.0L443.0 379.8L435.0 374.6L431.9 368.0L426.7 362.0L426.9 356.0L431.8 346.0L445.0 338.7L449.0 334.7L455.0 334.2L458.2 336.0L463.2 344.0L463.9 352.0L465.0 354.0L467.0 354.9L485.0 355.7L489.6 354.0L493.2 350.0L499.0 346.2L501.0 345.7L503.0 346.4L505.2 350.0L504.8 352.0L500.4 358.0L499.9 362.0L501.8 368.0L505.0 371.5L511.0 371.4L515.0 370.1L523.0 370.0L525.3 368.0L527.0 364.6L529.0 363.6L534.2 366.0L535.8 368.0L536.0 370.0L529.0 375.6L527.1 380.0L528.4 384.0L536.7 388.0L538.3 396.0L541.0 398.5L543.0 398.8L545.9 394.0L549.0 392.4L553.0 392.0L555.1 394.0L545.1 400.0L541.0 403.8L537.0 404.3L529.0 403.1L526.0 404.0L524.6 406.0L524.4 408.0L526.7 412.0L534.6 418.0L537.9 422.0L538.4 424.0L537.0 426.4M519.0 360.8L517.0 361.5L515.0 359.8L512.9 346.0L514.1 338.0L515.0 336.8L517.0 336.4L522.1 340.0L524.7 346.0L522.5 356.0L519.0 360.8M446.9 372.0L457.0 364.6L460.1 360.0L461.2 356.0L459.1 354.0L457.0 353.6L449.0 353.8L441.0 351.1L437.0 351.4L435.0 352.9L434.0 356.0L435.9 366.0L443.0 372.1L445.0 372.8L446.9 372.0M307.0 373.3L305.0 373.6L301.1 372.0L298.4 368.0L298.2 362.0L299.0 359.8L301.0 358.1L305.0 359.3L310.1 366.0L310.2 370.0L307.0 373.3M361.0 370.5L359.0 370.9L356.7 370.0L356.9 366.0L359.0 363.4L361.0 363.2L363.2 366.0L363.0 368.1L361.0 370.5M631.0 396.8L619.0 396.8L615.6 394.0L615.1 380.0L617.0 376.8L619.0 375.8L622.1 376.0L623.2 378.0L623.3 382.0L624.7 384.0L631.8 388.0L633.7 390.0L633.8 394.0L631.0 396.8M661.0 408.1L657.6 402.0L653.0 398.2L648.9 392.0L648.5 390.0L650.3 386.0L653.0 383.3L655.0 383.6L659.0 387.3L663.0 387.7L677.0 378.1L681.0 378.6L684.6 382.0L686.6 386.0L686.8 394.0L688.5 400.0L688.0 402.0L687.0 402.5L681.0 400.0L679.0 400.1L661.0 408.1M341.0 388.9L339.0 389.1L339.0 387.2L341.0 387.4L341.0 388.9M351.0 406.2L349.0 405.7L348.3 404.0L351.0 403.2L352.9 404.0L352.4 406.0L351.0 406.2M359.0 458.2L358.1 456.0L358.8 448.0L356.7 444.0L351.0 439.8L339.0 438.3L337.2 436.0L342.9 420.0L345.0 419.9L349.6 426.0L353.0 428.9L361.0 431.9L364.7 430.0L365.7 428.0L366.2 420.0L367.0 418.7L373.0 416.8L377.0 417.7L379.8 422.0L379.4 426.0L373.9 432.0L371.9 442.0L361.5 450.0L361.0 456.7L359.0 458.2M549.0 424.5L546.4 424.0L545.3 422.0L546.6 420.0L549.0 418.5L551.1 420.0L550.9 422.0L549.0 424.5M539.0 456.1L537.0 457.3L535.0 456.0L533.4 450.0L533.7 448.0L537.0 445.2L541.0 444.0L542.3 448.0L539.0 456.1M407.0 474.1L405.0 473.2L403.8 470.0L407.0 465.2L409.0 465.4L409.3 472.0L407.0 474.1M789.0 536.1L787.0 533.7L784.1 524.0L788.8 516.0L788.9 510.0L787.0 506.9L779.0 504.3L775.7 502.0L774.5 498.0L775.5 496.0L779.0 494.1L789.0 494.0L795.0 491.8L798.8 488.0L801.0 481.6L803.0 478.7L807.0 477.5L809.3 480.0L807.1 488.0L807.0 497.1L801.4 508.0L799.8 516.0L792.2 524.0L791.0 534.0L789.0 536.1M83.0 494.6L80.0 494.0L78.4 490.0L81.0 487.5L85.0 487.2L86.3 488.0L86.8 490.0L85.9 492.0L83.0 494.6M685.0 528.8L683.0 529.5L679.5 528.0L679.0 524.4L680.7 520.0L680.2 518.0L675.8 512.0L675.7 508.0L678.0 506.0L685.0 504.6L697.0 507.2L698.2 508.0L698.8 510.0L697.7 512.0L695.0 513.9L687.9 516.0L685.0 518.0L684.1 520.0L686.1 526.0L685.0 528.8M653.0 520.4L651.5 520.0L652.8 518.0L654.5 518.0L654.7 520.0L653.0 520.4M917.0 582.5L916.3 582.0L916.0 572.0L917.2 564.0L913.0 557.3L906.4 554.0L905.3 552.0L907.0 546.7L910.8 540.0L915.0 534.6L919.0 532.1L921.0 534.2L922.8 540.0L920.2 548.0L925.7 554.0L926.4 556.0L923.1 564.0L923.4 566.0L929.0 571.2L930.7 576.0L929.0 580.0L921.0 581.0L917.0 582.5M819.0 588.2L819.0 587.1L820.2 588.0L819.0 588.2M693.0 622.2L690.0 622.0L689.5 620.0L693.0 615.0L695.0 615.1L695.8 618.0L695.0 620.4L693.0 622.2M627.0 642.4L623.0 642.7L621.0 641.7L617.0 636.0L616.6 632.0L618.1 630.0L623.0 627.6L627.0 626.3L631.0 626.5L637.0 629.9L637.7 634.0L635.0 637.5L627.0 642.4M679.0 652.6L676.3 652.0L674.6 650.0L674.9 648.0L677.0 645.6L679.0 645.9L680.2 648.0L680.6 650.0L679.0 652.6M299.0 170.2L296.4 170.0L295.0 168.6L293.3 162.0L289.5 156.0L290.0 152.0L293.0 150.3L298.2 152.0L310.4 162.0L309.6 164.0L305.8 168.0L299.0 170.2M113.0 156.1L111.0 157.4L108.7 156.0L111.0 154.2L113.0 156.1M139.0 162.2L137.0 163.0L133.0 162.4L129.8 160.0L130.8 158.0L133.0 157.2L137.0 157.7L139.3 160.0L139.0 162.2M289.0 174.6L287.0 174.1L285.0 172.0L285.0 169.8L287.0 168.2L291.8 170.0L292.2 172.0L290.8 174.0L289.0 174.6M329.0 186.2L326.6 186.0L326.5 184.0L329.0 182.8L330.7 184.0L329.0 186.2M215.0 268.4L213.0 269.4L209.0 268.3L204.5 264.0L203.5 260.0L205.0 255.3L211.0 252.6L213.0 250.0L213.6 244.0L212.0 236.0L212.4 234.0L215.0 231.5L219.0 230.9L223.2 232.0L227.9 236.0L231.4 246.0L236.0 254.0L234.1 258.0L231.0 259.8L225.0 262.1L221.0 262.0L219.0 262.9L215.0 268.4M125.0 295.0L123.0 295.9L121.0 295.4L120.2 292.0L121.6 290.0L125.0 289.5L128.1 292.0L125.0 295.0M137.0 294.4L135.0 295.0L133.4 294.0L135.0 292.4L137.0 294.4M663.0 332.3L653.0 332.8L649.0 330.8L646.2 326.0L645.8 322.0L647.0 317.5L649.0 315.1L659.0 314.6L663.0 317.3L667.0 322.6L668.3 328.0L667.0 330.7L663.0 332.3M499.0 330.4L489.0 331.1L485.0 330.2L482.0 328.0L481.0 326.0L481.3 324.0L485.0 319.8L489.0 317.6L493.0 317.0L495.0 318.4L499.6 326.0L500.5 328.0L499.0 330.4M451.0 348.7L446.7 348.0L446.0 346.0L453.0 343.8L453.8 346.0L452.8 348.0L451.0 348.7M479.0 376.3L464.0 372.0L461.1 370.0L460.4 368.0L460.9 366.0L465.0 361.8L469.0 360.6L485.8 362.0L486.2 364.0L483.0 372.4L481.0 375.5L479.0 376.3M305.0 368.5L303.0 368.3L301.7 366.0L303.0 363.4L305.7 366.0L305.0 368.5M503.0 402.2L503.1 396.0L502.1 390.0L503.0 385.8L508.9 380.0L513.0 377.4L517.0 377.5L518.9 380.0L518.7 386.0L516.1 388.0L511.0 389.0L505.6 396.0L504.9 400.0L503.0 402.2M669.0 400.6L665.0 400.2L663.0 398.5L661.9 396.0L662.2 394.0L677.0 382.5L679.0 381.9L681.0 383.0L682.4 386.0L681.0 389.8L677.0 392.3L673.7 398.0L669.0 400.6M627.0 394.0L621.2 392.0L621.5 390.0L625.0 388.6L629.0 389.9L629.9 392.0L627.0 394.0"/>
<polyline points="932,360.3 920.3,435.3 894.5,411.9 885,395"/>
<circle cx="920.3" cy="404.8" r="3"/>
</g>
<g fill="none" stroke="#222" stroke-width="0.75">
<polyline points="195.6,141.4 215.0,133.0 241.0,124.0" />
<polyline points="198.7,124.0 197.6,189.6 195.2,304.0 191.7,325.0 190.5,400.0 185.8,470.0 183.5,500.0" />
<polyline points="197.6,189.6 238.6,210.7 250.3,216.6 260.9,217.7 262.0,227.0 267.9,227.0 267.9,242.3 307.7,243.5 308.4,257.6 323.0,258.8 324.0,288.0" />
<polyline points="386.2,124.0 382.7,304.0" />
<polyline points="316.0,292.0 330.3,293.5 353.7,299.4 377.2,306.4 381.9,304.0" />
<polyline points="381.9,304.0 381.9,332.2 437.0,332.2 437.0,380.2 405.3,380.2" />
<polyline points="438.7,124.0 438.7,186.0 450.4,186.8 449.0,304.0 447.5,372.0" />
<polyline points="37.0,312.0 44.0,312.0 45.0,311.0 112.0,311.0" />
<polyline points="37.0,368.6 93.2,369.7" />
<polyline points="191.7,325.0 238.5,325.0 238.5,327.5 271.4,339.2" />
<polyline points="119.0,367.3 142.5,367.3 142.5,377.5 188.0,378.6" />
<polyline points="119.0,367.3 119.0,407.0 88.0,407.0" />
<polyline points="177.6,458.7 277.0,458.7" />
<polyline points="278.7,325.0 330.3,329.8" />
<polyline points="330.3,336.9 351.4,360.3 363.1,388.4 374.8,421.2 381.0,416.0 405.3,402.5" />
<polyline points="318.6,378.6 360.8,378.6" />
<polyline points="318.6,378.6 318.6,400.1 274.0,400.1 270.5,393.1" />
<polyline points="270.5,393.1 270.5,463.4" />
<polyline points="260.0,463.4 401.8,463.4" />
<polyline points="401.8,395.5 401.8,570.7" />
<polyline points="474.4,365.0 474.4,470.0" />
<polyline points="445.0,367.3 474.4,367.3" />
<polyline points="475.6,416.6 494.4,454.0" />
<polyline points="401.8,473.4 507.7,473.4" />
<polyline points="346.7,534.4 400.6,534.4" />
<polyline points="346.7,534.4 346.7,552.0 329.0,552.0 329.0,560.0" />
<polyline points="507.8,154.0 633.2,154.0 633.5,215.4" />
<polyline points="550.0,216.6 640.0,216.6" />
<polyline points="550.0,216.6 550.0,248.2 507.8,248.2" />
<polyline points="507.8,281.5 640.0,281.5" />
<polyline points="605.0,281.5 605.4,304.0 607.7,379.0" />
<polyline points="609.8,124.0 609.8,152.0" />
<polyline points="609.8,135.7 663.4,135.2" />
<polyline points="663.4,133.0 663.4,153.3 710.2,153.3 710.2,245.9" />
<polyline points="620.0,153.3 634.0,153.3 634.0,215.4" />
<polyline points="710.2,156.8 725.5,156.8 725.5,152.0 747.7,152.0 748.0,236.5" />
<polyline points="748.9,162.7 784.0,162.7 807.5,169.7 860.0,165.0" />
<polyline points="770.0,128.0 800.0,127.0 820.0,131.0 860.0,128.0" />
<polyline points="847.3,128.0 847.3,166.0" />
<polyline points="620.0,215.4 638.7,215.4 641.0,222.0 710.2,221.0" />
<polyline points="638.7,215.4 655.2,254.0" />
<polyline points="641.0,252.9 720.8,252.9" />
<polyline points="641.0,246.0 641.0,281.0" />
<polyline points="620.0,279.8 678.6,279.8 699.7,292.7" />
<polyline points="699.7,253.0 699.7,304.0" />
<polyline points="713.7,237.7 784.0,237.7" />
<polyline points="751.0,208.0 751.0,237.7" />
<polyline points="784.0,220.0 784.0,307.6" />
<polyline points="784.0,220.0 860.0,216.6" />
<polyline points="814.5,271.6 860.0,269.3" />
<polyline points="814.5,271.6 814.5,297.0" />
<polyline points="784.0,297.4 814.8,297.0" />
<polyline points="814.8,297.0 814.8,404.8" />
<polyline points="507.7,352.1 480.0,352.1" />
<polyline points="585.5,378.6 708.5,378.6" />
<polyline points="585.5,378.6 585.5,404.8" />
<polyline points="507.7,404.4 598.3,404.4 598.3,421.2 602.0,435.0 606.6,454.0" />
<polyline points="707.3,360.0 708.6,507.0" />
<polyline points="702.6,290.0 702.6,307.6 784.4,306.4" />
<polyline points="585.5,457.6 639.4,457.6" />
<polyline points="639.4,441.2 639.4,470.0" />
<polyline points="639.4,441.2 672.2,441.2 672.2,437.6 709.7,414.2" />
<polyline points="709.7,426.0 720.0,426.0" />
<polyline points="707.0,360.3 730.5,360.3 730.5,346.2 738.7,345.0 738.7,306.4" />
<polyline points="730.5,361.5 814.8,361.5" />
<polyline points="708.2,385.0 755.0,385.0 755.0,390.8 786.7,390.8 786.7,458.7" />
<polyline points="786.7,404.8 817.2,404.8" />
<polyline points="823.0,417.7 901.5,417.7" />
<polyline points="823.0,417.7 823.0,506.0" />
<polyline points="901.5,417.7 901.5,454.0 910.0,454.0" />
<polyline points="786.7,458.7 824.2,458.7" />
<polyline points="814.8,325.2 824.2,325.2 824.2,326.3 873.4,325.2 873.4,315.8 894.5,315.8 894.5,339.2 903.9,339.2 903.9,353.3 945.0,353.3" />
<polyline points="885.0,290.0 885.0,315.8" />
<polyline points="899.0,292.3 945.0,292.3" />
<polyline points="904.0,360.0 906.0,416.6" />
<polyline points="569.0,480.0 569.0,530.0" />
<polyline points="549.0,523.8 569.0,523.8" />
<polyline points="640.0,470.0 640.0,530.0" />
<polyline points="709.0,480.0 709.0,507.5" />
<polyline points="795.0,130.0 830.0,128.0 860.0,132.0 900.0,128.0 941.0,130.0" />
<polyline points="886.8,135.7 918.0,135.7 918.0,198.0" />
<polyline points="795.0,169.0 875.0,164.0 941.5,165.0" />
<polyline points="875.0,164.0 896.6,198.2" />
<polyline points="902.0,198.2 941.5,198.2" />
<polyline points="902.4,198.2 902.4,212.0 869.0,212.0" />
<polyline points="860.0,217.8 868.0,217.8 868.0,268.5" />
<polyline points="900.5,260.7 916.0,251.0 924.0,243.0 929.8,237.3 947.3,236.3" />
<polyline points="813.0,268.5 900.5,268.5 900.5,293.9" />
<polyline points="900.5,292.0 949.0,292.0" />
<polyline points="943.0,151.0 987.0,150.0" />
<polyline points="944.0,174.8 987.0,174.0" />
<polyline points="945.0,196.3 987.0,196.0" />
<polyline points="946.5,219.7 987.0,219.0" />
<polyline points="948.0,251.0 987.0,251.0" />
<polyline points="950.0,292.0 987.0,292.0" />
<polyline points="952.0,320.0 987.0,318.0" />
<polyline points="954.0,365.0 987.0,363.0" />
<polyline points="956.0,410.0 987.0,408.0" />
<polyline points="958.0,455.0 987.0,455.0" />
<polyline points="740.0,507.5 740.0,562.5" />
<polyline points="823.3,505.0 824.3,628.4" />
<polyline points="890.7,501.5 886.8,583.5" />
<polyline points="912.0,480.0 912.0,499.5" />
<polyline points="939.5,499.5 941.5,530.8" />
<polyline points="927.8,530.8 986.4,530.8" />
<polyline points="886.8,583.5 824.3,628.4" />
<polyline points="886.8,583.5 970.8,640.2 986.4,651.9" />
<polyline points="968.8,554.2 927.8,612.8 914.1,644.0 914.0,660.0" />
<polyline points="824.3,630.4 914.1,644.0" />
<polyline points="963.0,490.0 986.0,489.0" />
<polyline points="982.0,490.0 983.0,527.0" />
<polyline points="965.0,552.0 978.0,556.0 986.0,560.0" />
</g>
<g fill="none" stroke="#000" stroke-width="1.6" stroke-linejoin="round">
<polyline points="37.0,161.0 101.0,230.0" />
<polyline points="91.8,130.9 94.0,138.4 96.1,139.5 97.7,143.8 101.5,152.4 101.5,155.0 100.5,169.0 101.5,192.0 105.4,202.0 104.4,212.0 106.3,221.7 101.5,227.5 99.5,233.4 101.5,245.0 107.3,253.0 115.0,274.0 121.0,283.0 128.4,290.0 133.0,297.0 130.7,300.5 114.3,311.0 107.3,320.5 102.6,330.0 101.4,346.0 99.1,360.3 93.2,367.3 86.2,374.4 85.0,383.7 87.4,393.0 87.4,404.8 99.1,407.2 102.6,423.6 95.6,430.6 83.9,434.0 76.8,442.3 74.5,454.0 65.1,456.4 59.3,470.0 57.0,480.0 56.0,497.5 67.0,512.5 69.5,530.0 62.0,555.0 62.0,580.0 72.0,595.0 74.5,630.0 74.5,660.0" />
<polyline points="37.0,435.0 84.0,434.0" />
<polyline points="69.0,455.0 132.0,480.0 293.0,546.0 352.0,570.0 508.0,572.0 574.0,571.0 574.0,531.0 699.0,529.0 711.0,532.0 724.0,555.0 744.0,565.0 761.0,582.0 774.0,595.0 789.0,607.0 805.0,615.0 820.0,624.0 828.0,636.0 832.0,648.0 840.0,660.0" />
<polyline points="699.0,529.0 689.0,510.0 795.0,506.0 961.0,497.6 941.5,124.0" />
<polyline points="508.0,124.0 508.0,572.0" />
<polyline points="57.0,500.0 69.0,512.0 89.0,527.0 109.0,542.0 124.0,547.0 134.0,540.0 134.0,534.0 154.0,547.0 159.0,562.0 172.0,567.0 194.0,577.0 197.0,590.0 194.0,610.0 202.0,635.0 212.0,650.0 213.0,660.0" />
<polyline points="529.0,572.0 520.0,582.0 533.0,600.0 518.0,610.0 520.0,635.0 538.0,645.0 542.0,660.0" />
<polyline points="91.3,130.4 96.1,129.8 99.9,130.9 105.8,129.8 112.2,128.7 118.7,128.2 120.8,124.4" />
<polyline points="91.8,130.9 94.0,138.4 97.2,140.6 101.5,135.2 106.9,130.9 113.3,129.3 118.7,137.3 120.8,139.0 125.1,134.1 128.3,136.3 131.6,140.6 135.9,143.2 142.3,143.2 144.4,137.3 147.7,129.8 149.8,124.0" />
<polyline points="124.0,124.0 126.2,130.9 130.5,136.3 134.8,142.2" />
<polyline points="152.0,124.0 154.1,132.0 158.4,135.2 164.9,140.6 168.1,143.8 170.2,150.2 175.6,161.0" />
<polyline points="153.5,124.0 155.5,131.0 159.5,134.0" />
</g>
<g fill="none" stroke="#111" stroke-width="0.85" stroke-linecap="round">
<path d="M218.0 90.3L218.0 112.3M218.0 112.3l-7.1 3.8M218.0 109.4l-3.5 1.9M192.1 90.6L191.9 112.6M191.9 112.6l-7.1 3.7M191.9 109.7l-3.5 1.8M166.6 90.9L165.8 112.8M165.8 112.8l-7.2 3.5M165.9 109.9l-3.6 1.8M141.0 91.1L139.7 113.1M139.7 113.1l-7.3 3.3M139.9 110.2l-3.6 1.7M117.6 91.7L113.6 113.4M113.6 113.4l-7.6 2.4M114.1 110.5l-3.8 1.2M95.4 93.1L87.5 113.6M87.5 113.6l-7.9 1.0M88.5 110.9l-4.0 0.5M72.9 95.1L61.4 113.9M61.4 113.9l-8.0 -0.5M62.9 111.4l-4.0 -0.2M244.1 90.1L244.1 112.1M244.1 112.1l-7.1 3.8M244.1 109.2l-3.5 1.9M270.2 89.8L270.2 111.8M270.2 111.8l-7.1 3.8M270.2 108.9l-3.5 1.9M298.0 89.6L296.3 111.5M296.3 111.5l-7.3 3.2M296.5 108.6l-3.7 1.6M325.7 89.5L322.3 111.3M322.3 111.3l-7.6 2.6M353.3 89.6L348.3 111.0M348.3 111.0l-7.7 2.0M380.6 89.7L374.2 110.8M374.2 110.8l-7.8 1.5M407.8 89.9L400.1 110.5M401.1 107.8l-4.0 0.5M434.8 90.1L425.9 110.2M427.1 107.6l-4.0 0.3M461.6 90.3L451.7 110.0M453.0 107.4l-4.0 0.1M488.4 90.6L477.5 109.7M478.9 107.2l-4.0 -0.1M515.8 91.4L503.2 109.5M504.8 107.1l-4.0 -0.5M543.1 92.5L528.9 109.2M530.7 107.0l-3.9 -0.9M570.2 93.5L554.5 109.0M556.5 106.9l-3.8 -1.2M596.4 94.0L580.1 108.7M582.2 106.8l-3.8 -1.4M622.6 94.5L605.6 108.4M605.6 108.4l-7.4 -3.1M648.3 94.5L631.1 108.2M631.1 108.2l-7.3 -3.2M673.7 94.1L656.6 107.9M656.6 107.9l-7.4 -3.1M699.0 93.6L682.1 107.7M682.1 107.7l-7.4 -3.0M724.7 93.7L707.6 107.4M707.6 107.4l-7.4 -3.2M750.7 94.0L733.1 107.2M733.1 107.2l-7.2 -3.4M776.6 94.3L758.6 106.9M758.6 106.9l-7.1 -3.6M803.3 95.9L784.1 106.7M784.1 106.7l-6.7 -4.3M829.8 97.8L809.6 106.4M809.6 106.4l-6.2 -5.0M856.0 99.4L835.1 106.1M835.1 106.1l-5.7 -5.6M881.7 99.6L860.6 105.9M860.6 105.9l-5.6 -5.7M907.3 99.7L886.1 105.6M886.1 105.6l-5.5 -5.8M933.1 100.8L911.6 105.4M911.6 105.4l-5.2 -6.1M959.0 102.9L937.1 105.1M937.1 105.1l-4.4 -6.7M984.6 104.9L962.6 104.9M962.6 104.9l-3.8 -7.1M1010.1 104.6L988.1 104.6M988.1 104.6l-3.8 -7.1M231.1 116.2L231.1 138.2M231.1 138.2l-7.1 3.8M231.1 135.3l-3.5 1.9M205.0 116.4L205.0 138.4M205.0 138.4l-7.1 3.8M205.0 135.5l-3.5 1.9M179.4 116.7L178.9 138.7M178.9 138.7l-7.1 3.6M179.0 135.8l-3.6 1.8M153.8 117.0L152.8 139.0M152.8 139.0l-7.2 3.4M152.9 136.1l-3.6 1.7M128.7 117.3L126.7 139.2M126.7 139.2l-7.4 3.1M127.0 136.3l-3.7 1.5M106.6 118.3L100.6 139.5M100.6 139.5l-7.8 1.7M101.4 136.7l-3.9 0.9M84.3 120.0L74.5 139.8M74.5 139.8l-8.0 0.2M75.8 137.2l-4.0 0.1M60.1 121.4L48.4 140.0M48.4 140.0l-8.0 -0.6M49.9 137.6l-4.0 -0.3M257.2 115.9L257.2 137.9M257.2 137.9l-7.1 3.8M257.2 135.0l-3.5 1.9M284.2 115.7L283.3 137.7M283.3 137.7l-7.2 3.5M283.4 134.8l-3.6 1.7M311.9 115.6L309.3 137.4M309.3 137.4l-7.5 2.9M339.6 115.6L335.3 137.1M335.3 137.1l-7.7 2.3M367.0 115.6L361.3 136.9M361.3 136.9l-7.8 1.8M394.3 115.8L387.2 136.6M388.1 133.9l-3.9 0.6M421.4 116.0L413.1 136.4M414.2 133.7l-4.0 0.4M448.3 116.2L438.9 136.1M440.1 133.5l-4.0 0.2M475.1 116.5L464.7 135.9M466.0 133.3l-4.0 -0.0M502.1 117.0L490.4 135.6M491.9 133.1l-4.0 -0.3M529.5 117.9L516.1 135.3M517.8 133.0l-3.9 -0.7M556.8 119.1L541.7 135.1M543.7 133.0l-3.9 -1.1M583.3 119.7L567.3 134.8M569.4 132.8l-3.8 -1.3M609.5 120.2L592.9 134.6M592.9 134.6l-7.5 -2.9M635.7 120.7L618.4 134.3M618.4 134.3l-7.3 -3.2M661.1 120.3L643.9 134.1M643.9 134.1l-7.3 -3.2M686.4 119.8L669.4 133.8M669.4 133.8l-7.4 -3.1M711.8 119.5L694.9 133.6M694.9 133.6l-7.4 -3.0M737.8 119.8L720.4 133.3M720.4 133.3l-7.3 -3.3M763.7 120.1L745.9 133.0M745.9 133.0l-7.2 -3.5M790.0 121.0L771.4 132.8M771.4 132.8l-6.9 -4.0M816.7 122.9L796.9 132.5M796.9 132.5l-6.5 -4.7M843.1 124.8L822.4 132.3M822.4 132.3l-5.9 -5.4M868.9 125.5L847.9 132.0M847.9 132.0l-5.7 -5.6M894.5 125.7L873.4 131.8M873.4 131.8l-5.6 -5.7M920.1 125.8L898.9 131.5M898.9 131.5l-5.5 -5.8M946.1 127.8L924.4 131.3M924.4 131.3l-4.8 -6.4M971.9 130.0L949.9 131.0M949.9 131.0l-4.1 -6.9M997.4 130.7L975.4 130.7M975.4 130.7l-3.8 -7.1M244.2 139.6L244.2 161.6M244.2 161.6l-7.1 3.8M244.2 158.7l-3.5 1.9M218.1 139.8L218.1 161.8M218.1 161.8l-7.1 3.8M218.1 158.9l-3.5 1.9M192.2 140.1L192.0 162.1M192.0 162.1l-7.1 3.7M192.0 159.2l-3.5 1.9M166.6 140.4L165.9 162.3M165.9 162.3l-7.2 3.5M166.0 159.4l-3.6 1.8M141.0 140.6L139.8 162.6M139.8 162.6l-7.3 3.4M140.0 159.7l-3.6 1.7M117.5 141.2L113.7 162.9M113.7 162.9l-7.6 2.5M114.2 160.0l-3.8 1.2M95.4 142.6L87.6 163.1M87.6 163.1l-7.9 1.0M88.6 160.4l-4.0 0.5M73.0 144.6L61.5 163.4M61.5 163.4l-8.0 -0.5M63.0 160.9l-4.0 -0.2M270.3 139.3L270.3 161.3M270.3 161.3l-7.1 3.7M270.3 158.4l-3.5 1.9M298.1 139.1L296.4 161.0M296.4 161.0l-7.3 3.2M296.6 158.1l-3.7 1.6M325.8 139.0L322.4 160.8M322.4 160.8l-7.6 2.6M353.4 139.1L348.4 160.5M348.4 160.5l-7.7 2.0M380.7 139.2L374.3 160.3M374.3 160.3l-7.9 1.5M407.9 139.4L400.2 160.0M401.2 157.3l-4.0 0.5M435.0 139.6L426.0 159.7M427.2 157.1l-4.0 0.3M461.9 139.9L451.8 159.5M453.1 156.9l-4.0 0.1M488.7 140.3L477.6 159.2M479.0 156.7l-4.0 -0.2M516.2 141.1L503.3 159.0M505.0 156.6l-4.0 -0.5M543.5 142.2L529.0 158.7M530.9 156.5l-3.9 -0.9M570.5 143.3L554.6 158.5M556.7 156.5l-3.8 -1.3M596.7 143.7L580.2 158.2M582.3 156.3l-3.7 -1.4M622.7 144.0L605.7 157.9M605.7 157.9l-7.4 -3.1M648.4 144.0L631.2 157.7M631.2 157.7l-7.3 -3.2M673.7 143.5L656.7 157.4M656.7 157.4l-7.4 -3.1M698.9 142.9L682.2 157.2M682.2 157.2l-7.4 -2.9M724.5 142.8L707.7 156.9M707.7 156.9l-7.4 -3.0M750.2 142.8L733.2 156.7M733.2 156.7l-7.4 -3.1M775.9 142.8L758.7 156.4M758.7 156.4l-7.3 -3.2M802.7 144.3L784.2 156.2M784.2 156.2l-7.0 -3.9M829.4 146.1L809.7 155.9M809.7 155.9l-6.5 -4.6M855.6 147.6L835.2 155.6M835.2 155.6l-6.1 -5.2M881.3 147.7L860.7 155.4M860.7 155.4l-6.0 -5.3M906.9 147.8L886.2 155.1M886.2 155.1l-5.9 -5.4M932.9 149.2L911.7 154.9M911.7 154.9l-5.4 -5.9M959.1 152.3L937.2 154.6M937.2 154.6l-4.5 -6.6M984.7 154.9L962.7 154.4M962.7 154.4l-3.6 -7.2M1010.2 154.7L988.2 154.1M988.2 154.1l-3.6 -7.2M257.3 163.4L257.3 185.4M257.3 185.4l-7.1 3.8M257.3 182.5l-3.5 1.9M231.2 163.7L231.2 185.7M231.2 185.7l-7.1 3.8M231.2 182.8l-3.5 1.9M205.1 163.9L205.1 185.9M205.1 185.9l-7.1 3.8M205.1 183.0l-3.5 1.9M179.4 164.2L179.0 186.2M179.0 186.2l-7.1 3.6M179.0 183.3l-3.6 1.8M153.7 164.5L152.9 186.5M152.9 186.5l-7.2 3.5M153.0 183.6l-3.6 1.7M128.5 164.8L126.8 186.7M126.8 186.7l-7.3 3.2M127.0 183.8l-3.7 1.6M106.4 165.8L100.7 187.0M100.7 187.0l-7.8 1.8M101.5 184.2l-3.9 0.9M84.3 167.5L74.6 187.3M74.6 187.3l-8.0 0.3M75.9 184.6l-4.0 0.1M60.2 168.9L48.5 187.5M48.5 187.5l-8.0 -0.6M50.0 185.1l-4.0 -0.3M284.3 163.2L283.4 185.2M283.4 185.2l-7.2 3.5M283.5 182.3l-3.6 1.7M312.0 163.1L309.4 184.9M309.4 184.9l-7.5 2.9M339.7 163.1L335.4 184.6M335.4 184.6l-7.7 2.3M367.1 163.1L361.4 184.4M361.4 184.4l-7.8 1.8M394.4 163.3L387.3 184.1M388.2 181.4l-3.9 0.6M421.6 163.5L413.2 183.9M414.3 181.2l-4.0 0.4M448.6 163.8L439.0 183.6M440.3 181.0l-4.0 0.1M475.6 164.2L464.8 183.4M466.2 180.8l-4.0 -0.1M502.8 164.9L490.5 183.1M492.1 180.7l-4.0 -0.4M530.3 166.0L516.2 182.8M518.0 180.6l-3.9 -0.8M557.6 167.2L541.8 182.6M543.9 180.6l-3.8 -1.2M583.9 167.8L567.4 182.3M569.6 180.4l-3.7 -1.4M609.9 168.0L593.0 182.1M593.0 182.1l-7.4 -3.0M635.8 168.2L618.5 181.8M618.5 181.8l-7.3 -3.2M661.0 167.6L644.0 181.6M644.0 181.6l-7.4 -3.1M686.2 167.0L669.5 181.3M669.5 181.3l-7.4 -2.9M711.4 166.4L695.0 181.1M695.0 181.1l-7.5 -2.8M736.8 166.0L720.5 180.8M720.5 180.8l-7.5 -2.7M762.1 165.6L746.0 180.5M746.0 180.5l-7.6 -2.6M788.2 166.0L771.5 180.3M771.5 180.3l-7.4 -2.9M815.0 167.5L797.0 180.0M797.0 180.0l-7.1 -3.6M841.7 169.0L822.5 179.8M822.5 179.8l-6.7 -4.3M867.6 169.6L848.0 179.5M848.0 179.5l-6.5 -4.6M893.3 169.6L873.5 179.3M873.5 179.3l-6.5 -4.7M918.9 169.6L899.0 179.0M899.0 179.0l-6.4 -4.8M945.9 173.7L924.5 178.8M924.5 178.8l-5.3 -6.0M972.0 178.2L950.0 178.5M950.0 178.5l-3.9 -7.0M997.4 179.7L975.5 178.2M975.5 178.2l-3.3 -7.3M270.4 186.8L270.4 208.8M270.4 208.8l-7.1 3.7M270.4 205.9l-3.5 1.9M244.3 187.1L244.3 209.1M244.3 209.1l-7.1 3.8M244.3 206.2l-3.5 1.9M218.2 187.3L218.2 209.3M218.2 209.3l-7.1 3.8M218.2 206.4l-3.5 1.9M192.2 187.6L192.1 209.6M192.1 209.6l-7.1 3.7M192.1 206.7l-3.5 1.9M166.6 187.8L166.0 209.8M166.0 209.8l-7.2 3.6M166.1 206.9l-3.6 1.8M141.0 188.1L139.9 210.1M139.9 210.1l-7.2 3.4M140.0 207.2l-3.6 1.7M117.6 188.7L113.8 210.4M113.8 210.4l-7.6 2.5M114.3 207.5l-3.8 1.2M95.5 190.0L87.7 210.6M87.7 210.6l-7.9 1.0M88.7 207.9l-4.0 0.5M73.1 192.1L61.6 210.9M61.6 210.9l-8.0 -0.5M63.1 208.4l-4.0 -0.2M298.2 186.6L296.5 208.5M296.5 208.5l-7.3 3.2M296.7 205.6l-3.7 1.6M326.0 186.5L322.5 208.3M322.5 208.3l-7.6 2.6M353.5 186.6L348.5 208.0M348.5 208.0l-7.7 2.0M380.8 186.7L374.4 207.8M374.4 207.8l-7.9 1.5M408.1 186.9L400.3 207.5M401.3 204.8l-4.0 0.5M435.2 187.2L426.2 207.2M427.3 204.6l-4.0 0.3M462.3 187.6L452.0 207.0M453.3 204.4l-4.0 0.0M489.3 188.0L477.7 206.7M479.2 204.3l-4.0 -0.3M516.8 189.0L503.4 206.5M505.2 204.2l-3.9 -0.7M544.3 190.3L529.1 206.2M531.1 204.1l-3.9 -1.1M571.3 191.5L554.7 206.0M556.9 204.1l-3.7 -1.4M597.4 191.8L580.3 205.7M582.5 203.9l-3.7 -1.6M623.3 192.1L605.8 205.4M605.8 205.4l-7.3 -3.4M648.9 191.9L631.3 205.2M631.3 205.2l-7.3 -3.4M673.9 191.1L656.8 204.9M656.8 204.9l-7.4 -3.1M699.0 190.3L682.3 204.7M682.3 204.7l-7.5 -2.9M723.6 189.1L707.8 204.4M707.8 204.4l-7.6 -2.5M748.1 187.8L733.3 204.2M733.3 204.2l-7.8 -1.9M772.4 186.6L758.8 203.9M758.8 203.9l-7.9 -1.4M799.4 187.7L784.3 203.7M784.3 203.7l-7.7 -2.1M826.4 189.0L809.8 203.4M809.8 203.4l-7.5 -2.9M853.1 190.2L835.3 203.1M835.3 203.1l-7.2 -3.5M878.9 190.4L860.8 202.9M860.8 202.9l-7.1 -3.7M904.8 190.6L886.3 202.6M886.3 202.6l-7.0 -3.9M931.8 193.1L911.8 202.4M911.8 202.4l-6.4 -4.8M959.1 199.1L937.3 202.1M937.3 202.1l-4.7 -6.5M984.7 204.2L962.8 201.9M962.8 201.9l-3.0 -7.4M1010.2 204.0L988.3 201.6M988.3 201.6l-3.0 -7.4M284.4 209.3L283.5 231.3M283.5 231.3l-7.2 3.5M283.6 228.4l-3.6 1.7M257.4 209.7L257.4 231.7M257.4 231.7l-7.1 3.8M257.4 228.8l-3.5 1.9M231.3 210.1L231.3 232.1M231.3 232.1l-7.1 3.8M231.3 229.2l-3.5 1.9M205.2 210.4L205.2 232.4M205.2 232.4l-7.1 3.8M205.2 229.5l-3.5 1.9M179.5 210.8L179.1 232.8M179.1 232.8l-7.1 3.6M179.2 229.9l-3.6 1.8M154.0 211.2L153.0 233.2M153.0 233.2l-7.2 3.4M153.1 230.3l-3.6 1.7M128.8 211.6L126.9 233.6M126.9 233.6l-7.4 3.1M127.2 230.7l-3.7 1.6M106.7 212.7L100.8 233.9M100.8 233.9l-7.8 1.7M101.6 231.1l-3.9 0.9M84.4 214.6L74.7 234.3M74.7 234.3l-8.0 0.3M76.0 231.7l-4.0 0.1M60.3 216.0L48.6 234.7M48.6 234.7l-8.0 -0.6M50.1 232.2l-4.0 -0.3M312.2 209.1L309.6 230.9M309.6 230.9l-7.5 2.9M339.9 209.0L335.6 230.6M335.6 230.6l-7.7 2.3M367.3 209.0L361.6 230.2M361.6 230.2l-7.8 1.8M394.5 209.0L387.5 229.8M388.4 227.1l-3.9 0.6M421.7 209.1L413.3 229.5M414.4 226.8l-4.0 0.4M448.8 209.4L439.1 229.1M440.4 226.5l-4.0 0.1M475.9 209.6L464.9 228.7M466.4 226.2l-4.0 -0.1M503.2 210.3L490.7 228.4M492.3 226.0l-4.0 -0.5M530.8 211.4L516.3 228.0M518.2 225.8l-3.9 -0.9M558.2 212.8L542.0 227.6M544.1 225.7l-3.8 -1.3M584.7 213.5L567.6 227.3M569.8 225.4l-3.7 -1.6M610.9 213.9L593.1 226.9M593.1 226.9l-7.2 -3.5M636.9 214.3L618.6 226.5M618.6 226.5l-7.0 -3.8M661.9 213.2L644.1 226.2M644.1 226.2l-7.2 -3.5M686.8 212.1L669.6 225.8M669.6 225.8l-7.3 -3.2M711.5 210.7L695.1 225.4M695.1 225.4l-7.5 -2.7M734.8 208.2L720.6 225.1M720.6 225.1l-7.8 -1.6M757.8 206.0L746.1 224.7M746.1 224.7l-8.0 -0.5M782.7 205.3L771.6 224.3M771.6 224.3l-8.0 -0.3M810.1 206.2L797.1 224.0M797.1 224.0l-7.9 -1.1M837.2 207.2L822.6 223.6M822.6 223.6l-7.8 -1.9M863.8 207.8L848.1 223.3M848.1 223.3l-7.6 -2.4M890.0 208.2L873.6 222.9M873.6 222.9l-7.5 -2.7M916.2 208.6L899.1 222.5M899.1 222.5l-7.4 -3.1M945.4 214.7L924.6 222.2M924.6 222.2l-5.9 -5.4M972.1 222.2L950.1 221.8M950.1 221.8l-3.6 -7.1M997.4 224.6L975.6 221.4M975.6 221.4l-2.7 -7.5M298.8 232.4L296.6 254.3M296.6 254.3l-7.4 3.0M296.9 251.4l-3.7 1.5M271.2 232.8L270.5 254.8M270.5 254.8l-7.2 3.5M270.6 251.9l-3.6 1.8M245.1 233.3L244.4 255.3M244.4 255.3l-7.2 3.5M244.5 252.4l-3.6 1.8M219.0 233.8L218.3 255.8M218.3 255.8l-7.2 3.5M218.4 252.9l-3.6 1.8M193.1 234.3L192.2 256.3M192.2 256.3l-7.2 3.4M192.3 253.4l-3.6 1.7M167.7 234.8L166.1 256.8M166.1 256.8l-7.3 3.2M166.3 253.9l-3.7 1.6M142.3 235.4L140.0 257.2M140.0 257.2l-7.4 3.0M140.3 254.4l-3.7 1.5M118.8 236.3L113.9 257.7M113.9 257.7l-7.7 2.1M114.5 254.9l-3.9 1.0M96.3 237.9L87.8 258.2M87.8 258.2l-8.0 0.7M88.9 255.5l-4.0 0.4M73.5 240.1L61.7 258.7M61.7 258.7l-8.0 -0.6M63.3 256.3l-4.0 -0.3M326.5 232.2L322.7 253.8M322.7 253.8l-7.6 2.5M353.9 232.0L348.7 253.4M348.7 253.4l-7.8 2.0M381.0 231.8L374.6 252.9M374.6 252.9l-7.9 1.5M408.1 231.8L400.5 252.4M401.5 249.7l-4.0 0.5M435.3 231.8L426.3 251.9M427.5 249.3l-4.0 0.3M462.4 232.0L452.1 251.4M453.5 248.9l-4.0 0.0M489.4 232.2L477.9 251.0M479.4 248.5l-4.0 -0.3M517.3 233.2L503.6 250.5M505.4 248.2l-3.9 -0.7M544.9 234.6L529.3 250.0M531.3 248.0l-3.8 -1.2M572.1 235.9L554.9 249.5M557.2 247.7l-3.7 -1.6M598.4 236.3L580.5 249.1M582.8 247.4l-3.6 -1.8M624.6 236.8L606.0 248.6M606.0 248.6l-7.0 -3.9M650.1 236.4L631.5 248.1M631.5 248.1l-6.9 -4.0M674.9 234.9L657.0 247.6M657.0 247.6l-7.1 -3.6M699.7 233.5L682.5 247.2M682.5 247.2l-7.3 -3.2M722.9 230.5L708.0 246.7M708.0 246.7l-7.7 -2.0M744.9 227.4L733.5 246.2M733.5 246.2l-8.0 -0.4M766.5 225.1L759.0 245.7M759.0 245.7l-7.9 1.1M793.6 225.3L784.5 245.3M784.5 245.3l-8.0 0.5M821.0 225.7L810.0 244.8M810.0 244.8l-8.0 -0.3M848.1 226.3L835.5 244.3M835.5 244.3l-7.9 -1.0M874.8 226.7L861.0 243.9M861.0 243.9l-7.9 -1.5M901.4 227.2L886.5 243.4M886.5 243.4l-7.7 -2.0M930.0 230.3L912.0 242.9M912.0 242.9l-7.1 -3.6M959.2 238.8L937.5 242.4M937.5 242.4l-4.9 -6.4M984.6 246.1L963.0 242.0M963.0 242.0l-2.3 -7.6M1010.1 245.6L988.5 241.5M988.5 241.5l-2.4 -7.6M222.8 258.2L221.0 280.2M221.0 280.2l-7.4 3.1M221.2 277.3l-3.7 1.6M196.9 258.9L194.9 280.8M194.9 280.8l-7.4 3.1M195.2 277.9l-3.7 1.5M171.7 259.5L168.8 281.4M168.8 281.4l-7.5 2.8M169.2 278.5l-3.7 1.4M146.4 260.3L142.7 282.0M142.7 282.0l-7.6 2.5M143.2 279.1l-3.8 1.3M122.4 261.3L116.6 282.5M116.6 282.5l-7.8 1.8M117.4 279.8l-3.9 0.9M99.6 263.1L90.5 283.1M90.5 283.1l-8.0 0.5M91.7 280.5l-4.0 0.3M76.4 265.3L64.4 283.7M64.4 283.7l-8.0 -0.7M66.0 281.3l-4.0 -0.4M248.9 257.6L247.1 279.6M247.1 279.6l-7.4 3.2M247.3 276.7l-3.7 1.6M275.1 257.1L273.2 279.0M273.2 279.0l-7.4 3.1M273.5 276.1l-3.7 1.6M302.5 256.6L299.3 278.4M299.3 278.4l-7.5 2.7M299.7 275.5l-3.8 1.3M329.7 256.2L325.3 277.8M325.3 277.8l-7.7 2.3M356.8 255.9L351.2 277.2M351.2 277.2l-7.8 1.9M383.7 255.6L377.2 276.6M377.2 276.6l-7.9 1.5M410.5 255.3L403.1 276.0M403.1 276.0l-7.9 1.1M437.7 255.3L428.9 275.4M428.9 275.4l-8.0 0.6M465.0 255.4L454.7 274.8M454.7 274.8l-8.0 0.0M492.1 255.6L480.4 274.2M480.4 274.2l-8.0 -0.6M520.3 256.8L506.1 273.6M508.0 271.4l-3.9 -0.8M548.1 258.3L531.8 273.1M533.9 271.1l-3.8 -1.4M575.3 259.6L557.4 272.5M559.8 270.8l-3.6 -1.8M601.6 260.1L583.0 271.9M585.4 270.3l-3.5 -2.0M627.7 260.6L608.5 271.3M608.5 271.3l-6.7 -4.3M653.2 259.9L634.0 270.7M634.0 270.7l-6.8 -4.3M678.0 258.2L659.5 270.1M659.5 270.1l-7.0 -3.9M702.7 256.5L685.0 269.6M685.0 269.6l-7.2 -3.5M725.4 252.8L710.5 269.0M710.5 269.0l-7.7 -2.0M746.8 249.2L736.0 268.4M736.0 268.4l-8.0 -0.2M768.1 246.8L761.5 267.8M761.5 267.8l-7.9 1.5M795.3 246.8L787.0 267.2M787.0 267.2l-8.0 0.8M822.4 247.0L812.5 266.6M812.5 266.6l-8.0 0.2M849.4 247.2L838.0 266.1M838.0 266.1l-8.0 -0.5M876.4 247.7L863.5 265.5M863.5 265.5l-7.9 -1.1M903.3 248.2L889.0 264.9M889.0 264.9l-7.8 -1.7M933.0 252.4L914.5 264.3M914.5 264.3l-7.0 -3.9M962.0 263.7L940.0 263.7M940.0 263.7l-3.8 -7.1M986.0 271.2L965.5 263.1M965.5 263.1l-0.9 -7.9M1011.5 270.5L991.0 262.6M991.0 262.6l-0.9 -7.9M213.1 282.1L208.4 303.6M208.4 303.6l-7.7 2.2M209.0 300.8l-3.9 1.1M187.6 282.9L182.3 304.2M182.3 304.2l-7.8 1.9M183.0 301.4l-3.9 1.0M162.3 283.7L156.2 304.8M156.2 304.8l-7.8 1.7M157.0 302.0l-3.9 0.8M136.9 284.5L130.1 305.4M130.1 305.4l-7.9 1.4M131.0 302.7l-3.9 0.7M113.4 286.2L104.0 306.1M104.0 306.1l-8.0 0.4M105.2 303.4l-4.0 0.2M89.8 288.2L77.9 306.7M77.9 306.7l-8.0 -0.6M79.5 304.2l-4.0 -0.3M65.2 289.8L51.8 307.3M51.8 307.3l-7.9 -1.3M53.6 305.0l-3.9 -0.7M238.9 281.4L234.5 303.0M234.5 303.0l-7.7 2.3M235.1 300.1l-3.8 1.1M264.7 280.7L260.6 302.3M260.6 302.3l-7.6 2.4M261.1 299.5l-3.8 1.2M291.0 280.2L286.7 301.7M286.7 301.7l-7.7 2.3M287.3 298.9l-3.8 1.1M317.5 279.6L312.7 301.1M312.7 301.1l-7.7 2.1M344.1 279.2L338.7 300.5M338.7 300.5l-7.8 1.9M370.8 278.7L364.7 299.9M364.7 299.9l-7.8 1.6M397.4 278.4L390.6 299.3M390.6 299.3l-7.9 1.4M424.2 278.1L416.4 298.7M416.4 298.7l-7.9 1.0M451.6 278.1L442.2 298.0M442.2 298.0l-8.0 0.4M478.8 278.3L468.0 297.4M468.0 297.4l-8.0 -0.2M506.5 278.9L493.7 296.8M493.7 296.8l-7.9 -1.1M534.6 280.3L519.4 296.2M519.4 296.2l-7.7 -2.2M562.3 282.0L545.1 295.6M547.3 293.8l-3.7 -1.6M589.1 283.0L570.6 295.0M573.1 293.4l-3.5 -1.9M615.5 283.9L596.2 294.4M596.2 294.4l-6.7 -4.4M641.7 284.5L621.7 293.8M621.7 293.8l-6.4 -4.8M666.6 282.8L647.2 293.2M647.2 293.2l-6.7 -4.4M691.4 281.0L672.7 292.6M672.7 292.6l-6.9 -4.0M715.4 278.2L698.2 292.0M698.2 292.0l-7.3 -3.2M736.8 273.7L723.7 291.4M723.7 291.4l-7.9 -1.2M757.3 270.3L749.2 290.8M749.2 290.8l-7.9 0.9M781.2 269.1L774.7 290.2M774.7 290.2l-7.9 1.5M808.0 269.0L800.2 289.6M800.2 289.6l-7.9 1.0M834.9 268.9L825.7 288.9M825.7 288.9l-8.0 0.5M862.1 269.3L851.2 288.3M851.2 288.3l-8.0 -0.3M889.4 269.8L876.7 287.7M876.7 287.7l-7.9 -1.0M917.0 270.9L902.2 287.1M902.2 287.1l-7.7 -2.0M949.2 281.9L927.7 286.5M927.7 286.5l-5.2 -6.1M973.0 295.5L953.2 285.9M955.8 287.2l-0.1 -4.0M997.2 297.2L978.7 285.3M981.1 286.9l0.3 -4.0M227.3 305.1L219.0 325.4M219.0 325.4l-8.0 0.8M220.1 322.7l-4.0 0.4M201.7 305.9L192.9 326.1M192.9 326.1l-8.0 0.6M194.1 323.4l-4.0 0.3M176.1 306.8L166.8 326.7M166.8 326.7l-8.0 0.4M168.0 324.0l-4.0 0.2M150.5 307.6L140.7 327.3M140.7 327.3l-8.0 0.2M142.0 324.7l-4.0 0.1M125.6 308.9L114.6 327.9M114.6 327.9l-8.0 -0.3M116.1 325.4l-4.0 -0.1M101.2 310.5L88.5 328.5M88.5 328.5l-7.9 -1.0M90.2 326.2l-4.0 -0.5M76.6 312.3L62.4 329.1M62.4 329.1l-7.8 -1.7M64.3 326.9l-3.9 -0.8M252.8 304.2L245.1 324.8M245.1 324.8l-7.9 1.0M246.1 322.1l-4.0 0.5M278.3 303.4L271.2 324.2M271.2 324.2l-7.9 1.3M272.1 321.5l-4.0 0.6M303.8 302.6L297.3 323.6M297.3 323.6l-7.9 1.5M298.1 320.8l-3.9 0.8M329.2 301.8L323.3 323.0M323.3 323.0l-7.8 1.7M355.0 301.1L349.3 322.3M349.3 322.3l-7.8 1.8M381.5 300.7L375.2 321.7M375.2 321.7l-7.8 1.6M408.0 300.2L401.1 321.1M401.1 321.1l-7.9 1.4M434.9 300.0L426.9 320.5M426.9 320.5l-7.9 0.9M462.1 300.0L452.7 319.9M452.7 319.9l-8.0 0.4M489.3 300.1L478.5 319.3M478.5 319.3l-8.0 -0.2M516.9 300.7L504.2 318.7M504.2 318.7l-7.9 -1.0M544.5 301.6L529.8 318.1M529.8 318.1l-7.8 -1.9M571.9 302.8L555.5 317.5M555.5 317.5l-7.5 -2.8M599.3 304.6L581.0 316.8M581.0 316.8l-7.1 -3.8M626.3 306.5L606.6 316.2M606.6 316.2l-6.5 -4.7M652.3 307.0L632.1 315.6M632.1 315.6l-6.2 -5.0M677.6 305.9L657.6 315.0M657.6 315.0l-6.4 -4.9M702.8 304.7L683.1 314.4M683.1 314.4l-6.5 -4.7M727.0 301.9L708.6 313.8M708.6 313.8l-7.0 -3.9M750.3 298.4L734.1 313.2M734.1 313.2l-7.5 -2.7M773.0 295.2L759.6 312.6M759.6 312.6l-7.9 -1.3M797.6 294.0L785.1 312.0M785.1 312.0l-7.9 -1.0M822.4 292.9L810.6 311.4M810.6 311.4l-8.0 -0.6M847.6 292.1L836.1 310.8M836.1 310.8l-8.0 -0.5M873.6 291.8L861.6 310.2M861.6 310.2l-8.0 -0.7M899.7 291.6L887.1 309.6M887.1 309.6l-7.9 -1.0M929.7 295.2L912.6 309.0M914.8 307.2l-3.7 -1.6M959.8 312.0L938.1 308.4M940.9 308.9l-1.3 -3.8M980.3 322.0L963.6 307.8M965.8 309.7l0.9 -3.9M1005.9 321.4L989.1 307.2M991.3 309.0l0.8 -3.9M215.2 328.9L204.2 347.9M204.2 347.9l-8.0 -0.3M205.7 345.4l-4.0 -0.1M189.4 329.7L178.1 348.5M178.1 348.5l-8.0 -0.4M179.6 346.0l-4.0 -0.2M163.6 330.5L152.0 349.2M152.0 349.2l-8.0 -0.5M153.5 346.7l-4.0 -0.3M137.9 331.4L125.9 349.8M125.9 349.8l-8.0 -0.7M127.5 347.4l-4.0 -0.4M113.0 332.8L99.8 350.4M99.8 350.4l-7.9 -1.2M101.5 348.1l-4.0 -0.6M88.0 334.3L73.7 351.0M73.7 351.0l-7.8 -1.7M75.6 348.8l-3.9 -0.9M62.5 335.4L47.6 351.7M47.6 351.7l-7.7 -2.0M49.6 349.5l-3.9 -1.0M240.7 327.9L230.3 347.3M230.3 347.3l-8.0 -0.0M231.7 344.7l-4.0 -0.0M266.2 326.9L256.4 346.6M256.4 346.6l-8.0 0.2M257.7 344.0l-4.0 0.1M291.3 325.8L282.5 346.0M282.5 346.0l-8.0 0.6M283.6 343.4l-4.0 0.3M315.9 324.7L308.5 345.4M308.5 345.4l-7.9 1.2M309.5 342.7l-4.0 0.6M340.5 323.6L334.5 344.8M334.5 344.8l-7.8 1.7M366.5 323.0L360.5 344.1M360.5 344.1l-7.8 1.7M392.8 322.5L386.4 343.5M386.4 343.5l-7.9 1.5M419.2 322.0L412.3 342.9M412.3 342.9l-7.9 1.3M446.3 321.9L438.1 342.3M438.1 342.3l-8.0 0.8M473.4 321.8L463.9 341.7M463.9 341.7l-8.0 0.3M500.5 321.9L489.6 341.0M489.6 341.0l-8.0 -0.2M527.6 322.2L515.3 340.4M515.3 340.4l-8.0 -0.8M554.6 322.6L540.9 339.8M540.9 339.8l-7.9 -1.5M582.7 324.2L566.5 339.2M566.5 339.2l-7.6 -2.6M610.8 327.0L592.1 338.6M592.1 338.6l-6.9 -4.0M638.1 330.0L617.6 338.0M617.6 338.0l-6.1 -5.2M663.8 329.9L643.1 337.4M643.1 337.4l-5.9 -5.4M689.3 329.4L668.6 336.8M668.6 336.8l-5.9 -5.4M714.8 328.7L694.1 336.1M694.1 336.1l-5.9 -5.4M739.8 326.8L719.6 335.5M719.6 335.5l-6.3 -5.0M764.6 324.8L745.1 334.9M745.1 334.9l-6.6 -4.5M788.9 322.2L770.6 334.3M770.6 334.3l-7.0 -3.8M812.5 319.0L796.1 333.7M796.1 333.7l-7.5 -2.8M835.8 316.3L821.6 333.1M821.6 333.1l-7.8 -1.7M860.1 314.7L847.1 332.5M847.1 332.5l-7.9 -1.1M884.9 313.6L872.6 331.9M874.2 329.5l-4.0 -0.4M909.7 312.6L898.1 331.2M899.6 328.8l-4.0 -0.3M944.1 322.7L923.6 330.6M926.3 329.6l-3.0 -2.6M967.3 342.4L949.1 330.0M951.5 331.7l0.4 -4.0M989.7 345.5L974.6 329.4M976.6 331.5l1.3 -3.8M221.7 350.6L210.5 369.5M210.5 369.5l-8.0 -0.4M212.0 367.0l-8.0 -0.4M196.0 351.2L184.4 369.9M184.4 369.9l-8.0 -0.5M185.9 367.5l-4.0 -0.3M170.2 351.9L158.3 370.4M158.3 370.4l-8.0 -0.7M159.9 367.9l-4.0 -0.3M144.4 352.5L132.2 370.8M132.2 370.8l-8.0 -0.8M133.8 368.4l-4.0 -0.4M119.4 353.6L106.1 371.2M106.1 371.2l-7.9 -1.3M107.8 368.9l-3.9 -0.6M94.3 354.9L80.0 371.6M80.0 371.6l-7.8 -1.7M81.9 369.4l-3.9 -0.9M69.0 356.0L53.9 372.0M53.9 372.0l-7.7 -2.1M55.9 369.9l-3.9 -1.1M247.2 349.8L236.6 369.1M236.6 369.1l-8.0 -0.1M238.0 366.6l-8.0 -0.1M272.8 349.1L262.7 368.7M262.7 368.7l-8.0 0.1M264.0 366.1l-8.0 0.1M297.6 348.1L288.8 368.3M288.8 368.3l-8.0 0.6M289.9 365.6l-4.0 0.3M322.0 347.1L314.8 367.9M314.8 367.9l-7.9 1.2M315.8 365.1l-4.0 0.6M346.5 346.2L340.8 367.4M340.8 367.4l-7.8 1.8M341.6 364.6l-3.9 0.9M372.9 345.9L366.7 367.0M366.7 367.0l-7.8 1.6M399.2 345.6L392.6 366.6M392.6 366.6l-7.9 1.5M425.7 345.4L418.5 366.2M418.5 366.2l-7.9 1.2M452.6 345.4L444.3 365.8M444.3 365.8l-8.0 0.8M479.5 345.5L470.1 365.4M470.1 365.4l-8.0 0.4M506.5 345.7L495.8 365.0M495.8 365.0l-8.0 -0.1M533.5 346.1L521.5 364.6M521.5 364.6l-8.0 -0.7M560.4 346.6L547.1 364.1M547.1 364.1l-7.9 -1.3M588.2 348.2L572.7 363.7M572.7 363.7l-7.7 -2.3M615.9 350.2L598.3 363.3M598.3 363.3l-7.2 -3.4M643.1 352.4L623.8 362.9M623.8 362.9l-6.7 -4.4M669.3 353.4L649.3 362.5M649.3 362.5l-6.3 -4.9M695.4 354.5L674.8 362.1M674.8 362.1l-6.0 -5.3M721.2 355.0L700.3 361.7M700.3 361.7l-5.7 -5.6M746.8 354.8L725.8 361.3M725.8 361.3l-5.7 -5.6M772.3 354.5L751.3 360.9M751.3 360.9l-5.6 -5.7M797.0 352.0L776.8 360.5M776.8 360.5l-6.2 -5.1M820.9 348.4L802.3 360.1M802.3 360.1l-6.9 -4.0M844.3 345.1L827.8 359.7M827.8 359.7l-7.5 -2.8M870.5 345.6L853.3 359.2M853.3 359.2l-7.3 -3.2M897.0 346.6L878.8 358.8M881.2 357.2l-3.5 -1.9M924.4 349.5L904.3 358.4M906.9 357.3l-3.2 -2.5M950.8 364.4L929.8 358.0M932.5 358.9l-0.8 -3.9M970.4 373.6L955.3 357.6M957.3 359.7l1.3 -3.8M994.9 374.1L980.8 357.2M982.6 359.4l1.5 -3.7M234.3 372.6L223.0 391.5M223.0 391.5l-8.0 -0.4M224.5 389.0l-8.0 -0.4M208.6 373.3L196.9 391.9M196.9 391.9l-8.0 -0.6M198.4 389.5l-8.0 -0.6M182.9 374.0L170.8 392.4M170.8 392.4l-8.0 -0.7M172.4 389.9l-8.0 -0.7M157.2 374.7L144.7 392.8M144.7 392.8l-7.9 -0.9M146.3 390.4l-4.0 -0.5M131.7 375.6L118.6 393.3M118.6 393.3l-7.9 -1.2M120.3 390.9l-4.0 -0.6M106.6 376.8L92.5 393.7M92.5 393.7l-7.8 -1.6M94.4 391.5l-3.9 -0.8M81.5 378.1L66.4 394.1M66.4 394.1l-7.7 -2.1M68.4 392.0l-3.9 -1.0M259.8 371.8L249.1 391.0M249.1 391.0l-8.0 -0.2M250.5 388.5l-8.0 -0.2M285.2 371.0L275.2 390.6M275.2 390.6l-8.0 0.1M276.5 388.0l-8.0 0.1M309.6 369.8L301.3 390.1M301.3 390.1l-8.0 0.8M302.4 387.4l-8.0 0.8M333.8 368.7L327.3 389.7M327.3 389.7l-7.9 1.5M328.1 386.9l-3.9 0.7M359.1 368.0L353.2 389.2M353.2 389.2l-7.8 1.7M354.0 386.4l-3.9 0.9M385.5 367.7L379.2 388.8M379.2 388.8l-7.8 1.6M411.8 367.4L405.0 388.3M405.0 388.3l-7.9 1.4M438.4 367.2L430.9 387.9M430.9 387.9l-7.9 1.1M465.2 367.2L456.7 387.5M456.7 387.5l-8.0 0.7M491.9 367.2L482.4 387.0M482.4 387.0l-8.0 0.3M518.9 367.4L508.1 386.6M508.1 386.6l-8.0 -0.2M545.8 367.7L533.8 386.1M533.8 386.1l-8.0 -0.7M572.8 368.3L559.4 385.7M559.4 385.7l-7.9 -1.3M600.1 369.3L585.0 385.3M585.0 385.3l-7.7 -2.2M627.3 370.6L610.5 384.8M610.5 384.8l-7.4 -3.0M654.4 372.3L636.0 384.4M636.0 384.4l-7.0 -3.8M681.3 374.3L661.5 383.9M661.5 383.9l-6.5 -4.7M707.8 376.4L687.0 383.5M687.0 383.5l-5.8 -5.5M733.8 377.5L712.5 383.1M712.5 383.1l-5.4 -5.9M759.6 378.4L738.0 382.6M738.0 382.6l-5.0 -6.2M785.2 378.6L763.5 382.2M763.5 382.2l-4.8 -6.4M809.8 374.8L789.0 381.8M789.0 381.8l-5.8 -5.5M833.9 371.0L814.5 381.3M814.5 381.3l-6.6 -4.5M859.4 370.6L840.0 380.9M840.0 380.9l-6.6 -4.5M887.1 376.4L865.5 380.4M868.3 379.9l-2.5 -3.1M912.7 383.5L891.0 380.0M893.8 380.5l-1.3 -3.8M936.2 389.2L916.5 379.6M919.1 380.8l-0.1 -4.0M958.6 393.6L942.0 379.1M944.2 381.0l0.9 -3.9M981.6 395.6L967.5 378.7M969.3 380.9l1.5 -3.7M1007.1 395.1L993.0 378.3M994.8 380.5l1.5 -3.7M218.3 396.2L206.3 414.6M206.3 414.6l-8.0 -0.7M207.9 412.2l-8.0 -0.7M192.6 396.8L180.2 415.0M180.2 415.0l-8.0 -0.9M181.8 412.6l-8.0 -0.9M166.8 397.4L154.1 415.4M154.1 415.4l-7.9 -1.0M155.8 413.0l-4.0 -0.5M141.0 398.0L128.0 415.7M128.0 415.7l-7.9 -1.1M129.7 413.4l-4.0 -0.6M115.8 399.1L101.9 416.1M101.9 416.1l-7.8 -1.6M103.7 413.9l-3.9 -0.8M90.6 400.2L75.8 416.5M75.8 416.5l-7.8 -2.0M77.7 414.3l-3.9 -1.0M65.0 401.0L49.7 416.9M49.7 416.9l-7.7 -2.2M51.7 414.8l-3.8 -1.1M243.9 395.5L232.4 414.3M232.4 414.3l-8.0 -0.5M233.9 411.8l-8.0 -0.5M269.4 394.8L258.5 413.9M258.5 413.9l-8.0 -0.2M259.9 411.4l-8.0 -0.2M294.6 393.9L284.6 413.5M284.6 413.5l-8.0 0.1M285.9 410.9l-8.0 0.1M319.4 393.0L310.6 413.1M310.6 413.1l-8.0 0.6M311.8 410.5l-4.0 0.3M344.1 392.1L336.6 412.8M336.6 412.8l-7.9 1.1M337.6 410.0l-4.0 0.6M370.1 391.7L362.6 412.4M362.6 412.4l-7.9 1.1M363.6 409.7l-4.0 0.6M396.2 391.4L388.5 412.0M388.5 412.0l-7.9 1.0M422.3 391.2L414.3 411.7M414.3 411.7l-7.9 0.9M448.7 391.0L440.2 411.3M440.2 411.3l-8.0 0.7M474.9 390.8L465.9 410.9M465.9 410.9l-8.0 0.5M501.4 390.8L491.7 410.5M491.7 410.5l-8.0 0.3M528.0 390.9L517.4 410.2M517.4 410.2l-8.0 -0.1M554.5 391.1L543.0 409.8M543.0 409.8l-8.0 -0.5M581.3 391.5L568.6 409.4M568.6 409.4l-7.9 -1.0M608.2 392.2L594.1 409.1M594.1 409.1l-7.8 -1.6M635.0 393.0L619.7 408.7M619.7 408.7l-7.7 -2.3M662.9 395.4L645.2 408.4M645.2 408.4l-7.2 -3.5M690.3 398.2L670.7 408.0M670.7 408.0l-6.5 -4.6M717.1 400.9L696.2 407.6M696.2 407.6l-5.7 -5.6M743.2 402.9L721.7 407.3M721.7 407.3l-5.1 -6.2M769.1 405.0L747.2 406.9M747.2 406.9l-4.3 -6.7M794.6 404.8L772.7 406.5M772.7 406.5l-4.3 -6.7M819.8 402.0L798.2 406.2M798.2 406.2l-5.0 -6.2M844.6 399.2L823.7 405.8M823.7 405.8l-5.7 -5.6M871.1 403.4L849.2 405.4M849.2 405.4l-4.4 -6.7M895.9 410.7L874.7 405.1M877.5 405.8l-0.9 -3.9M918.6 416.7L900.2 404.7M902.6 406.3l0.3 -4.0M942.8 418.2L925.7 404.3M927.9 406.2l0.8 -3.9M966.7 419.6L951.2 404.0M953.2 406.0l1.2 -3.8M991.6 419.8L976.7 403.6M978.6 405.7l1.3 -3.8M233.1 418.1L221.0 436.5M221.0 436.5l-8.0 -0.7M222.6 434.1l-8.0 -0.7M207.5 418.8L194.9 436.8M194.9 436.8l-7.9 -1.0M196.6 434.5l-7.9 -1.0M181.7 419.3L168.8 437.1M168.8 437.1l-7.9 -1.1M170.5 434.8l-7.9 -1.1M155.8 419.7L142.7 437.4M142.7 437.4l-7.9 -1.2M144.4 435.1l-4.0 -0.6M130.2 420.5L116.6 437.7M116.6 437.7l-7.9 -1.4M118.4 435.4l-3.9 -0.7M104.9 421.4L90.5 438.0M90.5 438.0l-7.8 -1.8M92.4 435.8l-3.9 -0.9M79.6 422.4L64.4 438.3M64.4 438.3l-7.7 -2.1M66.4 436.2l-3.9 -1.1M258.6 417.5L247.1 436.2M247.1 436.2l-8.0 -0.5M248.6 433.8l-8.0 -0.5M284.1 416.8L273.2 435.9M273.2 435.9l-8.0 -0.2M274.6 433.4l-8.0 -0.2M309.4 416.1L299.3 435.6M299.3 435.6l-8.0 0.1M300.6 433.1l-8.0 0.1M334.7 415.4L325.3 435.3M325.3 435.3l-8.0 0.4M326.5 432.7l-4.0 0.2M360.2 415.0L351.2 435.0M351.2 435.0l-8.0 0.5M352.4 432.4l-4.0 0.3M386.2 414.7L377.2 434.7M377.2 434.7l-8.0 0.5M412.1 414.4L403.1 434.5M403.1 434.5l-8.0 0.5M438.0 414.1L428.9 434.2M428.9 434.2l-8.0 0.5M463.9 413.9L454.7 433.9M454.7 433.9l-8.0 0.5M489.7 413.6L480.4 433.6M480.4 433.6l-8.0 0.4M515.9 413.6L506.1 433.3M506.1 433.3l-8.0 0.2M542.1 413.5L531.8 433.0M531.8 433.0l-8.0 0.0M568.4 413.6L557.4 432.7M557.4 432.7l-8.0 -0.3M594.9 413.9L583.0 432.4M583.0 432.4l-8.0 -0.7M621.5 414.3L608.5 432.1M608.5 432.1l-7.9 -1.1M649.2 415.9L634.0 431.8M634.0 431.8l-7.7 -2.1M677.6 419.0L659.5 431.5M659.5 431.5l-7.1 -3.7M705.2 422.5L685.0 431.2M685.0 431.2l-6.3 -5.0M731.9 425.5L710.5 430.9M710.5 430.9l-5.4 -5.9M757.9 428.7L736.0 430.6M736.0 430.6l-4.4 -6.7M783.5 431.5L761.5 430.4M761.5 430.4l-3.4 -7.2M809.0 430.5L787.0 430.1M787.0 430.1l-3.6 -7.1M834.5 429.5L812.5 429.8M815.4 429.7l-1.9 -3.5M860.0 430.4L838.0 429.5M840.9 429.6l-1.7 -3.6M884.5 435.7L863.5 429.2M866.3 430.0l-0.8 -3.9M907.7 440.5L889.0 428.9M891.5 430.4l0.3 -4.0M931.7 442.4L914.5 428.6M916.8 430.4l0.8 -3.9M956.7 442.7L940.0 428.3M942.2 430.2l0.9 -3.9M981.8 442.9L965.5 428.0M967.7 430.0l1.0 -3.9M1007.3 442.6L991.0 427.7M993.2 429.7l1.0 -3.9M216.7 441.6L204.2 459.7M204.2 459.7l-7.9 -0.9M205.9 457.3l-7.9 -0.9M190.9 442.0L178.1 459.9M178.1 459.9l-7.9 -1.1M179.8 457.6l-7.9 -1.1M165.0 442.4L152.0 460.1M152.0 460.1l-7.9 -1.2M153.7 457.8l-7.9 -1.2M139.3 442.9L125.9 460.4M125.9 460.4l-7.9 -1.3M127.7 458.1l-3.9 -0.7M113.9 443.7L99.8 460.6M99.8 460.6l-7.8 -1.6M101.7 458.4l-3.9 -0.8M88.5 444.5L73.7 460.8M73.7 460.8l-7.8 -2.0M75.7 458.7l-3.9 -1.0M62.8 445.1L47.6 461.0M47.6 461.0l-7.7 -2.1M49.6 458.9l-3.9 -1.1M242.4 441.1L230.3 459.5M230.3 459.5l-8.0 -0.7M231.9 457.0l-8.0 -0.7M268.0 440.6L256.4 459.2M256.4 459.2l-8.0 -0.5M257.9 456.8l-8.0 -0.5M293.6 440.0L282.5 459.0M282.5 459.0l-8.0 -0.3M284.0 456.5l-8.0 -0.3M319.1 439.5L308.5 458.8M308.5 458.8l-8.0 -0.1M309.9 456.3l-8.0 -0.1M344.6 439.0L334.5 458.6M334.5 458.6l-8.0 0.1M335.9 456.0l-4.0 0.1M370.4 438.7L360.5 458.4M360.5 458.4l-8.0 0.2M361.8 455.8l-4.0 0.1M396.3 438.5L386.4 458.1M386.4 458.1l-8.0 0.2M387.7 455.5l-4.0 0.1M422.2 438.3L412.3 457.9M412.3 457.9l-8.0 0.2M447.9 438.0L438.1 457.7M438.1 457.7l-8.0 0.2M473.6 437.7L463.9 457.5M463.9 457.5l-8.0 0.3M499.4 437.5L489.6 457.2M489.6 457.2l-8.0 0.2M525.4 437.5L515.3 457.0M515.3 457.0l-8.0 0.1M551.4 437.4L540.9 456.8M540.9 456.8l-8.0 -0.0M577.6 437.6L566.5 456.6M566.5 456.6l-8.0 -0.3M603.9 437.8L592.1 456.4M592.1 456.4l-8.0 -0.6M630.2 438.1L617.6 456.1M617.6 456.1l-7.9 -0.9M658.5 440.2L643.1 455.9M643.1 455.9l-7.7 -2.3M686.7 443.1L668.6 455.7M668.6 455.7l-7.1 -3.7M714.1 446.4L694.1 455.5M694.1 455.5l-6.3 -4.9M740.9 449.6L719.6 455.3M719.6 455.3l-5.4 -5.9M767.0 453.1L745.1 455.1M745.1 455.1l-4.4 -6.7M792.6 455.4L770.6 454.8M770.6 454.8l-3.6 -7.2M818.1 456.1L796.1 454.6M796.1 454.6l-3.3 -7.3M843.5 456.8L821.6 454.4M824.5 454.7l-1.5 -3.7M868.5 459.3L847.1 454.2M849.9 454.9l-1.0 -3.9M892.8 462.8L872.6 454.0M875.3 455.1l-0.3 -4.0M916.4 466.0L898.1 453.7M900.5 455.4l0.4 -4.0M941.6 466.2L923.6 453.5M926.0 455.2l0.5 -4.0M967.0 466.2L949.1 453.3M951.5 455.0l0.5 -4.0M992.4 466.0L974.6 453.1M976.9 454.8l0.6 -4.0M229.7 464.0L217.3 482.2M217.3 482.2l-8.0 -0.9M218.9 479.8l-8.0 -0.9M203.9 464.4L191.2 482.3M191.2 482.3l-7.9 -1.0M192.9 480.0l-7.9 -1.0M178.0 464.7L165.1 482.5M165.1 482.5l-7.9 -1.1M166.8 480.1l-7.9 -1.1M152.2 465.0L139.0 482.6M139.0 482.6l-7.9 -1.2M140.7 480.3l-7.9 -1.2M126.6 465.6L112.9 482.8M112.9 482.8l-7.9 -1.5M114.7 480.5l-7.9 -1.5M101.2 466.3L86.8 482.9M86.8 482.9l-7.8 -1.8M88.7 480.7l-3.9 -0.9M75.7 467.0L60.7 483.1M60.7 483.1l-7.7 -2.1M62.7 481.0l-3.9 -1.0M255.5 463.7L243.4 482.0M243.4 482.0l-8.0 -0.8M245.0 479.6l-8.0 -0.8M281.3 463.3L269.5 481.9M269.5 481.9l-8.0 -0.6M271.1 479.4l-8.0 -0.6M307.0 462.9L295.6 481.7M295.6 481.7l-8.0 -0.5M297.1 479.3l-8.0 -0.5M332.6 462.5L321.6 481.6M321.6 481.6l-8.0 -0.3M323.0 479.1l-8.0 -0.3M358.3 462.2L347.6 481.4M347.6 481.4l-8.0 -0.2M349.0 478.9l-8.0 -0.2M384.2 462.1L373.5 481.3M373.5 481.3l-8.0 -0.2M374.9 478.8l-4.0 -0.1M410.1 461.9L399.4 481.1M399.4 481.1l-8.0 -0.2M400.8 478.6l-4.0 -0.1M435.8 461.7L425.2 481.0M425.2 481.0l-8.0 -0.1M426.6 478.5l-4.0 -0.1M461.4 461.4L451.0 480.9M451.0 480.9l-8.0 -0.0M486.9 461.2L476.8 480.7M476.8 480.7l-8.0 0.1M512.9 461.2L502.5 480.6M502.5 480.6l-8.0 -0.0M538.8 461.2L528.2 480.4M528.2 480.4l-8.0 -0.1M564.8 461.2L553.8 480.3M553.8 480.3l-8.0 -0.3M591.0 461.4L579.4 480.1M579.4 480.1l-8.0 -0.5M617.2 461.7L604.9 480.0M604.9 480.0l-8.0 -0.8M644.0 462.6L630.4 479.8M630.4 479.8l-7.9 -1.4M671.9 464.6L655.9 479.7M655.9 479.7l-7.6 -2.6M699.4 466.9L681.4 479.5M681.4 479.5l-7.1 -3.6M726.6 469.7L706.9 479.4M706.9 479.4l-6.5 -4.7M753.5 472.9L732.4 479.2M732.4 479.2l-5.6 -5.7M779.7 476.2L757.9 479.1M757.9 479.1l-4.6 -6.5M805.4 478.6L783.4 479.0M783.4 479.0l-3.9 -7.0M830.8 480.8L808.9 478.8M808.9 478.8l-3.1 -7.4M856.0 483.0L834.4 478.7M834.4 478.7l-2.3 -7.7M881.0 484.7L859.9 478.5M859.9 478.5l-1.6 -7.8M905.9 486.5L885.4 478.4M885.4 478.4l-0.9 -8.0M930.8 487.7L910.9 478.2M910.9 478.2l-0.4 -8.0M956.0 488.1L936.4 478.1M939.0 479.4l-0.1 -4.0M981.2 488.5L961.9 477.9M964.4 479.3l0.0 -4.0M1006.7 488.3L987.4 477.8M989.9 479.2l0.0 -4.0M242.7 487.3L230.4 505.6M230.4 505.6l-8.0 -0.8M232.0 503.2l-8.0 -0.8M216.8 487.5L204.3 505.6M204.3 505.6l-7.9 -0.9M205.9 503.2l-7.9 -0.9M190.9 487.7L178.2 505.7M178.2 505.7l-7.9 -1.0M179.9 503.3l-7.9 -1.0M165.0 487.9L152.1 505.8M152.1 505.8l-7.9 -1.1M153.8 503.4l-7.9 -1.1M139.1 488.2L126.0 505.9M126.0 505.9l-7.9 -1.2M127.7 503.5l-7.9 -1.2M113.7 488.8L99.9 505.9M99.9 505.9l-7.9 -1.5M101.7 503.7l-7.9 -1.5M88.2 489.4L73.8 506.0M73.8 506.0l-7.8 -1.8M75.7 503.8l-3.9 -0.9M62.4 489.7L47.7 506.1M47.7 506.1l-7.8 -1.9M49.6 503.9l-3.9 -1.0M268.6 487.1L256.5 505.5M256.5 505.5l-8.0 -0.7M258.1 503.1l-8.0 -0.7M294.4 486.9L282.6 505.4M282.6 505.4l-8.0 -0.6M284.2 503.0l-8.0 -0.6M320.2 486.6L308.6 505.3M308.6 505.3l-8.0 -0.5M310.2 502.9l-8.0 -0.5M345.9 486.4L334.6 505.3M334.6 505.3l-8.0 -0.4M336.1 502.8l-8.0 -0.4M371.8 486.2L360.6 505.2M360.6 505.2l-8.0 -0.4M362.1 502.7l-8.0 -0.4M397.7 486.2L386.5 505.1M386.5 505.1l-8.0 -0.4M388.0 502.6l-4.0 -0.2M423.5 486.1L412.4 505.0M412.4 505.0l-8.0 -0.4M413.8 502.5l-4.0 -0.2M449.1 485.9L438.2 505.0M438.2 505.0l-8.0 -0.3M439.6 502.4l-4.0 -0.1M474.6 485.7L464.0 504.9M464.0 504.9l-8.0 -0.1M500.3 485.5L489.7 504.8M489.7 504.8l-8.0 -0.1M526.2 485.6L515.4 504.7M515.4 504.7l-8.0 -0.2M552.0 485.6L541.0 504.7M541.0 504.7l-8.0 -0.3M578.0 485.8L566.6 504.6M566.6 504.6l-8.0 -0.4M604.2 486.1L592.2 504.5M592.2 504.5l-8.0 -0.7M630.3 486.4L617.7 504.4M617.7 504.4l-7.9 -1.0M657.5 487.7L643.2 504.4M643.2 504.4l-7.8 -1.8M684.8 489.3L668.7 504.3M668.7 504.3l-7.6 -2.6M711.9 491.2L694.2 504.2M694.2 504.2l-7.2 -3.5M739.3 494.1L719.7 504.2M719.7 504.2l-6.6 -4.6M766.1 497.3L745.2 504.1M745.2 504.1l-5.8 -5.6M792.4 500.5L770.7 504.0M770.7 504.0l-4.8 -6.4M818.2 503.9L796.2 503.9M796.2 503.9l-3.8 -7.0M843.5 507.2L821.7 503.9M821.7 503.9l-2.7 -7.5M868.6 508.9L847.2 503.8M847.2 503.8l-2.0 -7.7M893.8 510.0L872.7 503.7M872.7 503.7l-1.6 -7.8M918.9 511.1L898.2 503.6M898.2 503.6l-1.1 -7.9M944.2 511.6L923.7 503.6M923.7 503.6l-0.9 -7.9M969.5 512.1L949.2 503.5M951.9 504.6l-0.3 -4.0M994.9 512.3L974.7 503.4M977.4 504.6l-0.3 -4.0M234.0 510.6L221.7 528.8M221.7 528.8l-8.0 -0.8M223.3 526.4l-8.0 -0.8M224.9 524.0l-4.0 -0.4M208.0 510.7L195.6 528.9M195.6 528.9l-8.0 -0.9M197.2 526.5l-8.0 -0.9M198.9 524.1l-4.0 -0.4M182.0 510.8L169.5 528.9M169.5 528.9l-7.9 -0.9M171.2 526.5l-7.9 -0.9M156.1 511.0L143.4 529.0M143.4 529.0l-7.9 -1.0M145.1 526.6l-7.9 -1.0M130.4 511.3L117.3 529.0M117.3 529.0l-7.9 -1.2M119.0 526.7l-7.9 -1.2M104.8 511.8L91.2 529.0M91.2 529.0l-7.9 -1.4M93.0 526.8l-7.9 -1.4M79.3 512.3L65.1 529.1M65.1 529.1l-7.8 -1.7M67.0 526.9l-7.8 -1.7M259.9 510.4L247.8 528.8M247.8 528.8l-8.0 -0.8M249.4 526.4l-8.0 -0.8M251.0 524.0l-4.0 -0.4M285.9 510.3L273.9 528.8M273.9 528.8l-8.0 -0.7M275.5 526.3l-8.0 -0.7M277.1 523.9l-4.0 -0.3M311.7 510.1L300.0 528.7M300.0 528.7l-8.0 -0.6M301.5 526.3l-8.0 -0.6M337.6 510.0L326.0 528.7M326.0 528.7l-8.0 -0.5M327.5 526.2l-8.0 -0.5M363.5 509.9L351.9 528.7M351.9 528.7l-8.0 -0.5M353.5 526.2l-8.0 -0.5M389.4 509.9L377.9 528.6M377.9 528.6l-8.0 -0.5M379.4 526.1l-4.0 -0.2M415.3 509.8L403.7 528.6M403.7 528.6l-8.0 -0.5M405.3 526.1l-4.0 -0.2M440.9 509.7L429.6 528.5M429.6 528.5l-8.0 -0.4M431.1 526.1l-4.0 -0.2M466.5 509.5L455.4 528.5M455.4 528.5l-8.0 -0.3M456.8 526.0l-4.0 -0.2M492.0 509.3L481.1 528.5M481.1 528.5l-8.0 -0.2M482.6 525.9l-4.0 -0.1M517.7 509.3L506.8 528.4M506.8 528.4l-8.0 -0.2M543.5 509.3L532.5 528.4M532.5 528.4l-8.0 -0.3M569.3 509.4L558.1 528.4M558.1 528.4l-8.0 -0.4M595.5 509.7L583.7 528.3M583.7 528.3l-8.0 -0.6M621.6 510.1L609.2 528.3M609.2 528.3l-8.0 -0.9M648.1 510.8L634.7 528.3M634.7 528.3l-7.9 -1.3M675.0 511.9L660.2 528.2M660.2 528.2l-7.8 -1.9M701.7 513.1L685.7 528.2M685.7 528.2l-7.6 -2.6M729.2 515.5L711.2 528.1M711.2 528.1l-7.1 -3.6M756.5 518.5L736.7 528.1M736.7 528.1l-6.5 -4.7M783.3 521.7L762.2 528.1M762.2 528.1l-5.6 -5.7M809.6 525.5L787.7 528.0M787.7 528.0l-4.5 -6.6M835.2 529.5L813.2 528.0M813.2 528.0l-3.3 -7.3M860.3 532.4L838.7 528.0M838.7 528.0l-2.3 -7.7M885.4 533.7L864.2 527.9M864.2 527.9l-1.8 -7.8M910.6 534.9L889.7 527.9M889.7 527.9l-1.3 -7.9M935.8 535.5L915.2 527.8M915.2 527.8l-1.1 -7.9M961.3 535.6L940.7 527.8M940.7 527.8l-1.0 -7.9M986.7 535.7L966.2 527.8M966.2 527.8l-0.9 -7.9M1012.2 535.7L991.7 527.7M991.7 527.7l-0.9 -7.9M217.1 534.4L204.9 552.7M204.9 552.7l-8.0 -0.8M206.5 550.3l-8.0 -0.8M208.1 547.9l-4.0 -0.4M191.1 534.5L178.8 552.7M178.8 552.7l-8.0 -0.8M180.4 550.3l-8.0 -0.8M182.0 547.9l-4.0 -0.4M165.1 534.6L152.7 552.7M152.7 552.7l-7.9 -0.9M154.3 550.3l-7.9 -0.9M139.2 534.7L126.6 552.7M126.6 552.7l-7.9 -1.0M128.3 550.3l-7.9 -1.0M113.6 535.0L100.5 552.7M100.5 552.7l-7.9 -1.2M102.2 550.4l-7.9 -1.2M87.9 535.3L74.4 552.7M74.4 552.7l-7.9 -1.4M76.2 550.4l-7.9 -1.4M62.1 535.5L48.3 552.7M48.3 552.7l-7.9 -1.5M50.1 550.4l-7.9 -1.5M243.1 534.3L231.0 552.7M231.0 552.7l-8.0 -0.8M232.6 550.3l-8.0 -0.8M234.2 547.9l-4.0 -0.4M269.1 534.3L257.1 552.7M257.1 552.7l-8.0 -0.7M258.7 550.3l-8.0 -0.7M260.3 547.8l-4.0 -0.4M295.1 534.2L283.2 552.7M283.2 552.7l-8.0 -0.7M284.8 550.3l-8.0 -0.7M286.3 547.8l-4.0 -0.3M321.0 534.1L309.2 552.7M309.2 552.7l-8.0 -0.6M310.8 550.3l-8.0 -0.6M312.3 547.8l-4.0 -0.3M346.9 534.1L335.2 552.7M335.2 552.7l-8.0 -0.6M336.8 550.2l-8.0 -0.6M372.8 534.0L361.2 552.7M361.2 552.7l-8.0 -0.6M362.7 550.2l-8.0 -0.6M398.8 534.0L387.1 552.7M387.1 552.7l-8.0 -0.6M388.6 550.2l-4.0 -0.3M424.6 534.0L413.0 552.7M413.0 552.7l-8.0 -0.5M414.5 550.2l-4.0 -0.3M450.2 533.9L438.8 552.7M438.8 552.7l-8.0 -0.5M440.3 550.2l-4.0 -0.2M475.8 533.8L464.6 552.7M464.6 552.7l-8.0 -0.4M466.0 550.2l-4.0 -0.2M501.5 533.7L490.3 552.7M490.3 552.7l-8.0 -0.4M491.8 550.2l-4.0 -0.2M527.1 533.7L516.0 552.7M516.0 552.7l-8.0 -0.4M552.8 533.7L541.6 552.7M541.6 552.7l-8.0 -0.4M578.8 534.0L567.2 552.7M567.2 552.7l-8.0 -0.5M604.8 534.3L592.8 552.7M592.8 552.7l-8.0 -0.7M630.9 534.7L618.3 552.7M618.3 552.7l-7.9 -1.0M657.3 535.4L643.8 552.7M643.8 552.7l-7.9 -1.4M683.8 536.1L669.3 552.7M669.3 552.7l-7.8 -1.8M710.4 537.2L694.8 552.7M694.8 552.7l-7.6 -2.4M738.0 539.6L720.3 552.7M720.3 552.7l-7.2 -3.4M765.2 542.3L745.8 552.7M745.8 552.7l-6.7 -4.4M792.1 545.5L771.3 552.7M771.3 552.7l-5.9 -5.4M818.6 549.6L796.8 552.7M796.8 552.7l-4.7 -6.5M844.3 553.9L822.3 552.7M822.3 552.7l-3.4 -7.3M869.5 556.3L847.8 552.7M847.8 552.7l-2.6 -7.6M894.6 558.0L873.3 552.7M873.3 552.7l-1.9 -7.8M919.6 559.7L898.8 552.7M898.8 552.7l-1.3 -7.9M945.1 559.8L924.3 552.7M924.3 552.7l-1.3 -7.9M970.6 559.8L949.8 552.7M949.8 552.7l-1.3 -7.9M996.1 559.8L975.3 552.7M975.3 552.7l-1.3 -7.9M230.2 557.0L218.1 575.4M218.1 575.4l-8.0 -0.7M219.7 573.0l-8.0 -0.7M221.3 570.6l-4.0 -0.4M204.1 557.0L192.0 575.3M192.0 575.3l-8.0 -0.8M193.6 572.9l-8.0 -0.8M195.2 570.5l-4.0 -0.4M178.1 557.0L165.9 575.3M165.9 575.3l-8.0 -0.8M167.5 572.8l-8.0 -0.8M169.1 570.4l-4.0 -0.4M152.2 557.0L139.8 575.2M139.8 575.2l-8.0 -0.9M141.4 572.8l-8.0 -0.9M143.1 570.4l-4.0 -0.4M126.3 557.0L113.7 575.1M113.7 575.1l-7.9 -0.9M115.4 572.7l-7.9 -0.9M117.0 570.3l-4.0 -0.5M100.4 557.2L87.6 575.0M87.6 575.0l-7.9 -1.1M89.3 572.7l-7.9 -1.1M91.0 570.3l-4.0 -0.5M74.6 557.3L61.5 575.0M61.5 575.0l-7.9 -1.2M63.2 572.6l-7.9 -1.2M64.9 570.3l-4.0 -0.6M256.2 557.1L244.2 575.5M244.2 575.5l-8.0 -0.7M245.8 573.1l-8.0 -0.7M247.4 570.6l-4.0 -0.4M282.3 557.1L270.3 575.6M270.3 575.6l-8.0 -0.7M271.9 573.1l-8.0 -0.7M273.5 570.7l-4.0 -0.3M308.2 557.1L296.4 575.6M296.4 575.6l-8.0 -0.6M297.9 573.2l-8.0 -0.6M299.5 570.7l-4.0 -0.3M334.1 557.1L322.4 575.7M322.4 575.7l-8.0 -0.6M323.9 573.3l-8.0 -0.6M325.5 570.8l-4.0 -0.3M360.0 557.1L348.4 575.8M348.4 575.8l-8.0 -0.6M349.9 573.3l-8.0 -0.6M351.4 570.9l-4.0 -0.3M386.0 557.2L374.3 575.9M374.3 575.9l-8.0 -0.6M375.8 573.4l-8.0 -0.6M411.8 557.3L400.2 575.9M400.2 575.9l-8.0 -0.6M401.7 573.5l-4.0 -0.3M437.6 557.3L426.0 576.0M426.0 576.0l-8.0 -0.5M427.6 573.5l-4.0 -0.3M463.4 557.4L451.8 576.1M451.8 576.1l-8.0 -0.5M453.3 573.6l-4.0 -0.3M489.1 557.4L477.6 576.2M477.6 576.2l-8.0 -0.5M479.1 573.7l-4.0 -0.2M514.8 557.5L503.3 576.2M503.3 576.2l-8.0 -0.5M504.8 573.7l-4.0 -0.2M540.4 557.5L529.0 576.3M529.0 576.3l-8.0 -0.5M566.1 557.6L554.6 576.4M554.6 576.4l-8.0 -0.5M592.1 558.0L580.2 576.4M580.2 576.4l-8.0 -0.7M618.1 558.3L605.7 576.5M605.7 576.5l-8.0 -0.9M644.1 558.8L631.2 576.6M631.2 576.6l-7.9 -1.1M670.3 559.4L656.7 576.7M656.7 576.7l-7.9 -1.4M696.5 560.0L682.2 576.7M682.2 576.7l-7.8 -1.7M723.4 561.4L707.7 576.8M707.7 576.8l-7.6 -2.4M750.6 563.4L733.2 576.9M733.2 576.9l-7.3 -3.3M777.5 565.5L758.7 577.0M758.7 577.0l-6.9 -4.1M804.7 569.2L784.2 577.0M784.2 577.0l-6.0 -5.3M831.4 573.4L809.7 577.1M809.7 577.1l-4.9 -6.3M857.2 577.2L835.2 577.2M835.2 577.2l-3.7 -7.1M882.5 579.7L860.7 577.2M860.7 577.2l-2.9 -7.4M907.6 582.2L886.2 577.3M886.2 577.3l-2.1 -7.7M932.8 583.6L911.7 577.4M911.7 577.4l-1.6 -7.8M958.3 583.6L937.2 577.5M937.2 577.5l-1.6 -7.8M983.8 583.7L962.7 577.5M962.7 577.5l-1.6 -7.8M1009.3 583.8L988.2 577.6M988.2 577.6l-1.6 -7.8M243.2 580.0L231.2 598.4M231.2 598.4l-8.0 -0.7M232.8 596.0l-8.0 -0.7M234.4 593.6l-4.0 -0.3M217.1 579.9L205.1 598.4M205.1 598.4l-8.0 -0.7M206.7 595.9l-8.0 -0.7M208.3 593.5l-4.0 -0.3M191.1 579.9L179.0 598.3M179.0 598.3l-8.0 -0.7M180.6 595.9l-8.0 -0.7M182.2 593.4l-4.0 -0.4M165.1 579.9L152.9 598.2M152.9 598.2l-8.0 -0.8M154.5 595.8l-8.0 -0.8M156.1 593.4l-4.0 -0.4M139.1 579.9L126.8 598.1M126.8 598.1l-8.0 -0.8M128.4 595.7l-8.0 -0.8M130.0 593.3l-4.0 -0.4M113.1 579.9L100.7 598.1M100.7 598.1l-7.9 -0.9M102.3 595.7l-7.9 -0.9M104.0 593.3l-4.0 -0.4M87.2 579.9L74.6 598.0M74.6 598.0l-7.9 -0.9M76.3 595.6l-7.9 -0.9M77.9 593.2l-4.0 -0.5M61.1 579.9L48.5 597.9M48.5 597.9l-7.9 -1.0M50.2 595.5l-7.9 -1.0M51.8 593.2l-4.0 -0.5M269.3 580.1L257.3 598.5M257.3 598.5l-8.0 -0.7M258.9 596.1l-8.0 -0.7M260.5 593.7l-4.0 -0.3M295.3 580.1L283.4 598.6M283.4 598.6l-8.0 -0.7M285.0 596.2l-8.0 -0.7M286.5 593.7l-4.0 -0.3M321.2 580.1L309.4 598.7M309.4 598.7l-8.0 -0.6M311.0 596.2l-8.0 -0.6M312.5 593.8l-4.0 -0.3M347.1 580.1L335.4 598.7M335.4 598.7l-8.0 -0.6M337.0 596.3l-8.0 -0.6M338.5 593.8l-4.0 -0.3M373.0 580.2L361.4 598.8M361.4 598.8l-8.0 -0.6M362.9 596.4l-8.0 -0.6M398.9 580.2L387.3 598.9M387.3 598.9l-8.0 -0.6M388.8 596.4l-8.0 -0.6M424.8 580.3L413.2 599.0M413.2 599.0l-8.0 -0.6M414.7 596.5l-4.0 -0.3M450.6 580.4L439.0 599.0M439.0 599.0l-8.0 -0.6M440.5 596.6l-4.0 -0.3M476.4 580.5L464.8 599.1M464.8 599.1l-8.0 -0.6M466.3 596.7l-4.0 -0.3M502.2 580.5L490.5 599.2M490.5 599.2l-8.0 -0.6M492.0 596.7l-4.0 -0.3M527.9 580.6L516.2 599.3M516.2 599.3l-8.0 -0.6M553.5 580.7L541.8 599.3M541.8 599.3l-8.0 -0.6M579.4 581.0L567.4 599.4M567.4 599.4l-8.0 -0.7M605.4 581.3L593.0 599.5M593.0 599.5l-8.0 -0.9M631.3 581.6L618.5 599.6M618.5 599.6l-7.9 -1.0M657.3 582.1L644.0 599.6M644.0 599.6l-7.9 -1.3M683.3 582.6L669.5 599.7M669.5 599.7l-7.9 -1.5M709.5 583.3L695.0 599.8M695.0 599.8l-7.8 -1.9M736.5 584.8L720.5 599.8M720.5 599.8l-7.6 -2.6M763.3 586.4L746.0 599.9M746.0 599.9l-7.3 -3.3M790.6 589.0L771.5 600.0M771.5 600.0l-6.8 -4.2M817.9 593.2L797.0 600.1M797.0 600.1l-5.8 -5.5M844.4 597.7L822.5 600.1M822.5 600.1l-4.5 -6.6M870.0 600.8L848.0 600.2M848.0 600.2l-3.6 -7.2M895.3 603.4L873.5 600.3M873.5 600.3l-2.7 -7.5M920.3 606.0L899.0 600.4M899.0 600.4l-1.8 -7.8M945.7 606.1L924.5 600.4M924.5 600.4l-1.8 -7.8M971.2 606.2L950.0 600.5M950.0 600.5l-1.8 -7.8M996.7 606.3L975.5 600.6M975.5 600.6l-1.8 -7.8M256.3 603.0L244.3 621.5M244.3 621.5l-8.0 -0.7M245.9 619.1l-8.0 -0.7M247.5 616.6l-4.0 -0.3M230.2 603.0L218.2 621.4M218.2 621.4l-8.0 -0.7M219.8 619.0l-8.0 -0.7M221.4 616.5l-4.0 -0.3M204.1 602.9L192.1 621.3M192.1 621.3l-8.0 -0.7M193.7 618.9l-8.0 -0.7M195.3 616.5l-4.0 -0.4M178.1 602.9L166.0 621.3M166.0 621.3l-8.0 -0.8M167.6 618.8l-8.0 -0.8M169.2 616.4l-4.0 -0.4M152.2 602.9L139.9 621.2M139.9 621.2l-8.0 -0.8M141.5 618.8l-8.0 -0.8M143.1 616.4l-4.0 -0.4M126.2 602.9L113.8 621.1M113.8 621.1l-8.0 -0.9M115.4 618.7l-8.0 -0.9M117.1 616.3l-4.0 -0.4M100.2 602.9L87.7 621.0M87.7 621.0l-7.9 -0.9M89.3 618.6l-7.9 -0.9M91.0 616.3l-4.0 -0.5M74.2 602.9L61.6 621.0M61.6 621.0l-7.9 -1.0M63.3 618.6l-7.9 -1.0M64.9 616.2l-4.0 -0.5M282.4 603.1L270.4 621.6M270.4 621.6l-8.0 -0.7M272.0 619.1l-8.0 -0.7M273.6 616.7l-4.0 -0.3M308.3 603.1L296.5 621.6M296.5 621.6l-8.0 -0.6M298.0 619.2l-8.0 -0.6M299.6 616.7l-4.0 -0.3M334.2 603.1L322.5 621.7M322.5 621.7l-8.0 -0.6M324.0 619.3l-8.0 -0.6M325.6 616.8l-4.0 -0.3M360.1 603.1L348.5 621.8M348.5 621.8l-8.0 -0.6M350.0 619.3l-8.0 -0.6M351.5 616.9l-4.0 -0.3M386.1 603.2L374.4 621.9M374.4 621.9l-8.0 -0.6M375.9 619.4l-8.0 -0.6M411.9 603.3L400.3 621.9M400.3 621.9l-8.0 -0.6M401.8 619.5l-4.0 -0.3M437.8 603.3L426.1 622.0M426.1 622.0l-8.0 -0.6M427.7 619.5l-4.0 -0.3M463.6 603.4L451.9 622.1M451.9 622.1l-8.0 -0.6M453.5 619.6l-4.0 -0.3M489.3 603.5L477.7 622.2M477.7 622.2l-8.0 -0.6M479.2 619.7l-4.0 -0.3M515.1 603.6L503.4 622.2M503.4 622.2l-8.0 -0.6M504.9 619.8l-4.0 -0.3M540.9 603.7L529.0 622.3M529.0 622.3l-8.0 -0.6M566.6 603.9L554.7 622.4M554.7 622.4l-8.0 -0.7M592.7 604.3L580.2 622.4M580.2 622.4l-7.9 -0.9M618.7 604.7L605.8 622.5M605.8 622.5l-7.9 -1.1M644.7 605.2L631.3 622.6M631.3 622.6l-7.9 -1.3M670.7 605.6L656.8 622.7M656.8 622.7l-7.8 -1.6M696.7 606.1L682.3 622.7M682.3 622.7l-7.8 -1.8M723.3 607.2L707.8 622.8M707.8 622.8l-7.7 -2.3M750.1 608.7L733.3 622.9M733.3 622.9l-7.4 -3.0M776.8 610.3L758.8 623.0M758.8 623.0l-7.1 -3.6M804.6 614.6L784.3 623.0M784.3 623.0l-6.2 -5.1M831.5 619.7L809.8 623.1M809.8 623.1l-4.8 -6.4M857.3 624.2L835.3 623.2M835.3 623.2l-3.4 -7.2M882.6 626.1L860.8 623.2M860.8 623.2l-2.8 -7.5M907.8 628.0L886.3 623.3M886.3 623.3l-2.2 -7.7M933.0 629.1L911.8 623.4M911.8 623.4l-1.8 -7.8M958.5 629.2L937.3 623.5M937.3 623.5l-1.8 -7.8M984.0 629.2L962.8 623.5M962.8 623.5l-1.8 -7.8M1009.5 629.3L988.3 623.6M988.3 623.6l-1.8 -7.8M269.4 626.1L257.4 644.5M257.4 644.5l-8.0 -0.7M259.0 642.1l-8.0 -0.7M260.6 639.7l-4.0 -0.3M243.3 626.0L231.3 644.4M231.3 644.4l-8.0 -0.7M232.9 642.0l-8.0 -0.7M234.5 639.6l-4.0 -0.3M217.2 625.9L205.2 644.4M205.2 644.4l-8.0 -0.7M206.8 641.9l-8.0 -0.7M208.4 639.5l-4.0 -0.3M191.2 625.9L179.1 644.3M179.1 644.3l-8.0 -0.7M180.7 641.9l-8.0 -0.7M182.3 639.4l-4.0 -0.4M165.2 625.9L153.0 644.2M153.0 644.2l-8.0 -0.8M154.6 641.8l-8.0 -0.8M156.2 639.4l-4.0 -0.4M139.2 625.9L126.9 644.1M126.9 644.1l-8.0 -0.8M128.5 641.7l-8.0 -0.8M130.1 639.3l-4.0 -0.4M113.2 625.9L100.8 644.1M100.8 644.1l-7.9 -0.9M102.4 641.7l-7.9 -0.9M104.1 639.3l-4.0 -0.4M87.3 625.9L74.7 644.0M74.7 644.0l-7.9 -0.9M76.4 641.6l-7.9 -0.9M78.0 639.2l-4.0 -0.5M61.2 625.9L48.6 643.9M48.6 643.9l-7.9 -1.0M50.3 641.5l-7.9 -1.0M51.9 639.2l-4.0 -0.5M295.4 626.1L283.5 644.6M283.5 644.6l-8.0 -0.7M285.1 642.2l-8.0 -0.7M286.6 639.7l-4.0 -0.3M321.3 626.1L309.5 644.7M309.5 644.7l-8.0 -0.6M311.1 642.2l-8.0 -0.6M312.7 639.8l-4.0 -0.3M347.2 626.1L335.5 644.7M335.5 644.7l-8.0 -0.6M337.1 642.3l-8.0 -0.6M338.6 639.8l-4.0 -0.3M373.2 626.2L361.5 644.8M361.5 644.8l-8.0 -0.6M363.0 642.4l-8.0 -0.6M399.1 626.2L387.4 644.9M387.4 644.9l-8.0 -0.6M388.9 642.4l-8.0 -0.6M424.9 626.3L413.3 645.0M413.3 645.0l-8.0 -0.6M414.8 642.5l-4.0 -0.3M450.7 626.4L439.1 645.0M439.1 645.0l-8.0 -0.6M440.6 642.6l-4.0 -0.3M476.5 626.5L464.9 645.1M464.9 645.1l-8.0 -0.6M466.4 642.7l-4.0 -0.3M502.3 626.6L490.6 645.2M490.6 645.2l-8.0 -0.6M492.1 642.7l-4.0 -0.3M528.1 626.7L516.3 645.3M516.3 645.3l-8.0 -0.6M553.9 626.9L541.9 645.3M541.9 645.3l-8.0 -0.7M579.9 627.2L567.5 645.4M567.5 645.4l-8.0 -0.9M606.0 627.7L593.1 645.5M593.1 645.5l-7.9 -1.1M632.1 628.2L618.6 645.6M618.6 645.6l-7.9 -1.4M658.1 628.6L644.1 645.6M644.1 645.6l-7.8 -1.6M684.0 629.1L669.6 645.7M669.6 645.7l-7.8 -1.8M710.1 629.7L695.1 645.8M695.1 645.8l-7.7 -2.1M736.9 631.0L720.6 645.8M720.6 645.8l-7.5 -2.7M763.5 632.5L746.1 645.9M746.1 645.9l-7.3 -3.3M790.9 635.4L771.6 646.0M771.6 646.0l-6.7 -4.4M818.5 640.8L797.1 646.1M797.1 646.1l-5.3 -6.0M844.6 646.5L822.6 646.1M822.6 646.1l-3.6 -7.1M869.9 649.1L848.1 646.2M848.1 646.2l-2.8 -7.5M895.2 650.6L873.6 646.3M873.6 646.3l-2.3 -7.7M920.4 652.0L899.1 646.4M899.1 646.4l-1.8 -7.8M945.8 652.1L924.6 646.4M924.6 646.4l-1.8 -7.8M971.3 652.2L950.1 646.5M950.1 646.5l-1.8 -7.8M996.8 652.3L975.6 646.6M975.6 646.6l-1.8 -7.8M282.5 649.6L270.5 668.1M270.5 668.1l-8.0 -0.7M272.1 665.6l-8.0 -0.7M273.7 663.2l-4.0 -0.3M256.4 649.5L244.4 668.0M244.4 668.0l-8.0 -0.7M246.0 665.6l-8.0 -0.7M247.6 663.1l-4.0 -0.3M230.3 649.5L218.3 667.9M218.3 667.9l-8.0 -0.7M219.9 665.5l-8.0 -0.7M221.5 663.0l-4.0 -0.3M204.2 649.4L192.2 667.8M192.2 667.8l-8.0 -0.7M193.8 665.4l-8.0 -0.7M195.4 663.0l-4.0 -0.4M178.2 649.4L166.1 667.8M166.1 667.8l-8.0 -0.8M167.7 665.3l-8.0 -0.8M169.3 662.9l-4.0 -0.4M152.3 649.4L140.0 667.7M140.0 667.7l-8.0 -0.8M141.6 665.3l-8.0 -0.8M143.2 662.9l-4.0 -0.4M126.3 649.4L113.9 667.6M113.9 667.6l-8.0 -0.9M115.5 665.2l-8.0 -0.9M117.2 662.8l-4.0 -0.4M100.3 649.4L87.8 667.5M87.8 667.5l-7.9 -0.9M89.4 665.1l-7.9 -0.9M91.1 662.8l-4.0 -0.5M74.3 649.4L61.7 667.5M61.7 667.5l-7.9 -1.0M63.4 665.1l-7.9 -1.0M65.0 662.7l-4.0 -0.5M308.5 649.6L296.6 668.1M296.6 668.1l-8.0 -0.6M298.2 665.7l-8.0 -0.6M299.7 663.2l-4.0 -0.3M334.4 649.6L322.6 668.2M322.6 668.2l-8.0 -0.6M324.2 665.8l-8.0 -0.6M325.7 663.3l-4.0 -0.3M360.3 649.6L348.6 668.3M348.6 668.3l-8.0 -0.6M350.1 665.8l-8.0 -0.6M351.7 663.4l-4.0 -0.3M386.2 649.7L374.5 668.4M374.5 668.4l-8.0 -0.6M376.1 665.9l-8.0 -0.6M412.1 649.8L400.4 668.4M400.4 668.4l-8.0 -0.6M401.9 666.0l-4.0 -0.3M437.9 649.8L426.3 668.5M426.3 668.5l-8.0 -0.6M427.8 666.0l-4.0 -0.3M463.7 649.9L452.1 668.6M452.1 668.6l-8.0 -0.6M453.6 666.1l-4.0 -0.3M489.5 650.0L477.8 668.7M477.8 668.7l-8.0 -0.6M479.3 666.2l-4.0 -0.3M515.3 650.1L503.5 668.7M503.5 668.7l-8.0 -0.6M505.1 666.3l-4.0 -0.3M541.1 650.3L529.2 668.8M529.2 668.8l-8.0 -0.7M566.9 650.5L554.8 668.9M554.8 668.9l-8.0 -0.7M593.1 651.0L580.4 668.9M580.4 668.9l-7.9 -1.0M619.2 651.4L605.9 669.0M605.9 669.0l-7.9 -1.3M645.2 651.9L631.4 669.1M631.4 669.1l-7.9 -1.5M671.1 652.3L656.9 669.2M656.9 669.2l-7.8 -1.7M697.0 652.8L682.4 669.2M682.4 669.2l-7.8 -1.9M723.6 653.8L707.9 669.3M707.9 669.3l-7.6 -2.4M750.3 655.3L733.4 669.4M733.4 669.4l-7.4 -3.0M776.9 656.8L758.9 669.5M758.9 669.5l-7.1 -3.6M804.9 661.5L784.4 669.5M784.4 669.5l-6.1 -5.2M831.8 667.2L809.9 669.6M809.9 669.6l-4.5 -6.6M857.3 671.9L835.4 669.7M835.4 669.7l-3.0 -7.4M882.6 673.3L860.9 669.7M860.9 669.7l-2.5 -7.6M907.8 674.8L886.4 669.8M886.4 669.8l-2.1 -7.7M933.2 675.6L911.9 669.9M911.9 669.9l-1.8 -7.8M958.7 675.7L937.4 670.0M937.4 670.0l-1.8 -7.8M984.2 675.7L962.9 670.0M962.9 670.0l-1.8 -7.8M1009.7 675.8L988.4 670.1M988.4 670.1l-1.8 -7.8"/>
</g>
</g>
<text x="511.4" y="719.7" font-size="26.3" text-anchor="middle">U of A Dept of Hydrology and Atmospheric Sciences WRF-GFS 06Z</text>
<rect x="92.46" y="749.5" width="838.90" height="48.7" fill="none" stroke="#f4f4f4" stroke-width="1"/>
<rect x="92.96" y="750" width="24.34" height="47.7" fill="#3c0040"/><rect x="116.90" y="750" width="24.34" height="47.7" fill="#400080"/><rect x="140.84" y="750" width="24.34" height="47.7" fill="#3010c0"/><rect x="164.78" y="750" width="24.34" height="47.7" fill="#1820e0"/><rect x="188.72" y="750" width="24.34" height="47.7" fill="#0050ff"/><rect x="212.66" y="750" width="24.34" height="47.7" fill="#0070ff"/><rect x="236.60" y="750" width="24.34" height="47.7" fill="#0088ff"/><rect x="260.54" y="750" width="24.34" height="47.7" fill="#00a0ff"/><rect x="284.48" y="750" width="24.34" height="47.7" fill="#30b0ff"/><rect x="308.42" y="750" width="24.34" height="47.7" fill="#40c0ff"/><rect x="332.36" y="750" width="24.34" height="47.7" fill="#40d4ff"/><rect x="356.30" y="750" width="24.34" height="47.7" fill="#40e0ff"/><rect x="380.24" y="750" width="24.34" height="47.7" fill="#40ffff"/><rect x="404.18" y="750" width="24.34" height="47.7" fill="#40ffe0"/><rect x="428.12" y="750" width="24.34" height="47.7" fill="#40ffb0"/><rect x="452.06" y="750" width="24.34" height="47.7" fill="#40ff70"/><rect x="476.00" y="750" width="24.34" height="47.7" fill="#50ff40"/><rect x="499.94" y="750" width="24.34" height="47.7" fill="#80ff40"/><rect x="523.88" y="750" width="24.34" height="47.7" fill="#a0ff40"/><rect x="547.82" y="750" width="24.34" height="47.7" fill="#c8ff40"/><rect x="571.76" y="750" width="24.34" height="47.7" fill="#e0ff40"/><rect x="595.70" y="750" width="24.34" height="47.7" fill="#fff840"/><rect x="619.64" y="750" width="24.34" height="47.7" fill="#ffe440"/><rect x="643.58" y="750" width="24.34" height="47.7" fill="#ffc840"/><rect x="667.52" y="750" width="24.34" height="47.7" fill="#ffa840"/><rect x="691.46" y="750" width="24.34" height="47.7" fill="#ff8040"/><rect x="715.40" y="750" width="24.34" height="47.7" fill="#ff5c40"/><rect x="739.34" y="750" width="24.34" height="47.7" fill="#ff3c40"/><rect x="763.28" y="750" width="24.34" height="47.7" fill="#ff2850"/><rect x="787.22" y="750" width="24.34" height="47.7" fill="#ff4c90"/><rect x="811.16" y="750" width="24.34" height="47.7" fill="#ff70d0"/><rect x="835.10" y="750" width="24.34" height="47.7" fill="#ffa0ff"/><rect x="859.04" y="750" width="24.34" height="47.7" fill="#ffb8ec"/><rect x="882.98" y="750" width="24.34" height="47.7" fill="#ffdcff"/><rect x="906.92" y="750" width="24.34" height="47.7" fill="#fff0fc"/>
<g font-size="22.3"><text x="116.9" y="827.8" text-anchor="middle">-35</text><text x="236.6" y="827.8" text-anchor="middle">-30</text><text x="356.3" y="827.8" text-anchor="middle">-25</text><text x="476.0" y="827.8" text-anchor="middle">-20</text><text x="595.7" y="827.8" text-anchor="middle">-15</text><text x="715.4" y="827.8" text-anchor="middle">-10</text><text x="835.1" y="827.8" text-anchor="middle">-5</text></g>
</svg>
</body></html>
